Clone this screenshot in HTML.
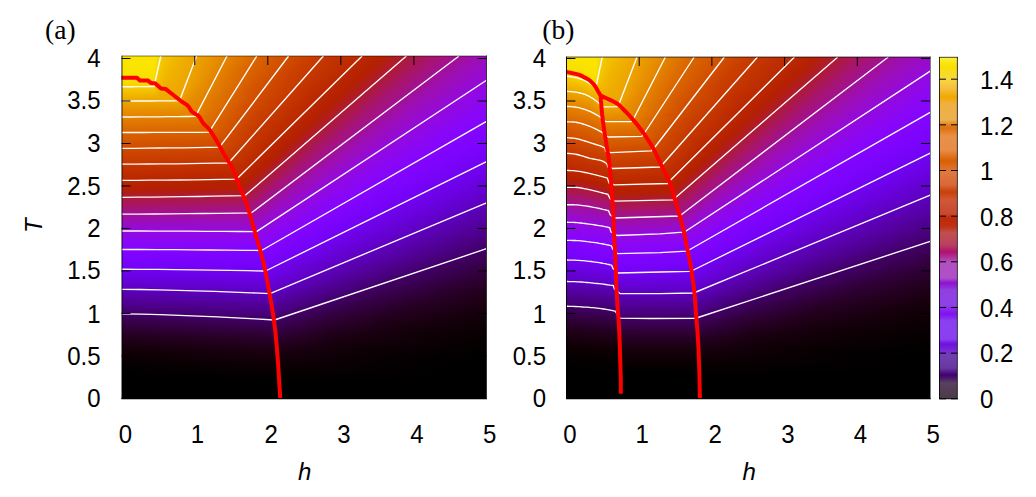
<!DOCTYPE html>
<html><head><meta charset="utf-8">
<style>
html,body{margin:0;padding:0;background:#fff;}
body{width:1036px;height:497px;position:relative;overflow:hidden;font-family:"Liberation Sans",sans-serif;}
.hm{position:absolute;overflow:hidden;}
.hm div{position:absolute;left:0;width:100%;}
#ha{left:122px;top:56px;width:364px;height:343px;}
#hb{left:566px;top:57px;width:364px;height:342px;}
#cb{position:absolute;left:939px;top:57px;width:18px;height:342px;background:linear-gradient(180deg,#fff040 0.0px,#fbe818 5.0px,#f8e000 9.0px,#f8dc20 16.0px,#f8d840 22.0px,#f4c040 31.0px,#f0a800 40.0px,#f0b040 47.0px,#ecb050 63.0px,#e08020 68.0px,#e07010 71.0px,#e89048 79.0px,#e88c48 93.0px,#d86000 104.0px,#dc6a20 109.0px,#e07840 115.0px,#d86838 128.0px,#c84008 135.0px,#d05838 143.0px,#c84830 157.0px,#c02808 161.0px,#c03010 169.0px,#c05050 176.0px,#b84060 188.0px,#b01070 195.0px,#b050c0 205.0px,#b050c8 221.0px,#9010d0 226.0px,#9040e0 233.0px,#9040e8 248.0px,#8010f0 257.0px,#8a40f0 264.0px,#8a40f0 282.0px,#7010e0 287.0px,#7830d0 295.0px,#7040b0 299.0px,#6838a0 311.0px,#400070 318.0px,#5a4060 326.0px,#4a3a48 342.0px);}
svg{position:absolute;left:0;top:0;}
</style></head><body>
<div class="hm" id="ha">
<div style="top:0px;height:1px;background:linear-gradient(90deg,#fbe600 0.5px,#fae400 33.5px,#f3c100 43.5px,#ec9f00 78.5px,#da6300 136.5px,#c73900 196.5px,#b42003 261.5px,#a7146c 310.5px,#9d0eb2 356.5px,#9b0dba 363.5px)"></div>
<div style="top:1px;height:1px;background:linear-gradient(90deg,#fbe600 0.5px,#fae300 33.5px,#f4c300 42.5px,#f0af00 61.5px,#ec9f00 78.5px,#d85e00 140.5px,#c43500 204.5px,#b42003 260.5px,#a7146c 309.5px,#9c0eb2 355.5px,#9b0dbc 363.5px)"></div>
<div style="top:2px;height:1px;background:linear-gradient(90deg,#fbe600 0.5px,#fae300 33.5px,#f4c200 42.5px,#efad00 64.5px,#eb9e00 78.5px,#d85d00 140.5px,#c43400 204.5px,#b42001 258.5px,#a7146b 307.5px,#9d0eb0 352.5px,#9a0dbe 363.5px)"></div>
<div style="top:3px;height:1px;background:linear-gradient(90deg,#fbe600 0.5px,#fae300 33.5px,#f4c300 41.5px,#f1b400 54.5px,#ec9f00 77.5px,#d96000 137.5px,#c53600 199.5px,#b42001 257.5px,#a7146b 306.5px,#9d0eb1 351.5px,#9a0cbf 363.5px)"></div>
<div style="top:4px;height:1px;background:linear-gradient(90deg,#fbe600 0.5px,#fae300 33.5px,#f4c300 41.5px,#f0b300 55.5px,#eca000 76.5px,#db6700 129.5px,#c93c00 186.5px,#b42001 256.5px,#a7146c 305.5px,#9d0eb1 350.5px,#9a0cc1 363.5px)"></div>
<div style="top:5px;height:1px;background:linear-gradient(90deg,#fbe600 0.5px,#fae500 32.5px,#f4c200 41.5px,#f0b300 55.5px,#ec9f00 76.5px,#db6500 130.5px,#c83c00 186.5px,#b42001 255.5px,#a8146a 303.5px,#9d0eb1 348.5px,#990cc2 363.5px)"></div>
<div style="top:6px;height:1px;background:linear-gradient(90deg,#fbe600 0.5px,#fae500 32.5px,#f3c100 41.5px,#f0b200 56.5px,#ec9f00 76.5px,#d85f00 136.5px,#c53600 198.5px,#b42002 254.5px,#a7146b 302.5px,#9d0eb1 347.5px,#990cc4 363.5px)"></div>
<div style="top:7px;height:1px;background:linear-gradient(90deg,#fbe500 0.5px,#fae400 32.5px,#f4c300 40.5px,#f0b300 53.5px,#eca000 75.5px,#db6600 128.5px,#c83c00 184.5px,#b42002 253.5px,#a7146b 301.5px,#9d0eb2 346.5px,#990cc5 363.5px)"></div>
<div style="top:8px;height:1px;background:linear-gradient(90deg,#fbe500 0.5px,#fae400 32.5px,#f4c200 40.5px,#f0b300 53.5px,#eca100 74.5px,#dc6900 124.5px,#c93d00 181.5px,#b42002 252.5px,#a7146c 300.5px,#9d0eb2 345.5px,#980cc7 363.5px)"></div>
<div style="top:9px;height:1px;background:linear-gradient(90deg,#fae500 0.5px,#fae400 32.5px,#f3c100 40.5px,#f0b200 53.5px,#eca000 74.5px,#db6700 125.5px,#c93d00 181.5px,#b42002 251.5px,#a7146c 299.5px,#9c0eb3 344.5px,#980cc8 363.5px)"></div>
<div style="top:10px;height:1px;background:linear-gradient(90deg,#fae500 0.5px,#fae400 32.5px,#f4c300 39.5px,#f1b400 50.5px,#eca100 73.5px,#dc6a00 121.5px,#ca3f00 177.5px,#b42003 250.5px,#a7146d 298.5px,#9c0eb3 343.5px,#980bca 363.5px)"></div>
<div style="top:11px;height:1px;background:linear-gradient(90deg,#fae500 0.5px,#fae300 32.5px,#f4c200 39.5px,#f0b300 51.5px,#eca000 73.5px,#dc6800 123.5px,#c93d00 179.5px,#b42003 249.5px,#a7146b 296.5px,#9d0eb1 340.5px,#980bcb 363.5px)"></div>
<div style="top:12px;height:1px;background:linear-gradient(90deg,#fae400 0.5px,#fae300 32.5px,#f4c400 38.5px,#f1b400 48.5px,#eca100 72.5px,#dc6a00 120.5px,#ca3e00 176.5px,#b42003 248.5px,#a7146c 295.5px,#9d0eb2 339.5px,#970bcd 363.5px)"></div>
<div style="top:13px;height:1px;background:linear-gradient(90deg,#fae400 0.5px,#fae200 32.5px,#f4c300 38.5px,#f1b400 48.5px,#eca000 72.5px,#dc6800 122.5px,#c93d00 177.5px,#b42001 246.5px,#a8156a 293.5px,#9d0eb1 337.5px,#970bce 363.5px)"></div>
<div style="top:14px;height:1px;background:linear-gradient(90deg,#fae400 0.5px,#fae200 32.5px,#f4c200 38.5px,#f0b300 49.5px,#eca100 71.5px,#dc6a00 119.5px,#ca3f00 174.5px,#b42001 245.5px,#a7146b 292.5px,#9d0eb0 335.5px,#970bcf 363.5px)"></div>
<div style="top:15px;height:1px;background:linear-gradient(90deg,#fae300 0.5px,#fae100 32.5px,#f4c500 37.5px,#f1b500 46.5px,#eda200 70.5px,#dd6c00 116.5px,#ca3f00 172.5px,#b42001 244.5px,#a7146b 291.5px,#9d0eb0 334.5px,#960bd1 363.5px)"></div>
<div style="top:16px;height:1px;background:linear-gradient(90deg,#fae300 0.5px,#fae100 32.5px,#f4c300 37.5px,#f1b400 46.5px,#eca200 70.5px,#dc6a00 118.5px,#ca3e00 173.5px,#b42001 243.5px,#a7146b 290.5px,#9d0eb1 333.5px,#960bd2 363.5px)"></div>
<div style="top:17px;height:1px;background:linear-gradient(90deg,#fae300 0.5px,#fae000 32.5px,#f4c200 37.5px,#f1b400 46.5px,#eda300 69.5px,#dd6d00 114.5px,#cb4000 169.5px,#b42002 242.5px,#a7146c 289.5px,#9d0eb1 332.5px,#960ad4 363.5px)"></div>
<div style="top:18px;height:1px;background:linear-gradient(90deg,#fae200 0.5px,#f9df00 32.5px,#f4c500 36.5px,#f1b500 44.5px,#eda400 68.5px,#df7200 108.5px,#cc4300 163.5px,#b62200 235.5px,#b42002 241.5px,#a7146c 288.5px,#9d0eb2 331.5px,#950ad5 363.5px)"></div>
<div style="top:19px;height:1px;background:linear-gradient(90deg,#fae100 0.5px,#f9de00 32.5px,#f4c400 36.5px,#f1b400 44.5px,#eda300 68.5px,#de6e00 112.5px,#cb4000 167.5px,#b42002 240.5px,#a7146b 286.5px,#9d0eb1 329.5px,#950ad6 363.5px)"></div>
<div style="top:20px;height:1px;background:linear-gradient(90deg,#fae100 0.5px,#fae000 31.5px,#f8d500 33.5px,#f4c300 36.5px,#f1b400 44.5px,#eda400 67.5px,#e07400 105.5px,#cd4500 159.5px,#b72300 229.5px,#b42002 239.5px,#a7146b 285.5px,#9d0eb2 328.5px,#950ad7 363.5px)"></div>
<div style="top:21px;height:1px;background:linear-gradient(90deg,#fae000 0.5px,#f9e000 31.5px,#f7d400 33.5px,#f3c100 36.5px,#f0b200 45.5px,#eda300 67.5px,#de6e00 110.5px,#cb4100 164.5px,#b52000 236.5px,#a71472 287.5px,#9c0db6 330.5px,#940ad9 363.5px)"></div>
<div style="top:22px;height:1px;background:linear-gradient(90deg,#f9df00 0.5px,#f9df00 31.5px,#f3c000 36.5px,#f0b200 45.5px,#eda500 66.5px,#e48300 92.5px,#d35100 141.5px,#be2c00 204.5px,#b42003 237.5px,#a7146c 283.5px,#9c0eb3 326.5px,#940ada 363.5px)"></div>
<div style="top:23px;height:1px;background:linear-gradient(90deg,#f9de00 0.5px,#f9dd00 31.5px,#f3bf00 36.5px,#f0b100 45.5px,#eda400 66.5px,#de7000 107.5px,#cc4200 161.5px,#b52100 232.5px,#b42003 236.5px,#a7146d 282.5px,#9c0eb3 325.5px,#940adb 363.5px)"></div>
<div style="top:24px;height:1px;background:linear-gradient(90deg,#f9dc00 0.5px,#f9dc00 31.5px,#f4c100 35.5px,#f0b300 42.5px,#eda500 65.5px,#e58500 89.5px,#d25000 141.5px,#bd2b00 204.5px,#b42003 235.5px,#a7146b 280.5px,#9d0eb1 322.5px,#9309dc 363.5px)"></div>
<div style="top:25px;height:1px;background:linear-gradient(90deg,#f9db00 0.5px,#f9db00 31.5px,#f3c000 35.5px,#f0b100 43.5px,#eda400 65.5px,#df7300 103.5px,#cd4400 156.5px,#b72200 225.5px,#b41f03 234.5px,#a7146c 279.5px,#9d0eb1 321.5px,#9309dd 362.5px,#9309de 363.5px)"></div>
<div style="top:26px;height:1px;background:linear-gradient(90deg,#f8d900 0.5px,#f8d900 31.5px,#f3bf00 35.5px,#f0b100 43.5px,#eda600 64.5px,#e78b00 82.5px,#d25100 139.5px,#be2b00 201.5px,#b42001 232.5px,#a8146a 277.5px,#9d0eb1 319.5px,#9309dc 360.5px,#9309df 363.5px)"></div>
<div style="top:27px;height:1px;background:linear-gradient(90deg,#f8d700 0.5px,#f8d700 31.5px,#f3bd00 35.5px,#f0b000 44.5px,#eda500 64.5px,#e68900 84.5px,#d25000 139.5px,#bd2b00 201.5px,#b42001 231.5px,#a7146b 276.5px,#9d0eb0 317.5px,#940adb 357.5px,#9209e0 363.5px)"></div>
<div style="top:28px;height:1px;background:linear-gradient(90deg,#f8d500 0.5px,#f7d500 31.5px,#f2bc00 35.5px,#f0af00 44.5px,#eda600 63.5px,#e88f00 78.5px,#d35200 136.5px,#be2c00 197.5px,#b42001 230.5px,#a7146b 275.5px,#9d0eb0 316.5px,#940adc 356.5px,#9209e1 363.5px)"></div>
<div style="top:29px;height:1px;background:linear-gradient(90deg,#f7d300 0.5px,#f7d200 31.5px,#f2ba00 35.5px,#efae00 45.5px,#eda500 63.5px,#e89000 77.5px,#d35300 134.5px,#bf2d00 195.5px,#b42002 229.5px,#a7146c 274.5px,#9d0eb1 315.5px,#930adc 355.5px,#9209e3 363.5px)"></div>
<div style="top:30px;height:1px;background:linear-gradient(90deg,#f6d000 0.5px,#f6cf00 31.5px,#f2b900 35.5px,#efad00 46.5px,#eda400 63.5px,#e78e00 78.5px,#d35100 135.5px,#be2c00 196.5px,#b42002 228.5px,#a7146c 273.5px,#9d0eb1 314.5px,#9309dc 354.5px,#9109e4 363.5px)"></div>
<div style="top:31px;height:1px;background:linear-gradient(90deg,#f6cd00 0.5px,#f6cc00 31.5px,#f1b800 35.5px,#efac00 47.5px,#eda600 62.5px,#e99500 72.5px,#d45400 131.5px,#bf2d00 191.5px,#b42002 227.5px,#a7146d 272.5px,#9d0eb2 313.5px,#9309dd 353.5px,#9109e5 363.5px)"></div>
<div style="top:32px;height:1px;background:linear-gradient(90deg,#f5ca00 0.5px,#f5c900 31.5px,#f1b600 35.5px,#efab00 48.5px,#eda500 62.5px,#e99400 72.5px,#d45300 131.5px,#bf2d00 191.5px,#b42002 226.5px,#a7146b 270.5px,#9d0eb1 311.5px,#9309dd 351.5px,#9008e6 363.5px)"></div>
<div style="top:33px;height:1px;background:linear-gradient(90deg,#f5c700 0.5px,#f5c600 31.5px,#f1b500 35.5px,#eeab00 49.5px,#eda600 61.5px,#e99400 71.5px,#d35300 131.5px,#bf2d00 191.5px,#b42003 225.5px,#a7146c 269.5px,#9d0eb2 310.5px,#9309dd 350.5px,#9008e7 363.5px)"></div>
<div style="top:34px;height:1px;background:linear-gradient(90deg,#f4c400 0.5px,#f4c300 31.5px,#f0b200 36.5px,#eda600 61.5px,#e99400 70.5px,#d35100 132.5px,#be2c00 192.5px,#b42003 224.5px,#a7146c 268.5px,#9d0eb2 309.5px,#9309dd 349.5px,#9008e8 363.5px)"></div>
<div style="top:35px;height:1px;background:linear-gradient(90deg,#f3c100 0.5px,#f3c000 31.5px,#f0b100 36.5px,#eda400 61.5px,#e99400 70.5px,#d35100 132.5px,#be2c00 191.5px,#b42003 223.5px,#a7146d 267.5px,#9c0eb3 308.5px,#9309de 348.5px,#8f08e9 363.5px)"></div>
<div style="top:36px;height:1px;background:linear-gradient(90deg,#f3be00 0.5px,#f3bd00 31.5px,#efae00 37.5px,#eda600 60.5px,#e99500 68.5px,#d25000 132.5px,#be2b00 191.5px,#b42001 221.5px,#a7146b 265.5px,#9d0eb0 305.5px,#940adc 344.5px,#8f08ea 363.5px)"></div>
<div style="top:37px;height:1px;background:linear-gradient(90deg,#f2bb00 0.5px,#f1b800 32.5px,#efad00 38.5px,#eda500 60.5px,#e99400 68.5px,#d24f00 133.5px,#bd2a00 192.5px,#b42001 220.5px,#a7146c 264.5px,#9d0eb1 304.5px,#930adc 343.5px,#8f08eb 363.5px)"></div>
<div style="top:38px;height:1px;background:linear-gradient(90deg,#f2b800 0.5px,#f1b500 32.5px,#eeab00 40.5px,#eda600 59.5px,#e99400 67.5px,#d24e00 133.5px,#bd2a00 192.5px,#b42001 219.5px,#a7146c 263.5px,#9d0eb1 303.5px,#9309dd 342.5px,#8e08ec 363.5px)"></div>
<div style="top:39px;height:1px;background:linear-gradient(90deg,#f1b500 0.5px,#f0b300 32.5px,#eea900 42.5px,#eda600 59.5px,#e99500 66.5px,#d14e00 133.5px,#bc2a00 192.5px,#b42001 218.5px,#a7146d 262.5px,#9d0eb2 302.5px,#9309dd 341.5px,#8e08ed 363.5px)"></div>
<div style="top:40px;height:1px;background:linear-gradient(90deg,#f0b300 0.5px,#f0b000 32.5px,#eea800 45.5px,#eda400 59.5px,#e99400 66.5px,#d14d00 133.5px,#bc2a00 191.5px,#b42001 217.5px,#a7146b 260.5px,#9d0eb0 299.5px,#940adc 338.5px,#8d07ee 363.5px)"></div>
<div style="top:41px;height:1px;background:linear-gradient(90deg,#f0b000 0.5px,#efac00 33.5px,#eda600 58.5px,#e99400 65.5px,#d14d00 133.5px,#bc2900 191.5px,#b42002 216.5px,#a7146c 259.5px,#9d0eb0 298.5px,#930adc 337.5px,#8d07ef 363.5px)"></div>
<div style="top:42px;height:1px;background:linear-gradient(90deg,#efad00 0.5px,#eeaa00 34.5px,#eda500 58.5px,#e99500 64.5px,#d14d00 132.5px,#bc2900 190.5px,#b42002 215.5px,#a7146c 258.5px,#9d0eb1 297.5px,#9309dd 336.5px,#8d07f0 363.5px)"></div>
<div style="top:43px;height:1px;background:linear-gradient(90deg,#eeaa00 0.5px,#eda600 57.5px,#e99400 64.5px,#d14c00 132.5px,#bc2900 190.5px,#b42002 214.5px,#a7146d 257.5px,#9d0eb1 296.5px,#9309dd 335.5px,#8c07f1 363.5px)"></div>
<div style="top:44px;height:1px;background:linear-gradient(90deg,#eea800 0.5px,#eda600 57.5px,#e99600 62.5px,#d14d00 131.5px,#bc2900 188.5px,#b42002 213.5px,#a7146d 256.5px,#9d0eb2 295.5px,#9309de 334.5px,#8c07f2 363.5px)"></div>
<div style="top:45px;height:1px;background:linear-gradient(90deg,#eda500 0.5px,#eda400 57.5px,#e99400 62.5px,#e07600 90.5px,#cd4500 139.5px,#b82400 201.5px,#b42003 212.5px,#a7146b 254.5px,#9d0eb1 293.5px,#930adc 331.5px,#8c07f3 363.5px)"></div>
<div style="top:46px;height:1px;background:linear-gradient(90deg,#eda300 0.5px,#eca200 57.5px,#e89200 63.5px,#e37e00 83.5px,#d04b00 131.5px,#bc2800 188.5px,#b42003 211.5px,#a7146c 253.5px,#9d0eb2 292.5px,#9309dd 330.5px,#8b07f3 363.5px)"></div>
<div style="top:47px;height:1px;background:linear-gradient(90deg,#eca000 0.5px,#ec9f00 57.5px,#e89100 63.5px,#e38000 81.5px,#d14c00 129.5px,#bc2900 185.5px,#b42003 210.5px,#a7146c 252.5px,#9d0eb2 291.5px,#9309dd 329.5px,#8b07f4 363.5px)"></div>
<div style="top:48px;height:1px;background:linear-gradient(90deg,#eb9e00 0.5px,#eb9d00 57.5px,#e78e00 64.5px,#e48100 80.5px,#d14d00 127.5px,#bd2a00 183.5px,#b42001 208.5px,#a7146b 250.5px,#9d0eb0 288.5px,#930adc 326.5px,#8a07f5 363.5px)"></div>
<div style="top:49px;height:1px;background:linear-gradient(90deg,#eb9c00 0.5px,#eb9b00 57.5px,#e78d00 64.5px,#e48200 79.5px,#d24f00 124.5px,#bd2b00 180.5px,#b42001 207.5px,#a7146b 249.5px,#9d0eb0 287.5px,#9309dc 325.5px,#8a06f6 363.5px)"></div>
<div style="top:50px;height:1px;background:linear-gradient(90deg,#ea9900 0.5px,#ea9800 57.5px,#e78c00 65.5px,#e48100 79.5px,#d14d00 126.5px,#bc2900 182.5px,#b42001 206.5px,#a7146c 248.5px,#9d0eb1 286.5px,#930adc 323.5px,#8a06f6 363.5px)"></div>
<div style="top:51px;height:1px;background:linear-gradient(90deg,#ea9700 0.5px,#e99300 58.5px,#e68800 71.5px,#d14c00 126.5px,#bc2900 181.5px,#b42001 205.5px,#a7146c 247.5px,#9d0eb1 285.5px,#9309dd 323.5px,#8906f7 363.5px)"></div>
<div style="top:52px;height:1px;background:linear-gradient(90deg,#e99500 0.5px,#e89100 58.5px,#e38000 78.5px,#d14d00 125.5px,#bc2900 180.5px,#b42002 204.5px,#a7146d 246.5px,#9d0eb2 284.5px,#9309de 322.5px,#8906f8 363.5px)"></div>
<div style="top:53px;height:1px;background:linear-gradient(90deg,#e99300 0.5px,#e88f00 58.5px,#e48100 77.5px,#d45500 115.5px,#c02e00 168.5px,#b42002 203.5px,#a7146b 244.5px,#9d0eb0 281.5px,#940adc 318.5px,#8906f7 360.5px,#8906f8 363.5px)"></div>
<div style="top:54px;height:1px;background:linear-gradient(90deg,#e89000 0.5px,#e78e00 58.5px,#e38000 77.5px,#d04c00 124.5px,#bc2900 178.5px,#b42002 202.5px,#a7146c 243.5px,#9d0eb0 280.5px,#930adc 317.5px,#8906f7 359.5px,#8806f9 363.5px)"></div>
<div style="top:55px;height:1px;background:linear-gradient(90deg,#e78e00 0.5px,#e68b00 59.5px,#e48100 76.5px,#dc6900 95.5px,#ca3e00 140.5px,#b42002 201.5px,#a7146c 242.5px,#9d0eb1 279.5px,#9309dc 316.5px,#8906f7 357.5px,#8806f9 363.5px)"></div>
<div style="top:56px;height:1px;background:linear-gradient(90deg,#e78c00 0.5px,#e68800 60.5px,#e48300 75.5px,#df7300 85.5px,#cb4200 135.5px,#b52100 196.5px,#b42003 200.5px,#a7146d 241.5px,#9d0eb1 278.5px,#9309dd 315.5px,#8906f7 356.5px,#8706fa 363.5px)"></div>
<div style="top:57px;height:1px;background:linear-gradient(90deg,#e68a00 0.5px,#e58600 63.5px,#e48100 75.5px,#df7200 86.5px,#cb4200 134.5px,#b52100 195.5px,#b42003 199.5px,#a7146d 240.5px,#9d0eb2 277.5px,#9309dd 314.5px,#8906f8 355.5px,#8706fa 363.5px)"></div>
<div style="top:58px;height:1px;background:linear-gradient(90deg,#e68800 0.5px,#e48400 73.5px,#df7200 84.5px,#ca4000 136.5px,#b42003 198.5px,#a7146c 238.5px,#9d0eb1 275.5px,#930adc 311.5px,#8906f7 352.5px,#8706fb 363.5px)"></div>
<div style="top:59px;height:1px;background:linear-gradient(90deg,#e58600 0.5px,#e48100 74.5px,#df7200 84.5px,#ca3f00 136.5px,#b42000 196.5px,#a7146c 237.5px,#9d0eb2 274.5px,#9309dd 310.5px,#8906f7 351.5px,#8605fb 363.5px)"></div>
<div style="top:60px;height:1px;background:linear-gradient(90deg,#e48400 0.5px,#e48200 73.5px,#df7300 81.5px,#c93d00 138.5px,#b42001 195.5px,#a7146d 236.5px,#9d0eb2 273.5px,#9309de 310.5px,#8906f8 351.5px,#8605fc 363.5px)"></div>
<div style="top:61px;height:1px;background:linear-gradient(90deg,#e48200 0.5px,#e38000 73.5px,#df7100 82.5px,#c93c00 138.5px,#b42001 194.5px,#a7146b 234.5px,#9d0eb0 270.5px,#940adc 306.5px,#8906f7 347.5px,#8505fc 363.5px)"></div>
<div style="top:62px;height:1px;background:linear-gradient(90deg,#e37f00 0.5px,#e27b00 74.5px,#d04c00 118.5px,#bc2900 170.5px,#b42001 193.5px,#a7146c 233.5px,#9d0eb0 269.5px,#930adc 305.5px,#8906f7 345.5px,#8505fd 363.5px)"></div>
<div style="top:63px;height:1px;background:linear-gradient(90deg,#e37d00 0.5px,#e17a00 74.5px,#cb4000 131.5px,#b52000 191.5px,#a71471 234.5px,#9c0db5 271.5px,#9209e0 308.5px,#8806f9 349.5px,#8505fd 363.5px)"></div>
<div style="top:64px;height:1px;background:linear-gradient(90deg,#e27b00 0.5px,#e17800 74.5px,#c93d00 134.5px,#b42002 191.5px,#a7146d 231.5px,#9d0eb1 267.5px,#9309dd 303.5px,#8906f8 343.5px,#8405fd 363.5px)"></div>
<div style="top:65px;height:1px;background:linear-gradient(90deg,#e17900 0.5px,#e07600 74.5px,#c83b00 137.5px,#b42002 190.5px,#a7146d 230.5px,#9d0eb2 266.5px,#9309de 302.5px,#8906f8 342.5px,#8405fd 363.5px)"></div>
<div style="top:66px;height:1px;background:linear-gradient(90deg,#e17700 0.5px,#e07400 74.5px,#d65a00 101.5px,#c33300 148.5px,#b42002 189.5px,#a7146c 228.5px,#9d0eaf 263.5px,#940adb 298.5px,#8906f7 338.5px,#8305fe 363.5px)"></div>
<div style="top:67px;height:1px;background:linear-gradient(90deg,#e07500 0.5px,#df7300 74.5px,#d85e00 97.5px,#c53600 142.5px,#b42002 188.5px,#a7146c 227.5px,#9d0eb0 262.5px,#940adc 297.5px,#8906f7 337.5px,#8305fe 363.5px)"></div>
<div style="top:68px;height:1px;background:linear-gradient(90deg,#df7300 0.5px,#de7000 75.5px,#d96200 93.5px,#c63800 138.5px,#b42003 187.5px,#a7146d 226.5px,#9d0eb1 261.5px,#930adc 296.5px,#8906f7 336.5px,#8305fe 363.5px)"></div>
<div style="top:69px;height:1px;background:linear-gradient(90deg,#df7100 0.5px,#de6e00 75.5px,#da6200 92.5px,#c73900 136.5px,#b42003 186.5px,#a7146d 225.5px,#9d0eb1 260.5px,#9309dd 295.5px,#8906f7 334.5px,#8205fe 363.5px)"></div>
<div style="top:70px;height:1px;background:linear-gradient(90deg,#de7000 0.5px,#dd6c00 76.5px,#da6300 91.5px,#c73a00 134.5px,#b42000 184.5px,#a7146b 223.5px,#9d0eb0 258.5px,#930adc 293.5px,#8906f7 332.5px,#8204ff 363.5px)"></div>
<div style="top:71px;height:1px;background:linear-gradient(90deg,#de6e00 0.5px,#dc6a00 77.5px,#da6300 90.5px,#c83b00 131.5px,#b42000 183.5px,#a7146c 222.5px,#9d0eb1 257.5px,#9309dd 292.5px,#8906f7 331.5px,#8104ff 363.5px)"></div>
<div style="top:72px;height:1px;background:linear-gradient(90deg,#dd6c00 0.5px,#dc6800 81.5px,#d96200 90.5px,#c63900 134.5px,#b42001 182.5px,#a7146d 221.5px,#9d0eb2 256.5px,#9309dd 291.5px,#8906f8 330.5px,#8104ff 363.5px)"></div>
<div style="top:73px;height:1px;background:linear-gradient(90deg,#dc6a00 0.5px,#db6600 87.5px,#cb4100 122.5px,#b52100 178.5px,#b41f04 182.5px,#a7146d 220.5px,#9d0eb2 255.5px,#9309de 290.5px,#8906f8 329.5px,#8104ff 363.5px)"></div>
<div style="top:74px;height:1px;background:linear-gradient(90deg,#dc6800 0.5px,#db6500 87.5px,#ce4700 114.5px,#b92600 166.5px,#b42001 180.5px,#a7146b 218.5px,#9d0eb0 252.5px,#940adb 286.5px,#8906f7 325.5px,#8004ff 363.5px)"></div>
<div style="top:75px;height:1px;background:linear-gradient(90deg,#db6600 0.5px,#da6400 87.5px,#d14e00 106.5px,#bd2b00 154.5px,#b42001 179.5px,#a7146c 217.5px,#9d0eb0 251.5px,#940adc 285.5px,#8906f7 324.5px,#8004ff 363.5px)"></div>
<div style="top:76px;height:1px;background:linear-gradient(90deg,#da6500 0.5px,#da6300 87.5px,#cb4100 119.5px,#b62100 174.5px,#b41f05 179.5px,#a7146d 216.5px,#9d0eb1 250.5px,#9309dc 284.5px,#8906f7 322.5px,#7f04ff 363.5px)"></div>
<div style="top:77px;height:1px;background:linear-gradient(90deg,#da6300 0.5px,#d96100 87.5px,#c63700 132.5px,#b42002 177.5px,#a7146d 215.5px,#9d0eb1 249.5px,#9309dd 283.5px,#8906f7 321.5px,#7f04ff 363.5px)"></div>
<div style="top:78px;height:1px;background:linear-gradient(90deg,#d96100 0.5px,#d85d00 88.5px,#c23200 139.5px,#b42002 176.5px,#a7146e 214.5px,#9d0eb2 248.5px,#9309dd 282.5px,#8906f8 320.5px,#7e04ff 363.5px)"></div>
<div style="top:79px;height:1px;background:linear-gradient(90deg,#d85f00 0.5px,#d75c00 88.5px,#c13000 141.5px,#b42003 175.5px,#a7146c 212.5px,#9d0eaf 245.5px,#940adb 278.5px,#8906f7 316.5px,#7e04ff 363.5px)"></div>
<div style="top:80px;height:1px;background:linear-gradient(90deg,#d85e00 0.5px,#d75a00 88.5px,#bf2e00 144.5px,#b42003 174.5px,#a7146c 211.5px,#9d0eb0 244.5px,#940adb 277.5px,#8906f7 315.5px,#7e04ff 363.5px)"></div>
<div style="top:81px;height:1px;background:linear-gradient(90deg,#d75c00 0.5px,#d65900 88.5px,#be2c00 146.5px,#b42003 173.5px,#a7146d 210.5px,#9d0eb1 243.5px,#930adc 276.5px,#8906f7 314.5px,#7d04ff 362.5px,#7d04ff 363.5px)"></div>
<div style="top:82px;height:1px;background:linear-gradient(90deg,#d75b00 0.5px,#d55700 89.5px,#bd2a00 149.5px,#b42000 171.5px,#a7146b 208.5px,#9d0eb0 241.5px,#940adb 274.5px,#8906f7 312.5px,#7e04ff 359.5px,#7d03fe 363.5px)"></div>
<div style="top:83px;height:1px;background:linear-gradient(90deg,#d65900 0.5px,#d45500 89.5px,#bc2800 151.5px,#b42000 170.5px,#a7146c 207.5px,#9d0eb0 240.5px,#930adc 273.5px,#8906f7 310.5px,#7e04ff 357.5px,#7c03fe 363.5px)"></div>
<div style="top:84px;height:1px;background:linear-gradient(90deg,#d55700 0.5px,#d45300 90.5px,#ba2700 153.5px,#b42001 169.5px,#a7146c 206.5px,#9d0eb1 239.5px,#9309dc 272.5px,#8906f7 309.5px,#7d04ff 356.5px,#7c03fe 363.5px)"></div>
<div style="top:85px;height:1px;background:linear-gradient(90deg,#d55600 0.5px,#d35200 91.5px,#ba2600 153.5px,#b42001 168.5px,#a7146d 205.5px,#9d0eb2 238.5px,#9309dd 271.5px,#8906f8 308.5px,#7d04ff 355.5px,#7b03fe 363.5px)"></div>
<div style="top:86px;height:1px;background:linear-gradient(90deg,#d45400 0.5px,#d25000 93.5px,#ba2700 151.5px,#b42001 167.5px,#a7146e 204.5px,#9d0eb2 237.5px,#9309de 270.5px,#8906f8 307.5px,#7d04ff 354.5px,#7b03fd 363.5px)"></div>
<div style="top:87px;height:1px;background:linear-gradient(90deg,#d35300 0.5px,#d14e00 97.5px,#bd2b00 142.5px,#b42001 166.5px,#a7146c 202.5px,#9d0eaf 234.5px,#940adb 266.5px,#8906f7 303.5px,#7e04ff 349.5px,#7b03fd 363.5px)"></div>
<div style="top:88px;height:1px;background:linear-gradient(90deg,#d35100 0.5px,#d14d00 98.5px,#bd2a00 143.5px,#b42002 165.5px,#a7146c 201.5px,#9d0eb0 233.5px,#940adc 265.5px,#8906f7 302.5px,#7e04ff 348.5px,#7a03fd 363.5px)"></div>
<div style="top:89px;height:1px;background:linear-gradient(90deg,#d25000 0.5px,#d04c00 98.5px,#bc2900 143.5px,#b42002 164.5px,#a7146d 200.5px,#9d0eb1 232.5px,#930adc 264.5px,#8906f7 301.5px,#7d04ff 347.5px,#7a03fc 363.5px)"></div>
<div style="top:90px;height:1px;background:linear-gradient(90deg,#d14e00 0.5px,#d04b00 98.5px,#bb2800 145.5px,#b42002 163.5px,#a7146e 199.5px,#9d0eb1 231.5px,#9309dd 263.5px,#8906f7 299.5px,#7d04ff 345.5px,#7903fc 363.5px)"></div>
<div style="top:91px;height:1px;background:linear-gradient(90deg,#d14d00 0.5px,#cf4900 98.5px,#ba2600 147.5px,#b42003 162.5px,#a7146e 198.5px,#9d0eb2 230.5px,#9309dd 262.5px,#8906f8 298.5px,#7d04ff 344.5px,#7903fc 363.5px)"></div>
<div style="top:92px;height:1px;background:linear-gradient(90deg,#d04b00 0.5px,#ce4700 99.5px,#b82400 151.5px,#b42003 161.5px,#a7146c 196.5px,#9d0eaf 227.5px,#940adc 259.5px,#8906f7 295.5px,#7e04ff 340.5px,#7803fb 363.5px)"></div>
<div style="top:93px;height:1px;background:linear-gradient(90deg,#cf4a00 0.5px,#cd4600 99.5px,#b72200 153.5px,#b41f03 160.5px,#a7146d 195.5px,#9d0eb0 226.5px,#940adb 257.5px,#8906f7 293.5px,#7e04ff 338.5px,#7803fb 363.5px)"></div>
<div style="top:94px;height:1px;background:linear-gradient(90deg,#cf4800 0.5px,#cd4500 99.5px,#b52100 155.5px,#b41f04 159.5px,#a7146d 194.5px,#9d0eb1 225.5px,#940adc 256.5px,#8906f7 292.5px,#7e04ff 337.5px,#7703fa 363.5px)"></div>
<div style="top:95px;height:1px;background:linear-gradient(90deg,#ce4700 0.5px,#cc4300 100.5px,#b42000 157.5px,#a7146c 192.5px,#9d0eaf 223.5px,#940adb 254.5px,#8906f7 290.5px,#7e04ff 335.5px,#7703fa 363.5px)"></div>
<div style="top:96px;height:1px;background:linear-gradient(90deg,#cd4600 0.5px,#cb4100 100.5px,#b42001 156.5px,#a7146c 191.5px,#9d0eb0 222.5px,#940adc 253.5px,#8906f7 289.5px,#7d04ff 334.5px,#7703f9 363.5px)"></div>
<div style="top:97px;height:1px;background:linear-gradient(90deg,#cd4400 0.5px,#ca4000 101.5px,#b42001 155.5px,#a7146d 190.5px,#9d0eb1 221.5px,#930adc 252.5px,#8906f7 287.5px,#7e04ff 332.5px,#7603f9 363.5px)"></div>
<div style="top:98px;height:1px;background:linear-gradient(90deg,#cc4300 0.5px,#ca3f00 101.5px,#b42001 154.5px,#a7146d 189.5px,#9d0eb2 220.5px,#9309dd 251.5px,#8906f7 286.5px,#7d04ff 331.5px,#7602f8 363.5px)"></div>
<div style="top:99px;height:1px;background:linear-gradient(90deg,#cb4200 0.5px,#c93d00 103.5px,#b42002 153.5px,#a7146e 188.5px,#9d0eb2 219.5px,#9309dd 250.5px,#8906f8 285.5px,#7d04ff 330.5px,#7502f7 363.5px)"></div>
<div style="top:100px;height:1px;background:linear-gradient(90deg,#cb4000 0.5px,#c83c00 105.5px,#b42002 152.5px,#a7146c 186.5px,#9d0eaf 216.5px,#940adb 246.5px,#8a06f7 281.5px,#7e04ff 325.5px,#7502f7 363.5px)"></div>
<div style="top:101px;height:1px;background:linear-gradient(90deg,#ca3f00 0.5px,#c83b00 106.5px,#b42002 151.5px,#a7146d 185.5px,#9d0eb0 215.5px,#940adb 245.5px,#8906f7 280.5px,#7e04ff 324.5px,#7402f6 363.5px)"></div>
<div style="top:102px;height:1px;background:linear-gradient(90deg,#c93e00 0.5px,#c73900 107.5px,#b42002 150.5px,#a7146d 184.5px,#9d0eb1 214.5px,#940adc 244.5px,#8906f7 279.5px,#7d04ff 323.5px,#7402f5 363.5px)"></div>
<div style="top:103px;height:1px;background:linear-gradient(90deg,#c93d00 0.5px,#c63900 107.5px,#b42003 149.5px,#a7146e 183.5px,#9d0eb1 213.5px,#930adc 243.5px,#8906f8 278.5px,#7d04ff 322.5px,#7302f5 363.5px)"></div>
<div style="top:104px;height:1px;background:linear-gradient(90deg,#c83b00 0.5px,#c63700 108.5px,#b42000 147.5px,#a7146f 182.5px,#9d0eb2 212.5px,#9309dd 242.5px,#8906f7 276.5px,#7d04ff 320.5px,#7302f4 363.5px)"></div>
<div style="top:105px;height:1px;background:linear-gradient(90deg,#c73a00 0.5px,#c53600 108.5px,#b42000 146.5px,#a7146d 180.5px,#9d0eaf 209.5px,#940adb 239.5px,#8906f7 273.5px,#7e04ff 316.5px,#7202f3 363.5px)"></div>
<div style="top:106px;height:1px;background:linear-gradient(90deg,#c73900 0.5px,#c43400 109.5px,#b42000 145.5px,#a7146d 179.5px,#9d0eb0 208.5px,#940adc 238.5px,#8906f7 272.5px,#7e04ff 315.5px,#7202f2 363.5px)"></div>
<div style="top:107px;height:1px;background:linear-gradient(90deg,#c63800 0.5px,#c33400 109.5px,#b42000 144.5px,#a7146e 178.5px,#9d0eb0 207.5px,#9309dc 237.5px,#8906f7 271.5px,#7d04ff 314.5px,#7102f1 363.5px)"></div>
<div style="top:108px;height:1px;background:linear-gradient(90deg,#c53700 0.5px,#c33300 109.5px,#b42001 143.5px,#a7146c 176.5px,#9d0eaf 205.5px,#940adb 234.5px,#8906f7 268.5px,#7e04ff 310.5px,#7102f1 363.5px)"></div>
<div style="top:109px;height:1px;background:linear-gradient(90deg,#c53600 0.5px,#c23200 109.5px,#b42001 142.5px,#a7146d 175.5px,#9d0eb0 204.5px,#940adb 233.5px,#8906f7 267.5px,#7e04ff 309.5px,#7002f0 363.5px)"></div>
<div style="top:110px;height:1px;background:linear-gradient(90deg,#c43500 0.5px,#c13000 110.5px,#b42001 141.5px,#a7146d 174.5px,#9d0eb1 203.5px,#930adc 232.5px,#8906f7 266.5px,#7e04ff 308.5px,#7002ef 363.5px)"></div>
<div style="top:111px;height:1px;background:linear-gradient(90deg,#c33300 0.5px,#c02f00 111.5px,#b42002 140.5px,#a7146e 173.5px,#9d0eb1 202.5px,#9309dc 231.5px,#8906f7 264.5px,#7e04ff 306.5px,#7002ee 363.5px)"></div>
<div style="top:112px;height:1px;background:linear-gradient(90deg,#c33200 0.5px,#c02e00 111.5px,#b42002 139.5px,#a7146f 172.5px,#9d0eb2 201.5px,#9309dd 230.5px,#8906f7 263.5px,#7d04ff 305.5px,#6f02ed 363.5px)"></div>
<div style="top:113px;height:1px;background:linear-gradient(90deg,#c23100 0.5px,#bf2d00 113.5px,#b42002 138.5px,#a7146c 170.5px,#9d0eaf 198.5px,#940adb 227.5px,#8906f7 260.5px,#7e04ff 302.5px,#6f02ec 362.5px,#6f02ec 363.5px)"></div>
<div style="top:114px;height:1px;background:linear-gradient(90deg,#c13000 0.5px,#be2c00 114.5px,#b42003 137.5px,#a7146d 169.5px,#9d0eb0 197.5px,#930adc 226.5px,#8906f7 259.5px,#7d04ff 301.5px,#6f02ec 361.5px,#6e02eb 363.5px)"></div>
<div style="top:115px;height:1px;background:linear-gradient(90deg,#c12f00 0.5px,#be2b00 114.5px,#b42003 136.5px,#a7146e 168.5px,#9d0eb1 196.5px,#9309dc 225.5px,#8906f7 258.5px,#7d04ff 300.5px,#6e02eb 360.5px,#6e02ea 363.5px)"></div>
<div style="top:116px;height:1px;background:linear-gradient(90deg,#c02e00 0.5px,#bd2a00 115.5px,#b42000 134.5px,#a7146f 167.5px,#9d0eb1 195.5px,#9309dd 224.5px,#8906f8 257.5px,#7d04ff 299.5px,#6e02ea 360.5px,#6d02e9 363.5px)"></div>
<div style="top:117px;height:1px;background:linear-gradient(90deg,#bf2d00 0.5px,#bc2900 116.5px,#b42000 133.5px,#a7146c 165.5px,#9d0eae 192.5px,#940ada 220.5px,#8a06f7 253.5px,#7e04ff 294.5px,#6f02ed 352.5px,#6d02e8 363.5px)"></div>
<div style="top:118px;height:1px;background:linear-gradient(90deg,#be2c00 0.5px,#bb2800 116.5px,#b42000 132.5px,#a7146d 164.5px,#9d0eaf 191.5px,#940adb 219.5px,#8a06f6 251.5px,#7e04ff 291.5px,#7002ee 348.5px,#6c01e7 363.5px)"></div>
<div style="top:119px;height:1px;background:linear-gradient(90deg,#be2b00 0.5px,#bb2700 117.5px,#b42000 131.5px,#a7146e 163.5px,#9d0eb0 190.5px,#940adb 218.5px,#8906f7 250.5px,#7e04ff 290.5px,#6f02ed 348.5px,#6c01e6 363.5px)"></div>
<div style="top:120px;height:1px;background:linear-gradient(90deg,#bd2a00 0.5px,#ba2600 118.5px,#b42001 130.5px,#a7146f 162.5px,#9d0eb0 189.5px,#930adc 217.5px,#8906f7 249.5px,#7d04ff 290.5px,#6e02ec 349.5px,#6b01e4 363.5px)"></div>
<div style="top:121px;height:1px;background:linear-gradient(90deg,#bc2900 0.5px,#b92500 118.5px,#b42001 129.5px,#a7146c 160.5px,#9d0eaf 187.5px,#940adb 215.5px,#8906f7 247.5px,#7e04ff 287.5px,#6f02ed 345.5px,#6b01e3 363.5px)"></div>
<div style="top:122px;height:1px;background:linear-gradient(90deg,#bc2800 0.5px,#b82400 118.5px,#b42001 128.5px,#a7146d 159.5px,#9d0eb0 186.5px,#930adc 214.5px,#8906f7 246.5px,#7e04ff 286.5px,#6f02ec 344.5px,#6a01e2 363.5px)"></div>
<div style="top:123px;height:1px;background:linear-gradient(90deg,#bb2700 0.5px,#b72300 119.5px,#b42002 127.5px,#a7146e 158.5px,#9d0eb1 185.5px,#940adb 212.5px,#8906f7 244.5px,#7e04ff 284.5px,#6f02ec 342.5px,#6a01e1 363.5px)"></div>
<div style="top:124px;height:1px;background:linear-gradient(90deg,#ba2700 0.5px,#b72300 119.5px,#b42002 126.5px,#a7146e 157.5px,#9d0eb1 184.5px,#930adc 211.5px,#8906f7 242.5px,#7e04ff 282.5px,#6f02ed 339.5px,#6901e0 363.5px)"></div>
<div style="top:125px;height:1px;background:linear-gradient(90deg,#b92600 0.5px,#b62200 120.5px,#b42002 125.5px,#a7146f 156.5px,#9d0eb0 182.5px,#940adc 209.5px,#8906f7 240.5px,#7e04ff 279.5px,#6f02ed 335.5px,#6901de 363.5px)"></div>
<div style="top:126px;height:1px;background:linear-gradient(90deg,#b92500 0.5px,#b52100 121.5px,#b42003 124.5px,#a7146d 154.5px,#9d0eaf 180.5px,#940adb 207.5px,#8a06f7 238.5px,#7e04ff 277.5px,#6f02ed 333.5px,#6801dd 363.5px)"></div>
<div style="top:127px;height:1px;background:linear-gradient(90deg,#b82400 0.5px,#b42000 122.5px,#a71471 154.5px,#9d0eb2 180.5px,#9309dd 207.5px,#8906f7 238.5px,#7e04ff 277.5px,#6f02ec 334.5px,#6801dc 363.5px)"></div>
<div style="top:128px;height:1px;background:linear-gradient(90deg,#b72300 0.5px,#b42002 121.5px,#a61474 154.5px,#9c0db5 180.5px,#9209e0 208.5px,#8806f9 239.5px,#7c03fe 279.5px,#6d02e8 339.5px,#6701da 363.5px)"></div>
<div style="top:129px;height:1px;background:linear-gradient(90deg,#b72200 0.5px,#b42003 119.5px,#b21d17 126.5px,#a61375 153.5px,#9c0db5 179.5px,#9209e0 207.5px,#8806f9 238.5px,#7c03fe 278.5px,#6d02e8 338.5px,#6701d9 363.5px)"></div>
<div style="top:130px;height:1px;background:linear-gradient(90deg,#b62200 0.5px,#b42003 117.5px,#b21d18 125.5px,#a61376 152.5px,#9c0db6 178.5px,#9209e1 206.5px,#8806f9 237.5px,#7c03fe 277.5px,#6c01e7 337.5px,#6601d8 363.5px)"></div>
<div style="top:131px;height:1px;background:linear-gradient(90deg,#b52100 0.5px,#b42000 114.5px,#b11d1c 125.5px,#a61377 151.5px,#9c0db7 177.5px,#9209e2 205.5px,#8806fa 236.5px,#7c03fe 276.5px,#6c01e6 337.5px,#6601d6 363.5px)"></div>
<div style="top:132px;height:1px;background:linear-gradient(90deg,#b52000 0.5px,#b41f07 114.5px,#b11d1c 124.5px,#a61377 150.5px,#9c0db8 176.5px,#9209e2 204.5px,#8706fa 235.5px,#7b03fe 275.5px,#6c01e5 336.5px,#6501d5 363.5px)"></div>
<div style="top:133px;height:1px;background:linear-gradient(90deg,#b41f04 0.5px,#b31e0f 115.5px,#b11c21 124.5px,#a61378 149.5px,#9c0db7 174.5px,#9209e1 201.5px,#8806f9 232.5px,#7c03fe 272.5px,#6c01e6 332.5px,#6501d3 363.5px)"></div>
<div style="top:134px;height:1px;background:linear-gradient(90deg,#b31f0a 0.5px,#b21d15 115.5px,#b01c25 124.5px,#a61379 148.5px,#9c0db7 173.5px,#9209e1 200.5px,#8806fa 231.5px,#7c03fe 271.5px,#6b01e5 332.5px,#6401d2 363.5px)"></div>
<div style="top:135px;height:1px;background:linear-gradient(90deg,#b21e11 0.5px,#b11d1b 115.5px,#b01b29 124.5px,#a5137a 147.5px,#9b0db8 172.5px,#9209e2 199.5px,#8706fa 230.5px,#7b03fe 270.5px,#6b01e4 331.5px,#6401d1 363.5px)"></div>
<div style="top:136px;height:1px;background:linear-gradient(90deg,#b21d17 0.5px,#b01c23 116.5px,#b01b2a 123.5px,#a5137b 146.5px,#9b0db9 171.5px,#9209e3 198.5px,#8706fa 229.5px,#7b03fe 269.5px,#6b01e3 331.5px,#6301cf 363.5px)"></div>
<div style="top:137px;height:1px;background:linear-gradient(90deg,#b11c1d 0.5px,#b01b2a 118.5px,#af1b2e 123.5px,#a5137b 145.5px,#9b0dba 170.5px,#9109e3 197.5px,#8706fb 228.5px,#7b03fd 268.5px,#6a01e3 330.5px,#6201cd 363.5px)"></div>
<div style="top:138px;height:1px;background:linear-gradient(90deg,#b01c24 0.5px,#af1a30 122.5px,#a41285 147.5px,#9a0cbe 171.5px,#9008e7 199.5px,#8605fc 230.5px,#7903fc 271.5px,#6801dd 337.5px,#6201cc 363.5px)"></div>
<div style="top:139px;height:1px;background:linear-gradient(90deg,#b01b2a 0.5px,#ae1a37 123.5px,#a51280 144.5px,#9b0dbb 168.5px,#9109e4 195.5px,#8605fb 226.5px,#7a03fd 266.5px,#6a01e1 329.5px,#6101ca 363.5px)"></div>
<div style="top:140px;height:1px;background:linear-gradient(90deg,#af1a30 0.5px,#ad193d 123.5px,#a3118a 146.5px,#9a0cc2 170.5px,#8f08e9 198.5px,#8505fd 230.5px,#7803fb 272.5px,#6601d7 342.5px,#6101c9 363.5px)"></div>
<div style="top:141px;height:1px;background:linear-gradient(90deg,#ae1a36 0.5px,#ad1843 123.5px,#a21193 148.5px,#990cc6 171.5px,#8e08ed 200.5px,#8305fe 232.5px,#7703f9 275.5px,#6401d1 349.5px,#6001c7 363.5px)"></div>
<div style="top:142px;height:1px;background:linear-gradient(90deg,#ad193c 0.5px,#ac1848 123.5px,#a0109b 150.5px,#970bcc 173.5px,#8d07f0 202.5px,#8204ff 235.5px,#7502f7 280.5px,#6001c8 360.5px,#6001c6 363.5px)"></div>
<div style="top:143px;height:1px;background:linear-gradient(90deg,#ad1843 0.5px,#ab174e 123.5px,#9f0fa4 152.5px,#960ad3 176.5px,#8b07f3 205.5px,#8004ff 240.5px,#7202f2 288.5px,#5f01c4 363.5px)"></div>
<div style="top:144px;height:1px;background:linear-gradient(90deg,#ac1849 0.5px,#aa1754 123.5px,#9e0eac 154.5px,#940ad8 178.5px,#8a06f6 207.5px,#7f04ff 242.5px,#7002ef 292.5px,#5f01c2 363.5px)"></div>
<div style="top:145px;height:1px;background:linear-gradient(90deg,#ab174f 0.5px,#aa165a 123.5px,#9d0eb2 155.5px,#9309dd 180.5px,#8906f7 208.5px,#7e04ff 244.5px,#6e02ec 297.5px,#5e01c0 363.5px)"></div>
<div style="top:146px;height:1px;background:linear-gradient(90deg,#aa1755 0.5px,#a9165f 123.5px,#a5137d 134.5px,#9b0db9 157.5px,#9109e3 183.5px,#8706fa 212.5px,#7b03fe 250.5px,#6b01e4 309.5px,#5e01bf 363.5px)"></div>
<div style="top:147px;height:1px;background:linear-gradient(90deg,#aa165b 0.5px,#a81565 123.5px,#a5137a 132.5px,#9c0db8 155.5px,#9209e1 180.5px,#8806fa 209.5px,#7c03fe 246.5px,#6c01e6 303.5px,#5d01bd 363.5px)"></div>
<div style="top:148px;height:1px;background:linear-gradient(90deg,#a91560 0.5px,#a8146a 123.5px,#a5137f 132.5px,#9b0dbb 155.5px,#9109e4 181.5px,#8706fb 210.5px,#7b03fd 248.5px,#6a01e2 308.5px,#5c01bb 363.5px)"></div>
<div style="top:149px;height:1px;background:linear-gradient(90deg,#a81566 0.5px,#a71472 124.5px,#a5127f 131.5px,#9b0dbc 154.5px,#9109e5 180.5px,#8605fb 209.5px,#7a03fd 247.5px,#6901e0 308.5px,#5c01ba 363.5px)"></div>
<div style="top:150px;height:1px;background:linear-gradient(90deg,#a7146c 0.5px,#a61377 124.5px,#a41283 131.5px,#9a0cbe 154.5px,#9008e7 180.5px,#8605fc 210.5px,#7903fc 249.5px,#6801db 313.5px,#5b01b8 363.5px)"></div>
<div style="top:151px;height:1px;background:linear-gradient(90deg,#a71472 0.5px,#a5137c 124.5px,#a31287 131.5px,#9a0cbf 153.5px,#9008e7 179.5px,#8505fc 209.5px,#7903fc 248.5px,#6701db 312.5px,#5b01b7 363.5px)"></div>
<div style="top:152px;height:1px;background:linear-gradient(90deg,#a61377 0.5px,#a41282 125.5px,#a3118b 131.5px,#990cc2 153.5px,#8f08e9 179.5px,#8505fd 209.5px,#7803fb 248.5px,#6601d8 314.5px,#5a01b5 363.5px)"></div>
<div style="top:153px;height:1px;background:linear-gradient(90deg,#a5137d 0.5px,#a31287 126.5px,#a2118f 131.5px,#990cc5 153.5px,#8e08ec 180.5px,#8405fe 210.5px,#7703fa 250.5px,#6401d3 319.5px,#5a00b3 363.5px)"></div>
<div style="top:154px;height:1px;background:linear-gradient(90deg,#a41282 0.5px,#a3118d 129.5px,#990cc4 151.5px,#8f08ea 177.5px,#8405fd 207.5px,#7703fa 247.5px,#6501d5 314.5px,#5900b2 363.5px)"></div>
<div style="top:155px;height:1px;background:linear-gradient(90deg,#a31288 0.5px,#a21191 129.5px,#990cc7 151.5px,#8e08ed 178.5px,#8305fe 208.5px,#7703f9 248.5px,#6301d0 318.5px,#5900b0 363.5px)"></div>
<div style="top:156px;height:1px;background:linear-gradient(90deg,#a3118d 0.5px,#a11095 129.5px,#980cc8 150.5px,#8e08ee 177.5px,#8305fe 207.5px,#7603f9 248.5px,#6301ce 319.5px,#5800ae 363.5px)"></div>
<div style="top:157px;height:1px;background:linear-gradient(90deg,#a21192 0.5px,#a11099 129.5px,#970bcc 151.5px,#8d07ef 177.5px,#8205fe 208.5px,#7502f7 250.5px,#6101c8 325.5px,#5800ad 363.5px)"></div>
<div style="top:158px;height:1px;background:linear-gradient(90deg,#a11097 0.5px,#a00fa1 130.5px,#960ad4 154.5px,#8b07f3 180.5px,#8004ff 212.5px,#7202f3 256.5px,#5700ab 363.5px)"></div>
<div style="top:159px;height:1px;background:linear-gradient(90deg,#a0109d 0.5px,#9f0fa5 130.5px,#950ad8 155.5px,#8a07f5 181.5px,#7f04ff 213.5px,#7102f1 259.5px,#5700a9 363.5px)"></div>
<div style="top:160px;height:1px;background:linear-gradient(90deg,#9f0fa1 0.5px,#9e0fa9 130.5px,#940adb 156.5px,#8906f7 182.5px,#7e04ff 215.5px,#6f02ed 263.5px,#5600a7 363.5px)"></div>
<div style="top:161px;height:1px;background:linear-gradient(90deg,#9f0fa6 0.5px,#9d0ead 130.5px,#9309df 157.5px,#8906f8 183.5px,#7d03fe 217.5px,#6d02e9 268.5px,#5600a6 363.5px)"></div>
<div style="top:162px;height:1px;background:linear-gradient(90deg,#9e0eab 0.5px,#9d0eb1 130.5px,#9209e3 158.5px,#8706fa 185.5px,#7b03fe 220.5px,#6b01e3 275.5px,#5500a4 363.5px)"></div>
<div style="top:163px;height:1px;background:linear-gradient(90deg,#9d0eb0 0.5px,#9c0db5 130.5px,#9108e6 159.5px,#8605fb 186.5px,#7a03fd 222.5px,#6901de 281.5px,#5400a2 363.5px)"></div>
<div style="top:164px;height:1px;background:linear-gradient(90deg,#9c0db4 0.5px,#9b0db9 130.5px,#8f08e9 160.5px,#8505fd 188.5px,#7803fb 225.5px,#6601d8 287.5px,#5400a0 363.5px)"></div>
<div style="top:165px;height:1px;background:linear-gradient(90deg,#9b0db9 0.5px,#9a0dbe 131.5px,#8e08ec 161.5px,#8405fd 189.5px,#7703fa 227.5px,#6401d3 292.5px,#53009e 363.5px)"></div>
<div style="top:166px;height:1px;background:linear-gradient(90deg,#9a0dbd 0.5px,#9a0cc1 131.5px,#8e08ee 161.5px,#8305fe 190.5px,#7602f8 229.5px,#6201cc 298.5px,#53009d 363.5px)"></div>
<div style="top:167px;height:1px;background:linear-gradient(90deg,#9a0cc1 0.5px,#990cc5 131.5px,#8d07ef 161.5px,#8205fe 190.5px,#7502f7 229.5px,#6101c9 300.5px,#52009b 363.5px)"></div>
<div style="top:168px;height:1px;background:linear-gradient(90deg,#990cc5 0.5px,#980bc9 132.5px,#8d07f1 161.5px,#8204ff 190.5px,#7402f6 230.5px,#5f01c4 304.5px,#520099 363.5px)"></div>
<div style="top:169px;height:1px;background:linear-gradient(90deg,#980bc9 0.5px,#970bcc 133.5px,#8c07f1 160.5px,#8104ff 189.5px,#7402f6 229.5px,#5f01c3 303.5px,#510097 363.5px)"></div>
<div style="top:170px;height:1px;background:linear-gradient(90deg,#970bcd 0.5px,#970bd0 134.5px,#8c07f1 158.5px,#8104ff 187.5px,#7402f6 227.5px,#5f01c3 301.5px,#500095 363.5px)"></div>
<div style="top:171px;height:1px;background:linear-gradient(90deg,#960bd1 0.5px,#960bd3 134.5px,#8c07f2 158.5px,#8104ff 187.5px,#7302f5 227.5px,#5e01bf 303.5px,#500093 363.5px)"></div>
<div style="top:172px;height:1px;background:linear-gradient(90deg,#950ad4 0.5px,#950ad5 134.5px,#8b07f4 158.5px,#8004ff 188.5px,#7202f2 230.5px,#4f0091 363.5px)"></div>
<div style="top:173px;height:1px;background:linear-gradient(90deg,#950ad8 0.5px,#940ad9 135.5px,#8a06f6 159.5px,#7f04ff 189.5px,#7002f0 232.5px,#4f008f 363.5px)"></div>
<div style="top:174px;height:1px;background:linear-gradient(90deg,#940adb 0.5px,#940adc 135.5px,#8906f7 159.5px,#7e04ff 190.5px,#6f02ed 235.5px,#4e008e 363.5px)"></div>
<div style="top:175px;height:1px;background:linear-gradient(90deg,#9309de 0.5px,#9309de 135.5px,#8806f9 160.5px,#7d04fe 191.5px,#6d02ea 238.5px,#4d008c 363.5px)"></div>
<div style="top:176px;height:1px;background:linear-gradient(90deg,#9209e1 0.5px,#9209e1 135.5px,#8806f9 160.5px,#7c03fe 192.5px,#6c01e5 242.5px,#4d008a 363.5px)"></div>
<div style="top:177px;height:1px;background:linear-gradient(90deg,#9109e4 0.5px,#9109e5 136.5px,#8605fb 162.5px,#7a03fd 195.5px,#6901de 250.5px,#4c0088 363.5px)"></div>
<div style="top:178px;height:1px;background:linear-gradient(90deg,#9008e6 0.5px,#9008e7 136.5px,#8505fc 163.5px,#7903fc 197.5px,#6701d9 255.5px,#4c0086 363.5px)"></div>
<div style="top:179px;height:1px;background:linear-gradient(90deg,#9008e9 0.5px,#8f08e9 136.5px,#8405fd 164.5px,#7703fa 199.5px,#6401d3 260.5px,#4b0084 363.5px)"></div>
<div style="top:180px;height:1px;background:linear-gradient(90deg,#8f08eb 0.5px,#8e08ec 137.5px,#8305fe 165.5px,#7603f9 201.5px,#6201cd 265.5px,#4a0082 363.5px)"></div>
<div style="top:181px;height:1px;background:linear-gradient(90deg,#8e08ed 0.5px,#8e07ee 137.5px,#8205fe 165.5px,#7502f8 201.5px,#6101ca 267.5px,#4a0080 363.5px)"></div>
<div style="top:182px;height:1px;background:linear-gradient(90deg,#8d07ef 0.5px,#8d07f1 138.5px,#8104ff 166.5px,#7402f6 203.5px,#5f01c3 273.5px,#49007e 363.5px)"></div>
<div style="top:183px;height:1px;background:linear-gradient(90deg,#8c07f1 0.5px,#8c07f3 139.5px,#8104ff 166.5px,#7302f4 204.5px,#5c01b9 282.5px,#48007c 363.5px)"></div>
<div style="top:184px;height:1px;background:linear-gradient(90deg,#8b07f3 0.5px,#8b07f4 139.5px,#8004ff 167.5px,#7202f2 206.5px,#48007a 363.5px)"></div>
<div style="top:185px;height:1px;background:linear-gradient(90deg,#8b07f5 0.5px,#8a06f6 140.5px,#7e04ff 168.5px,#7002ef 209.5px,#470078 363.5px)"></div>
<div style="top:186px;height:1px;background:linear-gradient(90deg,#8a06f6 0.5px,#8906f7 140.5px,#7d04ff 169.5px,#6e02ec 212.5px,#460075 363.5px)"></div>
<div style="top:187px;height:1px;background:linear-gradient(90deg,#8906f8 0.5px,#8806f9 141.5px,#7c03fe 171.5px,#6c01e6 218.5px,#460073 363.5px)"></div>
<div style="top:188px;height:1px;background:linear-gradient(90deg,#8806f9 0.5px,#8706fb 142.5px,#7b03fd 172.5px,#6a01e1 222.5px,#450071 363.5px)"></div>
<div style="top:189px;height:1px;background:linear-gradient(90deg,#8706fa 0.5px,#8605fc 143.5px,#7903fc 174.5px,#6801dc 227.5px,#44006f 363.5px)"></div>
<div style="top:190px;height:1px;background:linear-gradient(90deg,#8605fb 0.5px,#8405fd 145.5px,#7703fa 178.5px,#6401d2 236.5px,#44006d 363.5px)"></div>
<div style="top:191px;height:1px;background:linear-gradient(90deg,#8505fc 0.5px,#8305fe 145.5px,#7703f9 178.5px,#6301d0 237.5px,#43006b 363.5px)"></div>
<div style="top:192px;height:1px;background:linear-gradient(90deg,#8505fd 0.5px,#8205fe 146.5px,#7502f7 180.5px,#6101c8 243.5px,#420069 363.5px)"></div>
<div style="top:193px;height:1px;background:linear-gradient(90deg,#8405fe 0.5px,#8204ff 146.5px,#7402f6 181.5px,#5f01c3 247.5px,#420067 363.5px)"></div>
<div style="top:194px;height:1px;background:linear-gradient(90deg,#8305fe 0.5px,#8104ff 146.5px,#7302f5 181.5px,#5d01bf 249.5px,#410065 363.5px)"></div>
<div style="top:195px;height:1px;background:linear-gradient(90deg,#8204ff 0.5px,#8004ff 146.5px,#7202f3 182.5px,#400062 363.5px)"></div>
<div style="top:196px;height:1px;background:linear-gradient(90deg,#8104ff 0.5px,#7f04ff 146.5px,#7102f1 183.5px,#3f0060 363.5px)"></div>
<div style="top:197px;height:1px;background:linear-gradient(90deg,#8004ff 0.5px,#7e04ff 147.5px,#6f02ee 186.5px,#3f0060 361.5px,#3f005e 363.5px)"></div>
<div style="top:198px;height:1px;background:linear-gradient(90deg,#7f04ff 0.5px,#7d04ff 147.5px,#6e02ec 187.5px,#3f0060 357.5px,#3e005c 363.5px)"></div>
<div style="top:199px;height:1px;background:linear-gradient(90deg,#7f04ff 0.5px,#7d03fe 147.5px,#6d02e9 189.5px,#400062 351.5px,#3d005a 363.5px)"></div>
<div style="top:200px;height:1px;background:linear-gradient(90deg,#7e04ff 0.5px,#7c03fe 147.5px,#6c01e5 191.5px,#410064 346.5px,#3c0058 363.5px)"></div>
<div style="top:201px;height:1px;background:linear-gradient(90deg,#7d04fe 0.5px,#7b03fe 147.5px,#6a01e2 193.5px,#410065 342.5px,#3c0056 363.5px)"></div>
<div style="top:202px;height:1px;background:linear-gradient(90deg,#7c03fe 0.5px,#7a03fd 148.5px,#6801dd 197.5px,#410065 339.5px,#3b0054 363.5px)"></div>
<div style="top:203px;height:1px;background:linear-gradient(90deg,#7b03fe 0.5px,#7903fc 148.5px,#6701da 198.5px,#410065 336.5px,#3a0052 363.5px)"></div>
<div style="top:204px;height:1px;background:linear-gradient(90deg,#7a03fd 0.5px,#7803fb 148.5px,#6601d7 199.5px,#410064 334.5px,#390050 363.5px)"></div>
<div style="top:205px;height:1px;background:linear-gradient(90deg,#7903fc 0.5px,#7803fb 148.5px,#6501d4 201.5px,#400062 333.5px,#39004e 363.5px)"></div>
<div style="top:206px;height:1px;background:linear-gradient(90deg,#7803fb 0.5px,#7703fa 148.5px,#6401d0 202.5px,#400062 331.5px,#38004c 363.5px)"></div>
<div style="top:207px;height:1px;background:linear-gradient(90deg,#7703fa 0.5px,#7603f9 148.5px,#6201cc 204.5px,#3f005f 331.5px,#37004a 363.5px)"></div>
<div style="top:208px;height:1px;background:linear-gradient(90deg,#7603f9 0.5px,#7602f8 147.5px,#6201cb 203.5px,#3f005f 329.5px,#360048 363.5px)"></div>
<div style="top:209px;height:1px;background:linear-gradient(90deg,#7602f8 0.5px,#7502f7 147.5px,#6001c7 205.5px,#3e005c 329.5px,#360046 363.5px)"></div>
<div style="top:210px;height:1px;background:linear-gradient(90deg,#7502f7 0.5px,#7402f6 147.5px,#5f01c3 207.5px,#3d005a 329.5px,#350044 363.5px)"></div>
<div style="top:211px;height:1px;background:linear-gradient(90deg,#7402f5 0.5px,#7302f5 147.5px,#5d01be 209.5px,#3c0057 330.5px,#340043 363.5px)"></div>
<div style="top:212px;height:1px;background:linear-gradient(90deg,#7302f4 0.5px,#7202f3 147.5px,#3e005d 319.5px,#340041 363.5px)"></div>
<div style="top:213px;height:1px;background:linear-gradient(90deg,#7202f2 0.5px,#7202f2 147.5px,#3e005c 317.5px,#33003f 363.5px)"></div>
<div style="top:214px;height:1px;background:linear-gradient(90deg,#7102f0 0.5px,#7102f0 147.5px,#3e005e 312.5px,#32003d 363.5px)"></div>
<div style="top:215px;height:1px;background:linear-gradient(90deg,#7002ee 0.5px,#7002ef 147.5px,#3f005e 308.5px,#31003b 363.5px)"></div>
<div style="top:216px;height:1px;background:linear-gradient(90deg,#6f02ed 0.5px,#6f02ed 147.5px,#3f0060 303.5px,#31003a 363.5px)"></div>
<div style="top:217px;height:1px;background:linear-gradient(90deg,#6e02eb 0.5px,#6f02ec 147.5px,#3f0061 299.5px,#300038 363.5px)"></div>
<div style="top:218px;height:1px;background:linear-gradient(90deg,#6d02e8 0.5px,#6e02ea 147.5px,#400061 295.5px,#2f0036 363.5px)"></div>
<div style="top:219px;height:1px;background:linear-gradient(90deg,#6c01e6 0.5px,#6d02e8 147.5px,#400062 291.5px,#2f0035 362.5px,#2e0035 363.5px)"></div>
<div style="top:220px;height:1px;background:linear-gradient(90deg,#6b01e4 0.5px,#6c01e7 147.5px,#400063 287.5px,#2f0035 358.5px,#2e0033 363.5px)"></div>
<div style="top:221px;height:1px;background:linear-gradient(90deg,#6a01e1 0.5px,#6b01e5 147.5px,#400063 284.5px,#2f0036 354.5px,#2d0031 363.5px)"></div>
<div style="top:222px;height:1px;background:linear-gradient(90deg,#6901df 0.5px,#6a01e3 147.5px,#410064 280.5px,#2f0036 350.5px,#2c0030 363.5px)"></div>
<div style="top:223px;height:1px;background:linear-gradient(90deg,#6801dc 0.5px,#6a01e1 147.5px,#410064 277.5px,#2f0036 346.5px,#2b002e 363.5px)"></div>
<div style="top:224px;height:1px;background:linear-gradient(90deg,#6701d9 0.5px,#6901df 147.5px,#410064 274.5px,#2f0036 343.5px,#2b002d 363.5px)"></div>
<div style="top:225px;height:1px;background:linear-gradient(90deg,#6601d7 0.5px,#6801dc 147.5px,#410064 271.5px,#2f0036 339.5px,#2a002b 363.5px)"></div>
<div style="top:226px;height:1px;background:linear-gradient(90deg,#6501d4 0.5px,#6701d9 148.5px,#410065 267.5px,#2f0036 335.5px,#29002a 363.5px)"></div>
<div style="top:227px;height:1px;background:linear-gradient(90deg,#6401d1 0.5px,#6601d7 148.5px,#410065 264.5px,#2f0037 331.5px,#280028 363.5px)"></div>
<div style="top:228px;height:1px;background:linear-gradient(90deg,#6301ce 0.5px,#6501d5 148.5px,#410064 262.5px,#2f0036 329.5px,#280027 363.5px)"></div>
<div style="top:229px;height:1px;background:linear-gradient(90deg,#6101ca 0.5px,#6401d2 148.5px,#400063 260.5px,#2f0035 327.5px,#270025 363.5px)"></div>
<div style="top:230px;height:1px;background:linear-gradient(90deg,#6001c7 0.5px,#6301d0 148.5px,#400061 259.5px,#2e0035 325.5px,#260024 363.5px)"></div>
<div style="top:231px;height:1px;background:linear-gradient(90deg,#5f01c4 0.5px,#6201cd 148.5px,#3f0060 257.5px,#2e0034 323.5px,#260023 363.5px)"></div>
<div style="top:232px;height:1px;background:linear-gradient(90deg,#5e01c0 0.5px,#6101ca 149.5px,#3e005e 257.5px,#2d0032 323.5px,#250021 363.5px)"></div>
<div style="top:233px;height:1px;background:linear-gradient(90deg,#5d01bd 0.5px,#6001c7 149.5px,#3e005d 255.5px,#2d0031 321.5px,#240020 363.5px)"></div>
<div style="top:234px;height:1px;background:linear-gradient(90deg,#5c01ba 0.5px,#5f01c4 149.5px,#3d005b 254.5px,#2c0030 320.5px,#23001f 363.5px)"></div>
<div style="top:235px;height:1px;background:linear-gradient(90deg,#5b01b7 0.5px,#5e01c2 149.5px,#3d0059 253.5px,#2c002f 319.5px,#23001e 363.5px)"></div>
<div style="top:236px;height:1px;background:linear-gradient(90deg,#5a00b4 0.5px,#5e01bf 149.5px,#3c0058 252.5px,#2b002e 318.5px,#22001c 363.5px)"></div>
<div style="top:237px;height:1px;background:linear-gradient(90deg,#5900b1 0.5px,#5c01bb 150.5px,#3c0057 250.5px,#2b002d 316.5px,#21001b 363.5px)"></div>
<div style="top:238px;height:1px;background:linear-gradient(90deg,#5800ae 0.5px,#5b01b8 150.5px,#3c0056 248.5px,#2a002c 314.5px,#21001a 363.5px)"></div>
<div style="top:239px;height:1px;background:linear-gradient(90deg,#5700aa 0.5px,#5b01b6 150.5px,#3b0055 246.5px,#2a002c 311.5px,#200019 363.5px)"></div>
<div style="top:240px;height:1px;background:linear-gradient(90deg,#5600a7 0.5px,#5a00b3 150.5px,#3b0054 244.5px,#2a002b 309.5px,#1f0018 363.5px)"></div>
<div style="top:241px;height:1px;background:linear-gradient(90deg,#5500a4 0.5px,#5900b0 150.5px,#3b0053 242.5px,#2a002a 307.5px,#1e0017 363.5px)"></div>
<div style="top:242px;height:1px;background:linear-gradient(90deg,#5400a1 0.5px,#5800ad 150.5px,#3a0052 240.5px,#29002a 305.5px,#1e0016 363.5px)"></div>
<div style="top:243px;height:1px;background:linear-gradient(90deg,#53009d 0.5px,#5700aa 150.5px,#3a0051 238.5px,#290029 303.5px,#1d0015 363.5px)"></div>
<div style="top:244px;height:1px;background:linear-gradient(90deg,#52009a 0.5px,#5600a7 150.5px,#3a0050 236.5px,#290029 300.5px,#1c0014 363.5px)"></div>
<div style="top:245px;height:1px;background:linear-gradient(90deg,#510096 0.5px,#5500a4 150.5px,#39004f 234.5px,#280028 298.5px,#1c0013 363.5px)"></div>
<div style="top:246px;height:1px;background:linear-gradient(90deg,#500093 0.5px,#5400a1 151.5px,#39004e 232.5px,#280027 296.5px,#1b0012 363.5px)"></div>
<div style="top:247px;height:1px;background:linear-gradient(90deg,#4f008f 0.5px,#53009e 151.5px,#38004d 230.5px,#280026 294.5px,#1a0011 363.5px)"></div>
<div style="top:248px;height:1px;background:linear-gradient(90deg,#4d008c 0.5px,#52009b 151.5px,#38004d 227.5px,#280027 290.5px,#1a0010 363.5px)"></div>
<div style="top:249px;height:1px;background:linear-gradient(90deg,#4c0088 0.5px,#510098 151.5px,#38004c 225.5px,#270026 288.5px,#19000f 363.5px)"></div>
<div style="top:250px;height:1px;background:linear-gradient(90deg,#4b0084 0.5px,#500094 152.5px,#38004c 222.5px,#270026 285.5px,#18000f 363.5px)"></div>
<div style="top:251px;height:1px;background:linear-gradient(90deg,#4a0080 0.5px,#4f0091 152.5px,#38004b 220.5px,#270025 283.5px,#18000e 363.5px)"></div>
<div style="top:252px;height:1px;background:linear-gradient(90deg,#49007d 0.5px,#4e008e 152.5px,#37004a 218.5px,#270024 280.5px,#17000d 363.5px)"></div>
<div style="top:253px;height:1px;background:linear-gradient(90deg,#470079 0.5px,#4d008b 152.5px,#370049 216.5px,#260024 278.5px,#16000c 363.5px)"></div>
<div style="top:254px;height:1px;background:linear-gradient(90deg,#460075 0.5px,#4c0087 152.5px,#360048 214.5px,#260023 276.5px,#16000c 363.5px)"></div>
<div style="top:255px;height:1px;background:linear-gradient(90deg,#450071 0.5px,#4b0084 152.5px,#360047 212.5px,#250022 274.5px,#15000b 363.5px)"></div>
<div style="top:256px;height:1px;background:linear-gradient(90deg,#44006d 0.5px,#4a0080 153.5px,#350045 211.5px,#250021 273.5px,#14000a 363.5px)"></div>
<div style="top:257px;height:1px;background:linear-gradient(90deg,#420069 0.5px,#49007c 153.5px,#350044 209.5px,#240020 271.5px,#14000a 361.5px,#14000a 363.5px)"></div>
<div style="top:258px;height:1px;background:linear-gradient(90deg,#410065 0.5px,#480079 153.5px,#340042 208.5px,#24001f 270.5px,#130009 361.5px,#130009 363.5px)"></div>
<div style="top:259px;height:1px;background:linear-gradient(90deg,#400061 0.5px,#470076 153.5px,#340041 206.5px,#23001f 268.5px,#130009 359.5px,#130009 363.5px)"></div>
<div style="top:260px;height:1px;background:linear-gradient(90deg,#3e005d 0.5px,#450072 153.5px,#330040 205.5px,#23001d 267.5px,#120008 360.5px,#120008 363.5px)"></div>
<div style="top:261px;height:1px;background:linear-gradient(90deg,#3d005a 0.5px,#44006f 143.5px,#44006d 155.5px,#32003c 206.5px,#21001b 269.5px,#110007 363.5px)"></div>
<div style="top:262px;height:1px;background:linear-gradient(90deg,#3c0056 0.5px,#43006b 141.5px,#43006b 154.5px,#31003b 205.5px,#20001a 269.5px,#110007 363.5px)"></div>
<div style="top:263px;height:1px;background:linear-gradient(90deg,#3a0052 0.5px,#420067 140.5px,#420067 154.5px,#300038 205.5px,#200019 269.5px,#100006 363.5px)"></div>
<div style="top:264px;height:1px;background:linear-gradient(90deg,#39004e 0.5px,#400063 139.5px,#400064 154.5px,#2f0036 205.5px,#1f0017 270.5px,#100006 363.5px)"></div>
<div style="top:265px;height:1px;background:linear-gradient(90deg,#37004b 0.5px,#3f005f 139.5px,#3f0060 154.5px,#2e0034 205.5px,#1e0015 271.5px,#0f0006 363.5px)"></div>
<div style="top:266px;height:1px;background:linear-gradient(90deg,#360047 0.5px,#3e005c 139.5px,#3e005d 154.5px,#2d0031 205.5px,#1c0014 272.5px,#0f0005 363.5px)"></div>
<div style="top:267px;height:1px;background:linear-gradient(90deg,#350044 0.5px,#3c0058 140.5px,#3d005a 154.5px,#2c002f 205.5px,#1b0013 273.5px,#0e0005 363.5px)"></div>
<div style="top:268px;height:1px;background:linear-gradient(90deg,#330040 0.5px,#3b0055 140.5px,#3c0056 154.5px,#2b002d 205.5px,#1a0011 274.5px,#0d0004 363.5px)"></div>
<div style="top:269px;height:1px;background:linear-gradient(90deg,#32003d 0.5px,#3a0051 140.5px,#3b0053 154.5px,#2a002a 206.5px,#190010 276.5px,#0d0004 363.5px)"></div>
<div style="top:270px;height:1px;background:linear-gradient(90deg,#31003a 0.5px,#39004e 141.5px,#390050 154.5px,#280028 206.5px,#18000f 277.5px,#0c0004 363.5px)"></div>
<div style="top:271px;height:1px;background:linear-gradient(90deg,#2f0037 0.5px,#37004b 142.5px,#38004d 154.5px,#270026 206.5px,#17000d 279.5px,#0c0003 363.5px)"></div>
<div style="top:272px;height:1px;background:linear-gradient(90deg,#2e0033 0.5px,#360047 142.5px,#370049 154.5px,#260024 207.5px,#16000c 282.5px,#0b0003 363.5px)"></div>
<div style="top:273px;height:1px;background:linear-gradient(90deg,#2c0030 0.5px,#350044 143.5px,#360046 154.5px,#250022 207.5px,#15000b 283.5px,#0b0003 363.5px)"></div>
<div style="top:274px;height:1px;background:linear-gradient(90deg,#2b002e 0.5px,#340041 144.5px,#350043 154.5px,#240020 208.5px,#14000a 286.5px,#0a0003 363.5px)"></div>
<div style="top:275px;height:1px;background:linear-gradient(90deg,#2a002b 0.5px,#33003e 146.5px,#330040 154.5px,#23001e 208.5px,#130009 288.5px,#0a0002 363.5px)"></div>
<div style="top:276px;height:1px;background:linear-gradient(90deg,#280028 0.5px,#31003b 146.5px,#32003e 154.5px,#22001c 209.5px,#110008 292.5px,#090002 363.5px)"></div>
<div style="top:277px;height:1px;background:linear-gradient(90deg,#270025 0.5px,#300038 147.5px,#31003b 154.5px,#21001a 209.5px,#100007 294.5px,#090002 363.5px)"></div>
<div style="top:278px;height:1px;background:linear-gradient(90deg,#260023 0.5px,#2f0035 147.5px,#300038 154.5px,#1f0018 210.5px,#0f0006 298.5px,#090002 363.5px)"></div>
<div style="top:279px;height:1px;background:linear-gradient(90deg,#240020 0.5px,#2d0033 147.5px,#2f0035 154.5px,#1e0017 211.5px,#0e0005 302.5px,#080002 363.5px)"></div>
<div style="top:280px;height:1px;background:linear-gradient(90deg,#23001e 0.5px,#2c0030 147.5px,#2d0033 154.5px,#1d0015 212.5px,#0d0004 307.5px,#080001 363.5px)"></div>
<div style="top:281px;height:1px;background:linear-gradient(90deg,#22001c 0.5px,#2b002d 147.5px,#2c0030 154.5px,#1c0013 213.5px,#0c0003 312.5px,#070001 363.5px)"></div>
<div style="top:282px;height:1px;background:linear-gradient(90deg,#20001a 0.5px,#2a002b 148.5px,#2b002d 155.5px,#1a0011 215.5px,#0b0003 319.5px,#070001 363.5px)"></div>
<div style="top:283px;height:1px;background:linear-gradient(90deg,#1f0018 0.5px,#290029 148.5px,#2a002a 155.5px,#190010 216.5px,#090002 326.5px,#060001 363.5px)"></div>
<div style="top:284px;height:1px;background:linear-gradient(90deg,#1e0016 0.5px,#270026 148.5px,#280028 155.5px,#18000e 217.5px,#080002 333.5px,#060001 363.5px)"></div>
<div style="top:285px;height:1px;background:linear-gradient(90deg,#1c0014 0.5px,#260024 148.5px,#270026 155.5px,#17000d 218.5px,#070001 340.5px,#060001 363.5px)"></div>
<div style="top:286px;height:1px;background:linear-gradient(90deg,#1b0012 0.5px,#250021 148.5px,#260024 155.5px,#16000c 220.5px,#060001 352.5px,#050001 363.5px)"></div>
<div style="top:287px;height:1px;background:linear-gradient(90deg,#1a0011 0.5px,#24001f 148.5px,#250022 155.5px,#15000b 221.5px,#050001 362.5px,#050001 363.5px)"></div>
<div style="top:288px;height:1px;background:linear-gradient(90deg,#19000f 0.5px,#22001d 148.5px,#24001f 155.5px,#140009 223.5px,#050001 363.5px)"></div>
<div style="top:289px;height:1px;background:linear-gradient(90deg,#17000e 0.5px,#21001b 148.5px,#23001d 155.5px,#120008 225.5px,#040000 363.5px)"></div>
<div style="top:290px;height:1px;background:linear-gradient(90deg,#16000c 0.5px,#21001a 149.5px,#21001a 158.5px,#100007 232.5px,#040000 363.5px)"></div>
<div style="top:291px;height:1px;background:linear-gradient(90deg,#15000b 0.5px,#1f0018 149.5px,#200018 158.5px,#0f0006 234.5px,#040000 363.5px)"></div>
<div style="top:292px;height:1px;background:linear-gradient(90deg,#14000a 0.5px,#1e0016 149.5px,#1e0016 159.5px,#0e0005 238.5px,#030000 363.5px)"></div>
<div style="top:293px;height:1px;background:linear-gradient(90deg,#130009 0.5px,#1d0015 149.5px,#1d0014 160.5px,#0d0004 243.5px,#030000 363.5px)"></div>
<div style="top:294px;height:1px;background:linear-gradient(90deg,#120008 0.5px,#1c0013 149.5px,#1b0012 161.5px,#0b0003 248.5px,#030000 363.5px)"></div>
<div style="top:295px;height:1px;background:linear-gradient(90deg,#100007 0.5px,#1b0011 149.5px,#1a0011 162.5px,#0a0003 254.5px,#030000 363.5px)"></div>
<div style="top:296px;height:1px;background:linear-gradient(90deg,#0f0006 0.5px,#1a0011 150.5px,#090002 260.5px,#020000 363.5px)"></div>
<div style="top:297px;height:1px;background:linear-gradient(90deg,#0e0005 0.5px,#19000f 150.5px,#080002 265.5px,#020000 363.5px)"></div>
<div style="top:298px;height:1px;background:linear-gradient(90deg,#0d0004 0.5px,#18000e 150.5px,#070001 270.5px,#020000 363.5px)"></div>
<div style="top:299px;height:1px;background:linear-gradient(90deg,#0c0004 0.5px,#17000d 150.5px,#060001 277.5px,#020000 363.5px)"></div>
<div style="top:300px;height:1px;background:linear-gradient(90deg,#0b0003 0.5px,#16000c 150.5px,#050001 284.5px,#020000 363.5px)"></div>
<div style="top:301px;height:1px;background:linear-gradient(90deg,#0a0003 0.5px,#15000b 151.5px,#050001 276.5px,#010000 363.5px)"></div>
<div style="top:302px;height:1px;background:linear-gradient(90deg,#0a0002 0.5px,#14000a 151.5px,#040000 284.5px,#010000 363.5px)"></div>
<div style="top:303px;height:1px;background:linear-gradient(90deg,#090002 0.5px,#130009 151.5px,#030000 295.5px,#010000 363.5px)"></div>
<div style="top:304px;height:1px;background:linear-gradient(90deg,#080002 0.5px,#120008 151.5px,#030000 307.5px,#010000 363.5px)"></div>
<div style="top:305px;height:1px;background:linear-gradient(90deg,#070001 0.5px,#110007 151.5px,#020000 311.5px,#010000 363.5px)"></div>
<div style="top:306px;height:1px;background:linear-gradient(90deg,#060001 0.5px,#100007 151.5px,#020000 314.5px,#010000 363.5px)"></div>
<div style="top:307px;height:1px;background:linear-gradient(90deg,#060001 0.5px,#0f0006 151.5px,#020000 318.5px,#010000 363.5px)"></div>
<div style="top:308px;height:1px;background:linear-gradient(90deg,#050001 0.5px,#0f0005 151.5px,#010000 322.5px,#010000 363.5px)"></div>
<div style="top:309px;height:1px;background:linear-gradient(90deg,#040000 0.5px,#0e0005 151.5px,#010000 326.5px,#010000 363.5px)"></div>
<div style="top:310px;height:1px;background:linear-gradient(90deg,#040000 0.5px,#0d0004 151.5px,#010000 331.5px,#000000 363.5px)"></div>
<div style="top:311px;height:1px;background:linear-gradient(90deg,#030000 0.5px,#0c0003 151.5px,#010000 336.5px,#000000 363.5px)"></div>
<div style="top:312px;height:1px;background:linear-gradient(90deg,#030000 0.5px,#0b0003 151.5px,#000000 343.5px,#000000 363.5px)"></div>
<div style="top:313px;height:1px;background:linear-gradient(90deg,#020000 0.5px,#0a0003 151.5px,#000000 350.5px,#000000 363.5px)"></div>
<div style="top:314px;height:1px;background:linear-gradient(90deg,#020000 0.5px,#090002 151.5px,#000000 359.5px,#000000 363.5px)"></div>
<div style="top:315px;height:1px;background:linear-gradient(90deg,#020000 0.5px,#070001 171.5px,#000000 363.5px)"></div>
<div style="top:316px;height:1px;background:linear-gradient(90deg,#010000 0.5px,#060001 172.5px,#000000 363.5px)"></div>
<div style="top:317px;height:1px;background:linear-gradient(90deg,#010000 0.5px,#060001 174.5px,#000000 363.5px)"></div>
<div style="top:318px;height:1px;background:linear-gradient(90deg,#010000 0.5px,#050001 176.5px,#000000 363.5px)"></div>
<div style="top:319px;height:1px;background:linear-gradient(90deg,#010000 0.5px,#040000 179.5px,#000000 363.5px)"></div>
<div style="top:320px;height:1px;background:linear-gradient(90deg,#010000 0.5px,#040000 182.5px,#000000 363.5px)"></div>
<div style="top:321px;height:1px;background:linear-gradient(90deg,#000000 0.5px,#030000 186.5px,#000000 363.5px)"></div>
<div style="top:322px;height:1px;background:linear-gradient(90deg,#000000 0.5px,#020000 191.5px,#000000 363.5px)"></div>
<div style="top:323px;height:1px;background:linear-gradient(90deg,#000000 0.5px,#020000 198.5px,#000000 363.5px)"></div>
<div style="top:324px;height:1px;background:linear-gradient(90deg,#000000 0.5px,#010000 209.5px,#000000 363.5px)"></div>
<div style="top:325px;height:1px;background:linear-gradient(90deg,#000000 0.5px,#010000 229.5px,#000000 363.5px)"></div>
<div style="top:326px;height:1px;background:#000000"></div>
<div style="top:327px;height:1px;background:#000000"></div>
<div style="top:328px;height:1px;background:#000000"></div>
<div style="top:329px;height:1px;background:#000000"></div>
<div style="top:330px;height:1px;background:#000000"></div>
<div style="top:331px;height:1px;background:#000000"></div>
<div style="top:332px;height:1px;background:#000000"></div>
<div style="top:333px;height:1px;background:#000000"></div>
<div style="top:334px;height:1px;background:#000000"></div>
<div style="top:335px;height:1px;background:#000000"></div>
<div style="top:336px;height:1px;background:#000000"></div>
<div style="top:337px;height:1px;background:#000000"></div>
<div style="top:338px;height:1px;background:#000000"></div>
<div style="top:339px;height:1px;background:#000000"></div>
<div style="top:340px;height:1px;background:#000000"></div>
<div style="top:341px;height:1px;background:#000000"></div>
<div style="top:342px;height:1px;background:#000000"></div>
</div>
<div class="hm" id="hb">
<div style="top:0px;height:1px;background:linear-gradient(90deg,#fae400 0.5px,#fae300 31.5px,#f4c400 39.5px,#efae00 59.5px,#eca000 74.5px,#db6700 124.5px,#c83c00 181.5px,#b42001 248.5px,#a7146f 298.5px,#9d0eb2 341.5px,#980bcb 363.5px)"></div>
<div style="top:1px;height:1px;background:linear-gradient(90deg,#fae400 0.5px,#fae300 31.5px,#f4c400 39.5px,#efad00 60.5px,#ec9f00 74.5px,#db6600 125.5px,#c83c00 181.5px,#b42001 247.5px,#a7146f 297.5px,#9c0eb3 340.5px,#970bcc 363.5px)"></div>
<div style="top:2px;height:1px;background:linear-gradient(90deg,#fae400 0.5px,#fae500 30.5px,#f4c300 39.5px,#efab00 62.5px,#eb9d00 75.5px,#db6500 125.5px,#c83c00 180.5px,#b42001 246.5px,#a7146e 295.5px,#9d0eb1 337.5px,#970bce 363.5px)"></div>
<div style="top:3px;height:1px;background:linear-gradient(90deg,#fae300 0.5px,#fae500 30.5px,#f4c200 39.5px,#eeaa00 63.5px,#eb9c00 75.5px,#da6500 125.5px,#c83c00 179.5px,#b42001 245.5px,#a7146e 294.5px,#9d0eb1 336.5px,#970bcf 363.5px)"></div>
<div style="top:4px;height:1px;background:linear-gradient(90deg,#fae300 0.5px,#fae500 30.5px,#f4c400 38.5px,#f1b300 52.5px,#ec9f00 73.5px,#db6600 123.5px,#c83c00 178.5px,#b42002 244.5px,#a7146f 293.5px,#9d0eb2 335.5px,#960bd0 363.5px)"></div>
<div style="top:5px;height:1px;background:linear-gradient(90deg,#fae200 0.5px,#fae400 30.5px,#f4c300 38.5px,#f0b200 53.5px,#eca000 72.5px,#db6700 121.5px,#c83c00 177.5px,#b42002 243.5px,#a7146f 292.5px,#9d0eb2 334.5px,#960bd2 363.5px)"></div>
<div style="top:6px;height:1px;background:linear-gradient(90deg,#fae200 0.5px,#fae400 30.5px,#f4c500 37.5px,#f1b500 49.5px,#eca100 71.5px,#dc6900 118.5px,#c93d00 175.5px,#b42002 242.5px,#a71470 291.5px,#9c0eb3 333.5px,#960ad3 363.5px)"></div>
<div style="top:7px;height:1px;background:linear-gradient(90deg,#fae100 0.5px,#fae400 30.5px,#f4c500 37.5px,#f1b500 49.5px,#eca000 71.5px,#db6800 119.5px,#c83c00 175.5px,#b42002 241.5px,#a7146e 289.5px,#9d0eb2 331.5px,#950ad4 363.5px)"></div>
<div style="top:8px;height:1px;background:linear-gradient(90deg,#fae100 0.5px,#fae400 30.5px,#f4c400 37.5px,#f1b400 49.5px,#eca100 70.5px,#dc6a00 116.5px,#c93d00 173.5px,#b42002 240.5px,#a7146f 288.5px,#9d0eb2 330.5px,#950ad5 363.5px)"></div>
<div style="top:9px;height:1px;background:linear-gradient(90deg,#f9e000 0.5px,#fae300 30.5px,#f4c600 36.5px,#f1b500 47.5px,#eca000 70.5px,#dc6800 117.5px,#c83c00 173.5px,#b42003 239.5px,#a7146f 287.5px,#9c0eb3 329.5px,#950ad7 363.5px)"></div>
<div style="top:10px;height:1px;background:linear-gradient(90deg,#f9df00 0.5px,#fae300 30.5px,#f4c500 36.5px,#f1b500 47.5px,#eca000 70.5px,#db6700 118.5px,#c93c00 172.5px,#b42003 238.5px,#a71470 286.5px,#9c0eb3 328.5px,#950ad8 363.5px)"></div>
<div style="top:11px;height:1px;background:linear-gradient(90deg,#f9de00 0.5px,#fae300 30.5px,#f4c400 36.5px,#f1b400 47.5px,#eca100 69.5px,#dc6900 115.5px,#c93d00 170.5px,#b42003 237.5px,#a7146e 284.5px,#9d0eb1 325.5px,#940ad9 363.5px)"></div>
<div style="top:12px;height:1px;background:linear-gradient(90deg,#f9dd00 0.5px,#fae200 30.5px,#f5c600 35.5px,#f1b600 44.5px,#eca000 69.5px,#db6800 116.5px,#c93c00 170.5px,#b42001 235.5px,#a7146f 283.5px,#9d0eb2 324.5px,#940ada 363.5px)"></div>
<div style="top:13px;height:1px;background:linear-gradient(90deg,#f9db00 0.5px,#fae300 29.5px,#f9dc00 31.5px,#f4c600 35.5px,#f1b500 45.5px,#eca100 68.5px,#dc6a00 113.5px,#c93d00 168.5px,#b42001 234.5px,#a7146d 281.5px,#9d0eb1 322.5px,#940adc 363.5px)"></div>
<div style="top:14px;height:1px;background:linear-gradient(90deg,#f8da00 0.5px,#fae300 29.5px,#f9db00 31.5px,#f4c500 35.5px,#f1b500 45.5px,#eca000 68.5px,#dc6800 114.5px,#c93d00 168.5px,#b42001 233.5px,#a7146e 280.5px,#9d0eb1 321.5px,#930adc 362.5px,#9309dd 363.5px)"></div>
<div style="top:15px;height:1px;background:linear-gradient(90deg,#f8d800 0.5px,#fae200 29.5px,#f8da00 31.5px,#f4c400 35.5px,#f1b400 45.5px,#eca100 67.5px,#dc6a00 111.5px,#c93d00 166.5px,#b42001 232.5px,#a7146e 279.5px,#9d0eb2 320.5px,#9309dc 361.5px,#9309de 363.5px)"></div>
<div style="top:16px;height:1px;background:linear-gradient(90deg,#f8d600 0.5px,#fae200 29.5px,#f8d900 31.5px,#f4c600 34.5px,#f1b500 43.5px,#eca100 67.5px,#dc6900 112.5px,#c93d00 166.5px,#b42002 231.5px,#a7146e 278.5px,#9d0eb2 319.5px,#9309dd 360.5px,#9309df 363.5px)"></div>
<div style="top:17px;height:1px;background:linear-gradient(90deg,#f7d400 0.5px,#fae100 29.5px,#f8d800 31.5px,#f4c500 34.5px,#f1b500 43.5px,#eca200 66.5px,#dd6b00 109.5px,#ca3e00 163.5px,#b42002 230.5px,#a7146f 277.5px,#9c0eb3 318.5px,#9309dd 359.5px,#9209e1 363.5px)"></div>
<div style="top:18px;height:1px;background:linear-gradient(90deg,#f7d100 0.5px,#fae000 29.5px,#f8d600 31.5px,#f4c400 34.5px,#f1b400 43.5px,#eca100 66.5px,#dc6a00 110.5px,#c93d00 164.5px,#b42002 229.5px,#a7146d 275.5px,#9d0eb1 315.5px,#940adb 355.5px,#9209e2 363.5px)"></div>
<div style="top:19px;height:1px;background:linear-gradient(90deg,#f6ce00 0.5px,#f9df00 29.5px,#f7d500 31.5px,#f4c300 34.5px,#f0b300 44.5px,#eca200 65.5px,#dd6c00 107.5px,#ca3e00 161.5px,#b42002 228.5px,#a7146e 274.5px,#9d0eb1 314.5px,#940adc 354.5px,#9109e3 363.5px)"></div>
<div style="top:20px;height:1px;background:linear-gradient(90deg,#f6cb00 0.5px,#f9de00 29.5px,#f7d300 31.5px,#f4c200 34.5px,#f0b300 44.5px,#eca100 65.5px,#dc6900 109.5px,#c93d00 162.5px,#b42002 227.5px,#a7146e 273.5px,#9d0eb2 313.5px,#930adc 353.5px,#9109e4 363.5px)"></div>
<div style="top:21px;height:1px;background:linear-gradient(90deg,#f5c800 0.5px,#f8d700 20.5px,#f9dd00 29.5px,#f7d200 31.5px,#f3c100 34.5px,#f0b200 45.5px,#eda200 64.5px,#dd6c00 106.5px,#ca3f00 159.5px,#b42003 226.5px,#a7146f 272.5px,#9d0eb2 312.5px,#9309dd 352.5px,#9109e5 363.5px)"></div>
<div style="top:22px;height:1px;background:linear-gradient(90deg,#f4c500 0.5px,#f7d400 19.5px,#f9dc00 29.5px,#f8d900 30.5px,#f4c300 33.5px,#f0b300 42.5px,#eca200 64.5px,#dc6a00 107.5px,#c93e00 159.5px,#b42003 225.5px,#a7146d 270.5px,#9d0eb1 310.5px,#930adc 350.5px,#9008e6 363.5px)"></div>
<div style="top:23px;height:1px;background:linear-gradient(90deg,#f4c300 0.5px,#f6cf00 18.5px,#f8da00 28.5px,#f8d700 30.5px,#f4c200 33.5px,#f0b200 43.5px,#eda300 63.5px,#dd6c00 104.5px,#ca3f00 157.5px,#b42003 224.5px,#a7146e 269.5px,#9d0eb2 309.5px,#9309dd 349.5px,#9008e8 363.5px)"></div>
<div style="top:24px;height:1px;background:linear-gradient(90deg,#f3c000 0.5px,#f6cc00 18.5px,#f8d900 28.5px,#f8d500 30.5px,#f3c100 33.5px,#f0b200 43.5px,#eca200 63.5px,#dc6a00 106.5px,#c93e00 158.5px,#b42001 222.5px,#a7146c 267.5px,#9d0eb1 307.5px,#930adc 347.5px,#9008e9 363.5px)"></div>
<div style="top:25px;height:1px;background:linear-gradient(90deg,#f3bd00 0.5px,#f5ca00 19.5px,#f8d700 28.5px,#f7d300 30.5px,#f3bf00 33.5px,#f0b100 44.5px,#eda300 62.5px,#dd6c00 103.5px,#ca3f00 155.5px,#b42001 221.5px,#a7146d 266.5px,#9d0eb2 306.5px,#9309dd 346.5px,#8f08ea 363.5px)"></div>
<div style="top:26px;height:1px;background:linear-gradient(90deg,#f2ba00 0.5px,#f5c700 19.5px,#f7d400 28.5px,#f7d100 30.5px,#f3be00 33.5px,#f0b000 45.5px,#eca200 62.5px,#dc6a00 105.5px,#c93e00 156.5px,#b42001 220.5px,#a7146d 265.5px,#9d0eb2 305.5px,#9309dd 345.5px,#8f08eb 363.5px)"></div>
<div style="top:27px;height:1px;background:linear-gradient(90deg,#f1b800 0.5px,#f4c400 19.5px,#f7d200 29.5px,#f3bd00 33.5px,#f0af00 45.5px,#eda300 61.5px,#dd6d00 101.5px,#ca4000 152.5px,#b42001 219.5px,#a7146e 264.5px,#9d0eb1 303.5px,#930adc 342.5px,#8f08ec 363.5px)"></div>
<div style="top:28px;height:1px;background:linear-gradient(90deg,#f1b500 0.5px,#f3c100 19.5px,#f6cf00 29.5px,#f2bc00 33.5px,#efae00 46.5px,#eda200 61.5px,#dc6900 104.5px,#c93e00 154.5px,#b42001 218.5px,#a7146e 263.5px,#9d0eb2 302.5px,#930adc 341.5px,#8e08ed 363.5px)"></div>
<div style="top:29px;height:1px;background:linear-gradient(90deg,#f0b200 0.5px,#f3be00 19.5px,#f6cc00 29.5px,#f2ba00 33.5px,#efad00 47.5px,#eca100 61.5px,#db6700 106.5px,#c93d00 155.5px,#b42002 217.5px,#a7146d 261.5px,#9d0eb1 300.5px,#930adc 339.5px,#8e08ee 363.5px)"></div>
<div style="top:30px;height:1px;background:linear-gradient(90deg,#f0b000 0.5px,#f2bb00 19.5px,#f5c900 29.5px,#f1b700 34.5px,#eda300 60.5px,#dc6a00 102.5px,#ca3e00 152.5px,#b42002 216.5px,#a7146d 260.5px,#9d0eb1 299.5px,#930adc 338.5px,#8d07ef 363.5px)"></div>
<div style="top:31px;height:1px;background:linear-gradient(90deg,#efad00 0.5px,#f2b900 20.5px,#f5c700 29.5px,#f1b600 34.5px,#eca200 60.5px,#db6600 105.5px,#c93d00 153.5px,#b42002 215.5px,#a7146e 259.5px,#9d0eb2 298.5px,#9309dd 337.5px,#8d07ef 363.5px)"></div>
<div style="top:32px;height:1px;background:linear-gradient(90deg,#eeaa00 0.5px,#f1b600 20.5px,#f4c400 29.5px,#f1b400 35.5px,#eda300 59.5px,#dd6b00 100.5px,#ca3e00 150.5px,#b42002 214.5px,#a7146e 258.5px,#9c0eb2 297.5px,#9309dd 336.5px,#8d07f0 363.5px)"></div>
<div style="top:33px;height:1px;background:linear-gradient(90deg,#eea800 0.5px,#f0b300 20.5px,#f3c100 29.5px,#f0b300 35.5px,#eda500 58.5px,#e58600 78.5px,#d55500 120.5px,#c02e00 177.5px,#b42002 213.5px,#a7146d 256.5px,#9d0eb2 295.5px,#930adc 333.5px,#8c07f1 363.5px)"></div>
<div style="top:34px;height:1px;background:linear-gradient(90deg,#eda500 0.5px,#f0b000 20.5px,#f3bd00 30.5px,#f0b100 36.5px,#eda400 58.5px,#de7000 94.5px,#cc4200 143.5px,#b52100 208.5px,#b42003 212.5px,#a7146d 255.5px,#9d0eb2 294.5px,#9309dc 332.5px,#8c07f2 363.5px)"></div>
<div style="top:35px;height:1px;background:linear-gradient(90deg,#eda300 0.5px,#efad00 20.5px,#f2ba00 30.5px,#f0af00 38.5px,#eda600 57.5px,#e78e00 71.5px,#d55700 117.5px,#c13000 172.5px,#b42003 211.5px,#a7146e 254.5px,#9c0eb3 293.5px,#9309dd 331.5px,#8c07f3 363.5px)"></div>
<div style="top:36px;height:1px;background:linear-gradient(90deg,#eca000 0.5px,#efac00 21.5px,#f1b800 30.5px,#efac00 42.5px,#eda400 57.5px,#e68b00 73.5px,#d55600 117.5px,#c12f00 172.5px,#b42003 210.5px,#a7146e 253.5px,#9d0eb2 291.5px,#9309dc 329.5px,#8b07f4 363.5px)"></div>
<div style="top:37px;height:1px;background:linear-gradient(90deg,#eb9e00 0.5px,#eea900 21.5px,#f1b500 30.5px,#eeaa00 49.5px,#eda300 57.5px,#e68800 75.5px,#d55600 117.5px,#c02f00 172.5px,#b42000 208.5px,#a7146c 251.5px,#9d0eb1 289.5px,#930adc 327.5px,#8b07f4 363.5px)"></div>
<div style="top:38px;height:1px;background:linear-gradient(90deg,#eb9b00 0.5px,#eda600 21.5px,#f0b300 30.5px,#eda500 56.5px,#e99400 65.5px,#d65a00 112.5px,#c23200 165.5px,#b42001 207.5px,#a7146d 250.5px,#9d0eb1 288.5px,#9309dc 326.5px,#8a07f5 363.5px)"></div>
<div style="top:39px;height:1px;background:linear-gradient(90deg,#ea9900 0.5px,#eda500 22.5px,#f0b100 30.5px,#eda600 55.5px,#e99400 64.5px,#d65800 113.5px,#c13100 167.5px,#b42001 206.5px,#a7146d 249.5px,#9d0eb2 287.5px,#9309dd 325.5px,#8a06f6 363.5px)"></div>
<div style="top:40px;height:1px;background:linear-gradient(90deg,#ea9700 0.5px,#eca200 22.5px,#efae00 31.5px,#eda600 55.5px,#e99500 63.5px,#d55700 113.5px,#c13000 167.5px,#b42001 205.5px,#a7146c 247.5px,#9d0eb1 285.5px,#940adc 322.5px,#8a06f6 363.5px)"></div>
<div style="top:41px;height:1px;background:linear-gradient(90deg,#e99400 0.5px,#eca000 22.5px,#efac00 32.5px,#eda400 55.5px,#e99400 63.5px,#d55700 113.5px,#c13000 167.5px,#b42001 204.5px,#a7146c 246.5px,#9d0eb2 284.5px,#930adc 321.5px,#8906f7 363.5px)"></div>
<div style="top:42px;height:1px;background:linear-gradient(90deg,#e89200 0.5px,#eb9d00 22.5px,#efab00 33.5px,#eda600 54.5px,#e99400 62.5px,#d45500 114.5px,#c02f00 168.5px,#b42002 203.5px,#a7146d 245.5px,#9d0eb2 283.5px,#9309dd 320.5px,#8906f7 362.5px,#8906f8 363.5px)"></div>
<div style="top:43px;height:1px;background:linear-gradient(90deg,#e89000 0.5px,#eb9b00 22.5px,#eeaa00 34.5px,#eda500 54.5px,#e99500 61.5px,#d45400 114.5px,#c02e00 168.5px,#b42002 202.5px,#a7146d 244.5px,#9c0eb3 282.5px,#9309dd 319.5px,#8906f8 361.5px,#8806f8 363.5px)"></div>
<div style="top:44px;height:1px;background:linear-gradient(90deg,#e78d00 0.5px,#ea9800 22.5px,#eeaa00 35.5px,#eda600 53.5px,#e99400 61.5px,#d45400 114.5px,#bf2e00 168.5px,#b42002 201.5px,#a7146c 242.5px,#9d0eb0 279.5px,#940adc 316.5px,#8906f7 358.5px,#8806f9 363.5px)"></div>
<div style="top:45px;height:1px;background:linear-gradient(90deg,#e78b00 0.5px,#e99600 22.5px,#eea900 35.5px,#eda600 53.5px,#e99500 59.5px,#d35300 114.5px,#bf2d00 168.5px,#b42002 200.5px,#a7146c 241.5px,#9d0eb1 278.5px,#940adb 314.5px,#8906f7 356.5px,#8806f9 363.5px)"></div>
<div style="top:46px;height:1px;background:linear-gradient(90deg,#e68900 0.5px,#e99300 22.5px,#eea800 36.5px,#eda400 53.5px,#e99400 59.5px,#d35100 115.5px,#be2c00 170.5px,#b42003 199.5px,#a7146d 240.5px,#9d0eb1 277.5px,#940adc 313.5px,#8906f7 355.5px,#8706fa 363.5px)"></div>
<div style="top:47px;height:1px;background:linear-gradient(90deg,#e58700 0.5px,#e89100 22.5px,#eea700 36.5px,#eda600 52.5px,#e99500 58.5px,#d35100 115.5px,#be2b00 170.5px,#b42003 198.5px,#a7146d 239.5px,#9d0eb2 276.5px,#930adc 312.5px,#8906f8 354.5px,#8706fa 363.5px)"></div>
<div style="top:48px;height:1px;background:linear-gradient(90deg,#e58500 0.5px,#e78f00 22.5px,#eda400 34.5px,#eda500 52.5px,#e99400 58.5px,#e07700 81.5px,#cf4900 123.5px,#ba2600 180.5px,#b42003 197.5px,#a7146e 238.5px,#9c0eb3 275.5px,#9309dd 311.5px,#8906f7 352.5px,#8705fb 363.5px)"></div>
<div style="top:49px;height:1px;background:linear-gradient(90deg,#e48200 0.5px,#e78c00 22.5px,#eca100 34.5px,#eda600 41.5px,#eda300 52.5px,#e99300 58.5px,#e17700 80.5px,#cf4900 122.5px,#ba2600 179.5px,#b41f03 196.5px,#a7146c 236.5px,#9d0eb2 273.5px,#930adc 309.5px,#8906f7 350.5px,#8605fb 363.5px)"></div>
<div style="top:50px;height:1px;background:linear-gradient(90deg,#e38000 0.5px,#e68a00 22.5px,#ec9e00 34.5px,#eda400 40.5px,#eca100 52.5px,#e89100 58.5px,#e27b00 77.5px,#d14d00 117.5px,#bc2900 172.5px,#b42000 194.5px,#a7146d 235.5px,#9d0eb2 272.5px,#9309dd 308.5px,#8906f8 349.5px,#8605fc 363.5px)"></div>
<div style="top:51px;height:1px;background:linear-gradient(90deg,#e37e00 0.5px,#e68900 23.5px,#eca100 39.5px,#ec9e00 52.5px,#e88f00 59.5px,#e27c00 76.5px,#d14d00 116.5px,#bc2900 171.5px,#b42001 193.5px,#a7146b 233.5px,#9d0eb0 269.5px,#940adb 304.5px,#8a06f7 345.5px,#8505fc 363.5px)"></div>
<div style="top:52px;height:1px;background:linear-gradient(90deg,#e27c00 0.5px,#e58600 23.5px,#ec9f00 39.5px,#eb9c00 52.5px,#e78d00 60.5px,#e27d00 75.5px,#d14e00 115.5px,#bc2900 169.5px,#b42001 192.5px,#a7146b 232.5px,#9d0eb0 268.5px,#940adb 303.5px,#8906f7 344.5px,#8505fd 363.5px)"></div>
<div style="top:53px;height:1px;background:linear-gradient(90deg,#e27a00 0.5px,#e58400 23.5px,#eb9c00 39.5px,#ea9a00 52.5px,#e78c00 60.5px,#e37f00 73.5px,#d35100 110.5px,#be2c00 163.5px,#b42001 191.5px,#a7146c 231.5px,#9d0eb1 267.5px,#940adb 302.5px,#8906f7 343.5px,#8505fd 363.5px)"></div>
<div style="top:54px;height:1px;background:linear-gradient(90deg,#e17800 0.5px,#e48200 23.5px,#ea9a00 40.5px,#ea9800 52.5px,#e68b00 61.5px,#e37e00 73.5px,#d24f00 112.5px,#bd2a00 165.5px,#b42001 190.5px,#a7146c 230.5px,#9d0eb1 266.5px,#930adc 301.5px,#8906f7 342.5px,#8405fd 363.5px)"></div>
<div style="top:55px;height:1px;background:linear-gradient(90deg,#e07600 0.5px,#e38000 23.5px,#ea9800 40.5px,#e99500 52.5px,#e68a00 62.5px,#e27b00 74.5px,#d14c00 114.5px,#bc2800 168.5px,#b42002 189.5px,#a7146b 228.5px,#9d0eb0 264.5px,#940adc 299.5px,#8906f7 339.5px,#8405fe 363.5px)"></div>
<div style="top:56px;height:1px;background:linear-gradient(90deg,#e07400 0.5px,#e37f00 24.5px,#e99500 40.5px,#e99300 52.5px,#e68800 64.5px,#d25000 109.5px,#bd2b00 162.5px,#b42002 188.5px,#a7146b 227.5px,#9d0eb1 263.5px,#930adc 298.5px,#8906f7 338.5px,#8305fe 363.5px)"></div>
<div style="top:57px;height:1px;background:linear-gradient(90deg,#df7200 0.5px,#e27c00 24.5px,#e99300 40.5px,#e88f00 53.5px,#e48100 70.5px,#d45400 104.5px,#c02e00 155.5px,#b42002 187.5px,#a7146c 226.5px,#9d0eb2 262.5px,#9309dc 297.5px,#8906f7 337.5px,#8305fe 363.5px)"></div>
<div style="top:58px;height:1px;background:linear-gradient(90deg,#de7000 0.5px,#e27a00 24.5px,#e89100 41.5px,#e78c00 54.5px,#e48200 69.5px,#d55800 100.5px,#c23100 149.5px,#b42002 186.5px,#a7146c 225.5px,#9d0eb2 261.5px,#9309dd 296.5px,#8906f8 336.5px,#8305fe 363.5px)"></div>
<div style="top:59px;height:1px;background:linear-gradient(90deg,#de6e00 0.5px,#e17800 24.5px,#e78e00 41.5px,#e68a00 55.5px,#e38000 69.5px,#d35300 104.5px,#bf2d00 155.5px,#b42003 185.5px,#a7146d 224.5px,#9c0eb3 260.5px,#9309dd 295.5px,#8906f8 335.5px,#8205fe 363.5px)"></div>
<div style="top:60px;height:1px;background:linear-gradient(90deg,#dd6c00 0.5px,#e07600 24.5px,#e78c00 41.5px,#e48300 67.5px,#dc6800 85.5px,#ca3f00 126.5px,#b42003 184.5px,#a7146b 222.5px,#9d0eb0 257.5px,#940adb 291.5px,#8906f7 331.5px,#8204ff 363.5px)"></div>
<div style="top:61px;height:1px;background:linear-gradient(90deg,#dc6a00 0.5px,#e07400 24.5px,#e68a00 41.5px,#e48300 67.5px,#dd6d00 80.5px,#cc4200 121.5px,#b52100 179.5px,#b42003 183.5px,#a7146c 221.5px,#9d0eb1 256.5px,#940adc 290.5px,#8906f7 330.5px,#8104ff 363.5px)"></div>
<div style="top:62px;height:1px;background:linear-gradient(90deg,#dc6900 0.5px,#df7300 25.5px,#e58700 42.5px,#e48200 67.5px,#dd6d00 80.5px,#cc4200 120.5px,#b52100 178.5px,#b41f03 182.5px,#a7146c 220.5px,#9d0eb2 255.5px,#930adc 289.5px,#8906f7 328.5px,#8104ff 363.5px)"></div>
<div style="top:63px;height:1px;background:linear-gradient(90deg,#db6700 0.5px,#df7100 25.5px,#e58500 42.5px,#e38000 67.5px,#db6700 84.5px,#ca3e00 124.5px,#b42000 180.5px,#a8146a 218.5px,#9d0eb0 253.5px,#940adc 287.5px,#8906f7 326.5px,#8004ff 363.5px)"></div>
<div style="top:64px;height:1px;background:linear-gradient(90deg,#da6500 0.5px,#de6f00 25.5px,#e48300 42.5px,#e38100 66.5px,#de7000 76.5px,#cd4400 116.5px,#b72300 172.5px,#b41f04 180.5px,#a7146b 217.5px,#9d0eb1 252.5px,#930adc 286.5px,#8906f7 325.5px,#8004ff 363.5px)"></div>
<div style="top:65px;height:1px;background:linear-gradient(90deg,#da6300 0.5px,#dd6d00 25.5px,#e48100 42.5px,#e37f00 66.5px,#dc6800 82.5px,#ca3f00 122.5px,#b42001 178.5px,#a7146b 216.5px,#9d0eb2 251.5px,#9309dd 285.5px,#8906f8 324.5px,#8004ff 363.5px)"></div>
<div style="top:66px;height:1px;background:linear-gradient(90deg,#d96100 0.5px,#dd6b00 25.5px,#e37f00 42.5px,#e27d00 66.5px,#d25100 101.5px,#be2b00 151.5px,#b42001 177.5px,#a8156a 214.5px,#9d0eaf 248.5px,#940ada 281.5px,#8a06f7 320.5px,#7f04ff 363.5px)"></div>
<div style="top:67px;height:1px;background:linear-gradient(90deg,#d96000 0.5px,#dc6a00 26.5px,#e27d00 42.5px,#e27b00 66.5px,#ce4700 110.5px,#b92500 164.5px,#b42001 176.5px,#a8156a 213.5px,#9d0eb0 247.5px,#940adb 280.5px,#8906f7 319.5px,#7f04ff 363.5px)"></div>
<div style="top:68px;height:1px;background:linear-gradient(90deg,#d85e00 0.5px,#dc6900 27.5px,#e27b00 42.5px,#e17700 67.5px,#cc4200 115.5px,#b62100 171.5px,#b41f05 176.5px,#a7146d 213.5px,#9c0eb4 248.5px,#9309de 282.5px,#8806f8 321.5px,#7e04ff 363.5px)"></div>
<div style="top:69px;height:1px;background:linear-gradient(90deg,#d75d00 0.5px,#db6700 27.5px,#e17900 43.5px,#e07500 67.5px,#ca3f00 118.5px,#b42002 174.5px,#a7146b 211.5px,#9d0eb1 245.5px,#940adc 278.5px,#8906f7 316.5px,#7e04ff 363.5px)"></div>
<div style="top:70px;height:1px;background:linear-gradient(90deg,#d75b00 0.5px,#db6600 28.5px,#e07700 43.5px,#df7300 67.5px,#c93d00 120.5px,#b42002 173.5px,#a7146c 210.5px,#9d0eb2 244.5px,#930adc 277.5px,#8906f7 315.5px,#7e04ff 363.5px)"></div>
<div style="top:71px;height:1px;background:linear-gradient(90deg,#d65900 0.5px,#da6400 28.5px,#e07500 43.5px,#df7200 67.5px,#c83b00 122.5px,#b42002 172.5px,#a8156a 208.5px,#9d0eb1 242.5px,#930adc 275.5px,#8906f7 313.5px,#7e04ff 361.5px,#7d04ff 363.5px)"></div>
<div style="top:72px;height:1px;background:linear-gradient(90deg,#d55800 0.5px,#da6400 29.5px,#df7300 43.5px,#de6f00 68.5px,#d75b00 87.5px,#c43500 130.5px,#b42003 171.5px,#a7146b 207.5px,#9d0eb1 241.5px,#9309dc 274.5px,#8906f7 312.5px,#7d04ff 360.5px,#7d03fe 363.5px)"></div>
<div style="top:73px;height:1px;background:linear-gradient(90deg,#d55600 0.5px,#d96200 29.5px,#df7100 44.5px,#dd6c00 69.5px,#d85f00 83.5px,#c63700 126.5px,#b42003 170.5px,#a7146b 206.5px,#9d0eb2 240.5px,#930adc 272.5px,#8906f7 310.5px,#7d04ff 358.5px,#7c03fe 363.5px)"></div>
<div style="top:74px;height:1px;background:linear-gradient(90deg,#d45500 0.5px,#d96100 30.5px,#de6f00 44.5px,#dc6a00 71.5px,#d75c00 85.5px,#c43500 128.5px,#b42000 168.5px,#a81569 204.5px,#9d0eaf 237.5px,#940ada 269.5px,#8a06f7 307.5px,#7e04ff 354.5px,#7c03fe 363.5px)"></div>
<div style="top:75px;height:1px;background:linear-gradient(90deg,#d45300 0.5px,#d96000 31.5px,#dd6d00 44.5px,#db6700 76.5px,#ca3e00 114.5px,#b42000 167.5px,#a8156a 203.5px,#9d0eb0 236.5px,#940adb 268.5px,#8a06f7 305.5px,#7e04ff 352.5px,#7b03fe 363.5px)"></div>
<div style="top:76px;height:1px;background:linear-gradient(90deg,#d35200 0.5px,#d85e00 31.5px,#dd6b00 44.5px,#db6500 77.5px,#ca3f00 113.5px,#b42000 166.5px,#a7146a 202.5px,#9d0eb0 235.5px,#940adb 267.5px,#8906f7 304.5px,#7e04ff 351.5px,#7b03fd 363.5px)"></div>
<div style="top:77px;height:1px;background:linear-gradient(90deg,#d25000 0.5px,#d85d00 32.5px,#dc6900 44.5px,#da6500 77.5px,#ca3f00 111.5px,#b42001 165.5px,#a81568 200.5px,#9d0eaf 233.5px,#940adb 265.5px,#8a06f7 302.5px,#7e04ff 349.5px,#7b03fd 363.5px)"></div>
<div style="top:78px;height:1px;background:linear-gradient(90deg,#d24f00 0.5px,#d75c00 33.5px,#db6700 45.5px,#da6300 77.5px,#c73a00 117.5px,#b42001 164.5px,#a81569 199.5px,#9d0eb0 232.5px,#940ada 263.5px,#8a06f7 300.5px,#7e04ff 346.5px,#7a03fd 363.5px)"></div>
<div style="top:79px;height:1px;background:linear-gradient(90deg,#d14d00 0.5px,#d75b00 33.5px,#db6500 45.5px,#d96100 77.5px,#c63800 119.5px,#b42001 163.5px,#a8156a 198.5px,#9d0eb1 231.5px,#940adb 262.5px,#8906f7 299.5px,#7e04ff 345.5px,#7a03fd 363.5px)"></div>
<div style="top:80px;height:1px;background:linear-gradient(90deg,#d04c00 0.5px,#d65a00 34.5px,#da6400 44.5px,#d96000 77.5px,#c53600 121.5px,#b42001 162.5px,#a8146a 197.5px,#9d0eb1 230.5px,#940adc 261.5px,#8906f7 298.5px,#7e04ff 344.5px,#7903fc 363.5px)"></div>
<div style="top:81px;height:1px;background:linear-gradient(90deg,#d04a00 0.5px,#d65900 35.5px,#d96200 44.5px,#d85e00 77.5px,#c33300 124.5px,#b42002 161.5px,#a81568 195.5px,#9d0eae 227.5px,#940ada 258.5px,#8a06f7 295.5px,#7e04ff 341.5px,#7903fc 363.5px)"></div>
<div style="top:82px;height:1px;background:linear-gradient(90deg,#cf4900 0.5px,#d65800 36.5px,#d96000 44.5px,#d75d00 77.5px,#c23100 127.5px,#b42002 160.5px,#a81569 194.5px,#9d0eaf 226.5px,#940adb 257.5px,#8a06f6 293.5px,#7e04ff 338.5px,#7803fb 363.5px)"></div>
<div style="top:83px;height:1px;background:linear-gradient(90deg,#ce4700 0.5px,#d55600 36.5px,#d85e00 44.5px,#d75b00 77.5px,#c02f00 129.5px,#b42002 159.5px,#a81569 193.5px,#9d0eb0 225.5px,#940adb 256.5px,#8a06f7 292.5px,#7e04ff 338.5px,#7803fb 363.5px)"></div>
<div style="top:84px;height:1px;background:linear-gradient(90deg,#ce4600 0.5px,#d45400 36.5px,#d75d00 44.5px,#d65800 78.5px,#be2c00 133.5px,#b42003 158.5px,#a8156a 192.5px,#9d0eb0 224.5px,#940adc 255.5px,#8906f7 291.5px,#7e04ff 337.5px,#7803fa 363.5px)"></div>
<div style="top:85px;height:1px;background:linear-gradient(90deg,#cd4500 0.5px,#d35300 36.5px,#d75b00 44.5px,#d55700 78.5px,#bd2a00 135.5px,#b42003 157.5px,#a7146b 191.5px,#9d0eb1 223.5px,#930adc 254.5px,#8906f7 290.5px,#7d04ff 336.5px,#7703fa 363.5px)"></div>
<div style="top:86px;height:1px;background:linear-gradient(90deg,#cc4300 0.5px,#d35200 37.5px,#d65a00 45.5px,#d45500 79.5px,#bb2800 138.5px,#b42003 156.5px,#a81569 189.5px,#9d0eb0 221.5px,#940adb 251.5px,#8a06f7 287.5px,#7e04ff 332.5px,#7703f9 363.5px)"></div>
<div style="top:87px;height:1px;background:linear-gradient(90deg,#cc4200 0.5px,#d25100 37.5px,#d65800 44.5px,#d35300 80.5px,#bb2700 139.5px,#b42000 154.5px,#a81569 188.5px,#9d0eb1 220.5px,#940adb 250.5px,#8906f7 286.5px,#7e04ff 331.5px,#7603f9 363.5px)"></div>
<div style="top:88px;height:1px;background:linear-gradient(90deg,#cb4100 0.5px,#d25000 38.5px,#d55600 44.5px,#d35100 82.5px,#bb2700 138.5px,#b42000 153.5px,#a81567 186.5px,#9d0eaf 218.5px,#940adb 248.5px,#8906f7 284.5px,#7e04ff 329.5px,#7602f8 363.5px)"></div>
<div style="top:89px;height:1px;background:linear-gradient(90deg,#ca3f00 0.5px,#d14e00 38.5px,#d45400 42.5px,#d24f00 85.5px,#bd2a00 132.5px,#b42000 152.5px,#a81568 185.5px,#9d0eb0 217.5px,#940adb 247.5px,#8a06f7 282.5px,#7e04ff 326.5px,#7502f8 363.5px)"></div>
<div style="top:90px;height:1px;background:linear-gradient(90deg,#ca3e00 0.5px,#d14c00 38.5px,#d35200 42.5px,#d14d00 86.5px,#bc2900 132.5px,#b42001 151.5px,#a81568 184.5px,#9d0eaf 215.5px,#940adb 245.5px,#8a06f6 280.5px,#7e04ff 324.5px,#7502f7 363.5px)"></div>
<div style="top:91px;height:1px;background:linear-gradient(90deg,#c93d00 0.5px,#d04b00 38.5px,#d25000 41.5px,#d04c00 87.5px,#bc2900 132.5px,#b42001 150.5px,#a81569 183.5px,#9d0eb0 214.5px,#940adb 244.5px,#8906f7 279.5px,#7e04ff 323.5px,#7402f6 363.5px)"></div>
<div style="top:92px;height:1px;background:linear-gradient(90deg,#c83c00 0.5px,#cf4900 38.5px,#d24f00 41.5px,#d04b00 87.5px,#bb2700 134.5px,#b42001 149.5px,#a81567 181.5px,#9d0eae 212.5px,#940ada 241.5px,#8a06f6 276.5px,#7e04ff 320.5px,#7402f6 363.5px)"></div>
<div style="top:93px;height:1px;background:linear-gradient(90deg,#c73a00 0.5px,#ce4800 38.5px,#d14d00 41.5px,#cf4a00 87.5px,#b92500 136.5px,#b42002 148.5px,#a81568 180.5px,#9d0eaf 211.5px,#940ada 240.5px,#8a06f6 275.5px,#7e04ff 319.5px,#7302f5 363.5px)"></div>
<div style="top:94px;height:1px;background:linear-gradient(90deg,#c73900 0.5px,#ce4600 38.5px,#d04c00 41.5px,#cf4800 87.5px,#b82400 137.5px,#b42002 147.5px,#a81568 179.5px,#9d0eb0 210.5px,#940adb 239.5px,#8906f7 274.5px,#7e04ff 318.5px,#7302f4 363.5px)"></div>
<div style="top:95px;height:1px;background:linear-gradient(90deg,#c63800 0.5px,#cd4400 38.5px,#d04b00 43.5px,#ce4600 88.5px,#b62200 141.5px,#b42002 146.5px,#a81569 178.5px,#9d0eb1 209.5px,#940adb 238.5px,#8a06f7 272.5px,#7e04ff 315.5px,#7302f3 363.5px)"></div>
<div style="top:96px;height:1px;background:linear-gradient(90deg,#c53700 0.5px,#cc4300 38.5px,#d04a00 46.5px,#cd4500 88.5px,#b52100 142.5px,#b42002 145.5px,#a8156a 177.5px,#9d0eb1 208.5px,#930adc 237.5px,#8906f7 271.5px,#7e04ff 314.5px,#7202f3 363.5px)"></div>
<div style="top:97px;height:1px;background:linear-gradient(90deg,#c53600 0.5px,#cb4200 38.5px,#cf4900 46.5px,#cc4400 88.5px,#b42003 144.5px,#a81567 175.5px,#9d0eb0 206.5px,#940adb 235.5px,#8906f7 269.5px,#7e04ff 312.5px,#7202f2 363.5px)"></div>
<div style="top:98px;height:1px;background:linear-gradient(90deg,#c43500 0.5px,#cb4000 38.5px,#ce4800 46.5px,#cc4200 89.5px,#b42003 143.5px,#a81568 174.5px,#9d0eb1 205.5px,#930adc 234.5px,#8906f7 268.5px,#7e04ff 311.5px,#7102f1 363.5px)"></div>
<div style="top:99px;height:1px;background:linear-gradient(90deg,#c33400 0.5px,#ca3f00 38.5px,#ce4600 47.5px,#cb4000 90.5px,#b42000 141.5px,#a81569 173.5px,#9d0eb2 204.5px,#9309dd 233.5px,#8906f7 267.5px,#7d04ff 310.5px,#7102f0 363.5px)"></div>
<div style="top:100px;height:1px;background:linear-gradient(90deg,#c33300 0.5px,#c93d00 38.5px,#cd4500 47.5px,#ca3f00 91.5px,#b42000 140.5px,#a81566 171.5px,#9d0eae 201.5px,#940ada 229.5px,#8a06f6 263.5px,#7e04ff 305.5px,#7002ef 363.5px)"></div>
<div style="top:101px;height:1px;background:linear-gradient(90deg,#c23200 0.5px,#c93e00 39.5px,#cc4300 51.5px,#c93d00 93.5px,#b42000 139.5px,#a81567 170.5px,#9d0eaf 200.5px,#940ada 228.5px,#8a06f7 262.5px,#7e04ff 304.5px,#7002ee 363.5px)"></div>
<div style="top:102px;height:1px;background:linear-gradient(90deg,#c13100 0.5px,#c93c00 39.5px,#cc4200 50.5px,#c83c00 94.5px,#b42000 138.5px,#a81568 169.5px,#9d0eb0 199.5px,#940adb 227.5px,#8a06f6 260.5px,#7e04ff 302.5px,#7002ee 362.5px,#6f02ed 363.5px)"></div>
<div style="top:103px;height:1px;background:linear-gradient(90deg,#c13000 0.5px,#c83c00 40.5px,#cb4100 51.5px,#c83b00 95.5px,#b42001 137.5px,#a81566 167.5px,#9d0eaf 197.5px,#940ada 225.5px,#8a06f6 258.5px,#7e04ff 300.5px,#7002ee 360.5px,#6f02ec 363.5px)"></div>
<div style="top:104px;height:1px;background:linear-gradient(90deg,#c02f00 0.5px,#c73a00 40.5px,#ca3f00 49.5px,#c73a00 95.5px,#b42001 136.5px,#a81566 166.5px,#9d0eaf 196.5px,#940adb 224.5px,#8a06f7 257.5px,#7e04ff 299.5px,#6f02ed 359.5px,#6e02eb 363.5px)"></div>
<div style="top:105px;height:1px;background:linear-gradient(90deg,#bf2e00 0.5px,#c63900 40.5px,#ca3e00 48.5px,#c63800 96.5px,#b42001 135.5px,#a81567 165.5px,#9d0eb0 195.5px,#940adc 223.5px,#8906f7 256.5px,#7e04ff 298.5px,#6f02ec 359.5px,#6e02ea 363.5px)"></div>
<div style="top:106px;height:1px;background:linear-gradient(90deg,#bf2d00 0.5px,#c63700 40.5px,#c93d00 47.5px,#c53700 97.5px,#b42002 134.5px,#a81568 164.5px,#9d0eb1 194.5px,#940adb 221.5px,#8906f7 254.5px,#7e04ff 295.5px,#6f02ed 355.5px,#6d02e9 363.5px)"></div>
<div style="top:107px;height:1px;background:linear-gradient(90deg,#be2c00 0.5px,#c53600 40.5px,#c83c00 47.5px,#c53600 97.5px,#b42002 133.5px,#a81568 163.5px,#9d0eb2 193.5px,#940adc 220.5px,#8906f7 253.5px,#7e04ff 294.5px,#6f02ed 354.5px,#6d02e8 363.5px)"></div>
<div style="top:108px;height:1px;background:linear-gradient(90deg,#bd2b00 0.5px,#c43500 40.5px,#c83b00 47.5px,#c43500 97.5px,#b42002 132.5px,#a81566 161.5px,#9d0eae 190.5px,#940ada 217.5px,#8a06f6 249.5px,#7e04ff 290.5px,#7002ef 348.5px,#6c02e7 363.5px)"></div>
<div style="top:109px;height:1px;background:linear-gradient(90deg,#bd2a00 0.5px,#c33300 40.5px,#c73900 47.5px,#c43400 97.5px,#b42002 131.5px,#a81567 160.5px,#9d0eaf 189.5px,#940ada 216.5px,#8a06f6 248.5px,#7e04ff 289.5px,#7002ee 347.5px,#6c01e6 363.5px)"></div>
<div style="top:110px;height:1px;background:linear-gradient(90deg,#bc2900 0.5px,#c23200 40.5px,#c63800 47.5px,#c33300 97.5px,#b42003 130.5px,#a81567 159.5px,#9d0eb0 188.5px,#940adb 215.5px,#8a06f7 247.5px,#7e04ff 288.5px,#6f02ed 347.5px,#6c01e5 363.5px)"></div>
<div style="top:111px;height:1px;background:linear-gradient(90deg,#bb2800 0.5px,#c23100 40.5px,#c53700 48.5px,#c33300 97.5px,#b42000 128.5px,#a81568 158.5px,#9d0eb1 187.5px,#940adc 214.5px,#8906f7 246.5px,#7e04ff 287.5px,#6f02ed 346.5px,#6b01e4 363.5px)"></div>
<div style="top:112px;height:1px;background:linear-gradient(90deg,#bb2700 0.5px,#c13000 40.5px,#c53600 48.5px,#c23100 98.5px,#b42000 127.5px,#a81566 156.5px,#9d0eaf 185.5px,#940ada 211.5px,#8a06f6 243.5px,#7e04ff 283.5px,#7002ee 340.5px,#6b01e3 363.5px)"></div>
<div style="top:113px;height:1px;background:linear-gradient(90deg,#ba2700 0.5px,#c23100 41.5px,#c43400 59.5px,#c13000 99.5px,#b42000 126.5px,#a81566 155.5px,#9d0eb0 184.5px,#940adb 210.5px,#8a06f7 242.5px,#7e04ff 282.5px,#6f02ed 340.5px,#6a01e2 363.5px)"></div>
<div style="top:114px;height:1px;background:linear-gradient(90deg,#b92600 0.5px,#c12f00 41.5px,#c33300 57.5px,#c02f00 100.5px,#b42000 125.5px,#a81564 153.5px,#9e0ead 181.5px,#940ad9 207.5px,#8a06f6 239.5px,#7f04ff 278.5px,#7002ef 334.5px,#6a01e1 363.5px)"></div>
<div style="top:115px;height:1px;background:linear-gradient(90deg,#b92500 0.5px,#c02e00 41.5px,#c33200 56.5px,#bf2e00 101.5px,#b42000 124.5px,#a81565 152.5px,#9d0ead 180.5px,#940ad9 206.5px,#8a06f6 237.5px,#7f04ff 276.5px,#7002ef 332.5px,#6901df 363.5px)"></div>
<div style="top:116px;height:1px;background:linear-gradient(90deg,#b82400 0.5px,#bf2d00 41.5px,#c23100 55.5px,#bf2d00 101.5px,#b42001 123.5px,#a81565 151.5px,#9d0eae 179.5px,#940ada 205.5px,#8a06f6 236.5px,#7e04ff 275.5px,#7002ef 331.5px,#6901de 363.5px)"></div>
<div style="top:117px;height:1px;background:linear-gradient(90deg,#b72300 0.5px,#be2c00 41.5px,#c13000 54.5px,#be2c00 102.5px,#b42001 122.5px,#a81566 150.5px,#9d0eaf 178.5px,#940adb 204.5px,#8a06f6 235.5px,#7e04ff 274.5px,#7002ee 330.5px,#6801dd 363.5px)"></div>
<div style="top:118px;height:1px;background:linear-gradient(90deg,#b72200 0.5px,#bd2a00 41.5px,#c12f00 52.5px,#be2b00 102.5px,#b42001 121.5px,#a81564 148.5px,#9d0eae 176.5px,#940ad9 201.5px,#8a06f6 232.5px,#7f04ff 271.5px,#7002ef 326.5px,#6801dc 363.5px)"></div>
<div style="top:119px;height:1px;background:linear-gradient(90deg,#b62200 0.5px,#bc2900 41.5px,#c02e00 51.5px,#bc2900 103.5px,#b42002 120.5px,#a81564 147.5px,#9d0eae 175.5px,#940ad9 200.5px,#8a06f6 231.5px,#7e04ff 270.5px,#7002ee 326.5px,#6701da 363.5px)"></div>
<div style="top:120px;height:1px;background:linear-gradient(90deg,#b52100 0.5px,#bb2800 41.5px,#bf2d00 50.5px,#bc2900 103.5px,#b42002 119.5px,#a81565 146.5px,#9d0eaf 174.5px,#940ada 199.5px,#8a06f6 230.5px,#7e04ff 269.5px,#6f02ee 325.5px,#6701d9 363.5px)"></div>
<div style="top:121px;height:1px;background:linear-gradient(90deg,#b42000 0.5px,#ba2700 41.5px,#bf2d00 49.5px,#bb2800 104.5px,#b42002 118.5px,#a81566 145.5px,#9d0eb0 173.5px,#940adb 198.5px,#8906f7 229.5px,#7e04ff 268.5px,#6f02ed 324.5px,#6601d8 363.5px)"></div>
<div style="top:122px;height:1px;background:linear-gradient(90deg,#b41f05 0.5px,#b82400 34.5px,#be2b00 54.5px,#ba2600 105.5px,#b42003 117.5px,#a81566 144.5px,#9d0eb1 172.5px,#940adb 197.5px,#8a06f7 227.5px,#7e04ff 265.5px,#7002ee 320.5px,#6601d6 363.5px)"></div>
<div style="top:123px;height:1px;background:linear-gradient(90deg,#b31f0b 0.5px,#b42001 17.5px,#bb2800 42.5px,#bc2800 101.5px,#b42003 116.5px,#a81564 142.5px,#9d0ead 169.5px,#940ad9 194.5px,#8a06f6 224.5px,#7f04ff 262.5px,#7002ef 316.5px,#6501d5 363.5px)"></div>
<div style="top:124px;height:1px;background:linear-gradient(90deg,#b21e11 0.5px,#b31f08 17.5px,#b52000 26.5px,#ba2700 42.5px,#bb2800 100.5px,#b42000 114.5px,#a81568 142.5px,#9c0eb3 170.5px,#9309dd 195.5px,#8906f7 225.5px,#7d04ff 264.5px,#6e02ec 321.5px,#6501d3 363.5px)"></div>
<div style="top:125px;height:1px;background:linear-gradient(90deg,#b21d18 0.5px,#b31e10 16.5px,#b52000 29.5px,#b92600 42.5px,#bb2800 95.5px,#b42000 113.5px,#a81565 140.5px,#9d0eaf 167.5px,#940ada 191.5px,#8a06f6 221.5px,#7e04ff 259.5px,#7002ef 313.5px,#6401d2 363.5px)"></div>
<div style="top:126px;height:1px;background:linear-gradient(90deg,#b11c1e 0.5px,#b21d16 16.5px,#b52000 33.5px,#bb2800 56.5px,#b82400 105.5px,#b42000 112.5px,#a91563 138.5px,#9d0ead 165.5px,#940ad9 189.5px,#8a06f6 219.5px,#7f04ff 256.5px,#7002ef 309.5px,#6401d0 363.5px)"></div>
<div style="top:127px;height:1px;background:linear-gradient(90deg,#b01c24 0.5px,#b11d1d 16.5px,#b52000 37.5px,#ba2700 55.5px,#b72300 106.5px,#b42000 111.5px,#a81564 137.5px,#9d0eae 164.5px,#940ada 188.5px,#8a06f6 218.5px,#7e04ff 255.5px,#7002ef 308.5px,#6301cf 363.5px)"></div>
<div style="top:128px;height:1px;background:linear-gradient(90deg,#af1b2a 0.5px,#b01c23 16.5px,#b52000 40.5px,#ba2600 54.5px,#b62200 107.5px,#b42000 110.5px,#a91561 135.5px,#9e0eaa 161.5px,#950ad7 185.5px,#8b07f5 214.5px,#7f04ff 250.5px,#7102f1 301.5px,#6201cd 363.5px)"></div>
<div style="top:129px;height:1px;background:linear-gradient(90deg,#af1a31 0.5px,#b01b2a 16.5px,#b41f04 40.5px,#b92500 47.5px,#b52100 107.5px,#b41f05 110.5px,#a81565 135.5px,#9d0eb0 162.5px,#940adb 186.5px,#8a06f6 215.5px,#7e04ff 252.5px,#7002ee 305.5px,#6201cc 363.5px)"></div>
<div style="top:130px;height:1px;background:linear-gradient(90deg,#ae1a37 0.5px,#af1a30 16.5px,#b31f0a 40.5px,#b52100 42.5px,#b82400 75.5px,#b42000 108.5px,#aa1658 130.5px,#a00fa0 154.5px,#960bd0 177.5px,#8c07f1 205.5px,#8204ff 239.5px,#7402f6 286.5px,#6101ca 363.5px)"></div>
<div style="top:131px;height:1px;background:linear-gradient(90deg,#ad193d 0.5px,#ae1a35 17.5px,#b31e0e 41.5px,#b42000 42.5px,#b72300 73.5px,#b42000 107.5px,#aa1755 128.5px,#a0109b 151.5px,#970bcc 173.5px,#8d07ef 201.5px,#8305fe 234.5px,#7502f8 280.5px,#6101c9 362.5px,#6101c9 363.5px)"></div>
<div style="top:132px;height:1px;background:linear-gradient(90deg,#ad1843 0.5px,#ad193b 17.5px,#b21d15 41.5px,#b52100 43.5px,#b42002 106.5px,#a81564 131.5px,#9d0eae 157.5px,#940ad9 180.5px,#8a06f6 209.5px,#7f04ff 245.5px,#7002ef 297.5px,#6001c7 363.5px)"></div>
<div style="top:133px;height:1px;background:linear-gradient(90deg,#ac1849 0.5px,#ad1941 17.5px,#b11d1b 41.5px,#b42001 43.5px,#b42002 104.5px,#b31e0d 108.5px,#aa165a 127.5px,#9f0fa2 151.5px,#960bd1 173.5px,#8c07f1 201.5px,#8104ff 235.5px,#7402f5 282.5px,#6001c6 363.5px)"></div>
<div style="top:134px;height:1px;background:linear-gradient(90deg,#ab174e 0.5px,#ac1847 17.5px,#b01c22 41.5px,#b31f09 43.5px,#b42000 45.5px,#b42001 102.5px,#b21e12 108.5px,#a9165f 127.5px,#9e0fa8 152.5px,#950ad6 175.5px,#8b07f4 203.5px,#8004ff 238.5px,#7202f2 287.5px,#5f01c4 363.5px)"></div>
<div style="top:135px;height:1px;background:linear-gradient(90deg,#aa1754 0.5px,#ab174d 17.5px,#b01b29 41.5px,#b31f08 44.5px,#b52000 49.5px,#b41f07 102.5px,#b21d17 108.5px,#a9165f 126.5px,#9e0ea9 151.5px,#950ad7 174.5px,#8b07f4 202.5px,#7f04ff 237.5px,#7102f1 287.5px,#5f01c2 363.5px)"></div>
<div style="top:136px;height:1px;background:linear-gradient(90deg,#aa165a 0.5px,#ab1753 17.5px,#af1a30 41.5px,#b31e0f 44.5px,#b41f04 49.5px,#b31e0d 102.5px,#b11d1b 108.5px,#a81564 126.5px,#9d0eaf 152.5px,#940ada 175.5px,#8a06f6 203.5px,#7e04ff 239.5px,#7002ee 291.5px,#5e01c1 363.5px)"></div>
<div style="top:137px;height:1px;background:linear-gradient(90deg,#a91660 0.5px,#aa1658 18.5px,#ae1a36 41.5px,#b21d16 44.5px,#b31f0a 49.5px,#b21e13 102.5px,#b11c20 108.5px,#a81564 125.5px,#9d0eb0 151.5px,#940adb 174.5px,#8a06f7 202.5px,#7e04ff 238.5px,#6f02ee 290.5px,#5e01bf 363.5px)"></div>
<div style="top:138px;height:1px;background:linear-gradient(90deg,#a81565 0.5px,#a9165e 18.5px,#ad193d 41.5px,#b11d1d 44.5px,#b21e11 49.5px,#b11d19 102.5px,#b01c24 108.5px,#a91562 123.5px,#9e0eac 148.5px,#950ad8 170.5px,#8a07f5 198.5px,#7f04ff 233.5px,#7102f0 283.5px,#5d01bd 363.5px)"></div>
<div style="top:139px;height:1px;background:linear-gradient(90deg,#a7146b 0.5px,#a81564 18.5px,#ac1843 41.5px,#b01c24 44.5px,#b21d17 49.5px,#b01c22 103.5px,#b01b29 108.5px,#a9165f 121.5px,#9e0fa8 145.5px,#950ad5 167.5px,#8b07f3 194.5px,#8004ff 228.5px,#7202f2 276.5px,#5d01bc 363.5px)"></div>
<div style="top:140px;height:1px;background:linear-gradient(90deg,#a71470 0.5px,#a81569 18.5px,#ac184a 41.5px,#ae1a35 43.5px,#af1b2a 44.5px,#b11c1e 50.5px,#b01b29 105.5px,#af1b2e 108.5px,#ab1751 116.5px,#a11095 137.5px,#980cc8 158.5px,#8e08ec 184.5px,#8405fe 215.5px,#7703fa 257.5px,#6401d1 330.5px,#5c01ba 363.5px)"></div>
<div style="top:141px;height:1px;background:linear-gradient(90deg,#a61376 0.5px,#a7146e 19.5px,#ab1750 41.5px,#ac1849 42.5px,#af1a31 44.5px,#b01c24 50.5px,#af1b2f 107.5px,#ab1751 115.5px,#a11096 136.5px,#980bc9 157.5px,#8e08ec 182.5px,#8405fe 213.5px,#7703fa 255.5px,#6401d2 327.5px,#5c01b9 363.5px)"></div>
<div style="top:142px;height:1px;background:linear-gradient(90deg,#a5137b 0.5px,#a61474 19.5px,#aa1656 41.5px,#ab1750 42.5px,#ae1a38 44.5px,#af1b2b 50.5px,#ae1a33 107.5px,#ac184b 112.5px,#a21094 134.5px,#980cc8 155.5px,#8f08ec 180.5px,#8405fe 211.5px,#7703fa 253.5px,#6401d1 325.5px,#5b01b7 363.5px)"></div>
<div style="top:143px;height:1px;background:linear-gradient(90deg,#a41280 0.5px,#a51379 19.5px,#a9165c 41.5px,#aa1657 42.5px,#ad193e 44.5px,#af1a31 50.5px,#ae1a39 107.5px,#ab1750 112.5px,#a1109b 135.5px,#970bcd 156.5px,#8d07ef 182.5px,#8205fe 213.5px,#7502f8 256.5px,#6101ca 333.5px,#5b01b5 363.5px)"></div>
<div style="top:144px;height:1px;background:linear-gradient(90deg,#a41286 0.5px,#a5137e 20.5px,#a91562 41.5px,#a9165d 42.5px,#ac1845 44.5px,#ae1a38 50.5px,#ad193f 107.5px,#aa1755 112.5px,#9f0fa4 137.5px,#960ad3 158.5px,#8c07f2 184.5px,#8104ff 216.5px,#7302f5 261.5px,#5d01bc 350.5px,#5a00b4 363.5px)"></div>
<div style="top:145px;height:1px;background:linear-gradient(90deg,#a3118b 0.5px,#a41283 20.5px,#a81569 41.5px,#a81564 42.5px,#ac184b 44.5px,#ad193e 49.5px,#ac1845 107.5px,#aa165a 112.5px,#9e0eab 138.5px,#950ad7 159.5px,#8b07f4 185.5px,#8004ff 218.5px,#7202f2 265.5px,#5900b2 363.5px)"></div>
<div style="top:146px;height:1px;background:linear-gradient(90deg,#a21190 0.5px,#a31289 20.5px,#a7146f 41.5px,#a8156a 42.5px,#ab1751 44.5px,#ac1844 49.5px,#ab184c 107.5px,#a3118c 126.5px,#990cc3 147.5px,#9008e9 171.5px,#8505fd 200.5px,#7903fc 239.5px,#6701da 303.5px,#5900b0 363.5px)"></div>
<div style="top:147px;height:1px;background:linear-gradient(90deg,#a11095 0.5px,#a3118d 21.5px,#a61474 41.5px,#a71470 42.5px,#aa1658 44.5px,#ac184a 49.5px,#ab1752 107.5px,#9e0ead 136.5px,#940ad8 157.5px,#8a07f5 183.5px,#7f04ff 216.5px,#7102f1 263.5px,#5800af 363.5px)"></div>
<div style="top:148px;height:1px;background:linear-gradient(90deg,#a1109a 0.5px,#a21192 21.5px,#a5137a 41.5px,#a61377 42.5px,#a9165e 44.5px,#ab1750 49.5px,#a9165b 108.5px,#9c0db8 139.5px,#9209e0 161.5px,#8806f9 188.5px,#7c03fe 223.5px,#6d02e9 276.5px,#5800ad 363.5px)"></div>
<div style="top:149px;height:1px;background:linear-gradient(90deg,#a00f9f 0.5px,#a11096 22.5px,#a5137d 42.5px,#a81564 44.5px,#aa1756 49.5px,#a91561 108.5px,#9b0dbb 139.5px,#9209e3 161.5px,#8706fa 189.5px,#7b03fe 225.5px,#6b01e4 281.5px,#5700ab 363.5px)"></div>
<div style="top:150px;height:1px;background:linear-gradient(90deg,#9f0fa3 0.5px,#a1109b 23.5px,#a41283 42.5px,#a8156a 44.5px,#a9165c 49.5px,#a81567 108.5px,#a3118d 121.5px,#990cc5 142.5px,#8f08e9 165.5px,#8505fd 194.5px,#7803fb 233.5px,#6601d7 298.5px,#5700aa 363.5px)"></div>
<div style="top:151px;height:1px;background:linear-gradient(90deg,#9e0fa8 0.5px,#a00f9f 23.5px,#a31289 42.5px,#a71470 44.5px,#a91562 49.5px,#a7146d 108.5px,#a41284 117.5px,#9a0cc2 139.5px,#9008e6 161.5px,#8605fc 189.5px,#7a03fd 226.5px,#6901de 286.5px,#5600a8 363.5px)"></div>
<div style="top:152px;height:1px;background:linear-gradient(90deg,#9e0ead 0.5px,#9f0fa3 24.5px,#a2118f 42.5px,#a61376 44.5px,#a81568 49.5px,#a61472 108.5px,#a41285 116.5px,#990cc3 138.5px,#9008e7 160.5px,#8605fc 188.5px,#7903fc 226.5px,#6801dc 287.5px,#5600a6 363.5px)"></div>
<div style="top:153px;height:1px;background:linear-gradient(90deg,#9d0eb1 0.5px,#9e0fa8 24.5px,#a11095 42.5px,#a5137c 44.5px,#a7146d 49.5px,#a61378 108.5px,#a41286 115.5px,#9a0cc1 136.5px,#9008e7 158.5px,#8605fc 186.5px,#7903fc 223.5px,#6801dd 283.5px,#5500a4 363.5px)"></div>
<div style="top:154px;height:1px;background:linear-gradient(90deg,#9c0db5 0.5px,#9e0eac 25.5px,#a1109a 42.5px,#a41282 44.5px,#a61473 49.5px,#a5137d 108.5px,#a3118a 115.5px,#990cc4 136.5px,#9008e8 158.5px,#8505fc 186.5px,#7903fb 224.5px,#6701da 286.5px,#5500a3 363.5px)"></div>
<div style="top:155px;height:1px;background:linear-gradient(90deg,#9b0dba 0.5px,#9d0eb0 25.5px,#a00f9f 42.5px,#a31287 44.5px,#a61379 49.5px,#a41284 109.5px,#a3118a 114.5px,#9a0cc1 133.5px,#9008e7 155.5px,#8605fc 182.5px,#7a03fc 219.5px,#6801de 278.5px,#5400a1 363.5px)"></div>
<div style="top:156px;height:1px;background:linear-gradient(90deg,#9a0dbe 0.5px,#9c0eb4 26.5px,#9f0fa4 42.5px,#a3118d 44.5px,#a5137e 49.5px,#a3118b 112.5px,#980bcb 136.5px,#8e08ed 159.5px,#8305fe 188.5px,#7603f9 228.5px,#6301ce 298.5px,#53009f 363.5px)"></div>
<div style="top:157px;height:1px;background:linear-gradient(90deg,#9a0cc2 0.5px,#9c0db7 27.5px,#9e0fa9 42.5px,#a21192 44.5px,#a41284 49.5px,#a21190 113.5px,#990cc5 132.5px,#8f08e9 154.5px,#8505fd 182.5px,#7803fb 220.5px,#6601d7 283.5px,#53009d 363.5px)"></div>
<div style="top:158px;height:1px;background:linear-gradient(90deg,#990cc6 0.5px,#9b0dbb 28.5px,#9d0eae 42.5px,#a11098 44.5px,#a31289 49.5px,#a11096 114.5px,#990cc4 130.5px,#9008e8 151.5px,#8505fc 178.5px,#7903fc 215.5px,#6701db 275.5px,#52009b 363.5px)"></div>
<div style="top:159px;height:1px;background:linear-gradient(90deg,#980bc9 0.5px,#9a0dbe 29.5px,#9d0eb2 42.5px,#a0109d 44.5px,#a2118e 48.5px,#a0109b 114.5px,#980bcb 132.5px,#8e08ed 154.5px,#8305fe 182.5px,#7603f9 221.5px,#6301d0 288.5px,#52009a 363.5px)"></div>
<div style="top:160px;height:1px;background:linear-gradient(90deg,#970bcd 0.5px,#9a0cc2 30.5px,#9c0db7 42.5px,#9f0fa3 44.5px,#a21193 48.5px,#a00fa0 114.5px,#960bd0 133.5px,#8d07f0 156.5px,#8204ff 185.5px,#7402f6 226.5px,#5f01c3 302.5px,#510098 363.5px)"></div>
<div style="top:161px;height:1px;background:linear-gradient(90deg,#960bd1 0.5px,#990cc5 31.5px,#9b0dbb 42.5px,#9e0fa8 44.5px,#a11099 48.5px,#9f0fa5 114.5px,#950ad5 134.5px,#8c07f3 157.5px,#8004ff 187.5px,#7302f4 229.5px,#510096 363.5px)"></div>
<div style="top:162px;height:1px;background:linear-gradient(90deg,#950ad4 0.5px,#980cc8 32.5px,#9a0cbf 42.5px,#9e0fa8 45.5px,#a0109e 49.5px,#9e0eaa 114.5px,#940ad9 135.5px,#8a06f6 159.5px,#7f04ff 190.5px,#7002ef 235.5px,#500094 363.5px)"></div>
<div style="top:163px;height:1px;background:linear-gradient(90deg,#950ad7 0.5px,#980bca 34.5px,#990cc4 42.5px,#9a0dbe 43.5px,#9c0eb3 44.5px,#9f0fa3 49.5px,#9d0eae 114.5px,#9309de 136.5px,#8906f8 161.5px,#7d04ff 193.5px,#6e02eb 241.5px,#4f0092 363.5px)"></div>
<div style="top:164px;height:1px;background:linear-gradient(90deg,#940adb 0.5px,#970bce 35.5px,#980cc8 42.5px,#990cc3 43.5px,#9d0eb2 45.5px,#9e0fa8 49.5px,#9c0eb3 114.5px,#9209e1 137.5px,#8806fa 162.5px,#7c03fe 195.5px,#6c01e7 245.5px,#4f0090 363.5px)"></div>
<div style="top:165px;height:1px;background:linear-gradient(90deg,#9309de 0.5px,#960bd0 36.5px,#980cc8 43.5px,#9c0db6 45.5px,#9e0eac 49.5px,#9c0db7 114.5px,#9109e4 137.5px,#8706fa 162.5px,#7b03fd 196.5px,#6a01e3 249.5px,#4e008e 363.5px)"></div>
<div style="top:166px;height:1px;background:linear-gradient(90deg,#9209e1 0.5px,#960ad3 37.5px,#970bcc 43.5px,#9b0dbb 45.5px,#9d0eb0 50.5px,#9b0dbc 114.5px,#9008e7 138.5px,#8605fc 164.5px,#7903fc 199.5px,#6801dc 256.5px,#4e008c 363.5px)"></div>
<div style="top:167px;height:1px;background:linear-gradient(90deg,#9109e3 0.5px,#950ad6 38.5px,#960bd0 43.5px,#9a0cbf 45.5px,#9c0db5 50.5px,#9a0cc0 114.5px,#8f08ea 139.5px,#8505fd 165.5px,#7803fb 201.5px,#6601d7 261.5px,#4d008a 363.5px)"></div>
<div style="top:168px;height:1px;background:linear-gradient(90deg,#9108e6 0.5px,#940ad9 39.5px,#950ad5 43.5px,#990cc4 45.5px,#9b0db9 51.5px,#990cc6 115.5px,#8e08ed 140.5px,#8305fe 167.5px,#7603f9 204.5px,#6301cf 269.5px,#4c0089 363.5px)"></div>
<div style="top:169px;height:1px;background:linear-gradient(90deg,#9008e8 0.5px,#940adb 40.5px,#940ad8 43.5px,#980cc8 45.5px,#9b0dbd 51.5px,#980bc9 115.5px,#8d07f0 141.5px,#8204fe 168.5px,#7502f7 206.5px,#6101c8 275.5px,#4c0087 363.5px)"></div>
<div style="top:170px;height:1px;background:linear-gradient(90deg,#8f08eb 0.5px,#9309de 41.5px,#930adc 43.5px,#970bcc 45.5px,#9a0cc1 51.5px,#970bce 116.5px,#8c07f2 141.5px,#8104ff 169.5px,#7402f5 208.5px,#5e01bf 283.5px,#4b0085 363.5px)"></div>
<div style="top:171px;height:1px;background:linear-gradient(90deg,#8e08ed 0.5px,#9209e1 41.5px,#9309df 43.5px,#970bcf 45.5px,#990cc5 52.5px,#960bd2 117.5px,#8c07f2 140.5px,#8104ff 168.5px,#7302f5 207.5px,#5d01bc 285.5px,#4b0083 363.5px)"></div>
<div style="top:172px;height:1px;background:linear-gradient(90deg,#8d07ef 0.5px,#9109e3 42.5px,#9209e2 43.5px,#960ad3 45.5px,#980bc9 52.5px,#950ad5 117.5px,#8b07f4 141.5px,#8004ff 169.5px,#7202f2 210.5px,#4a0081 363.5px)"></div>
<div style="top:173px;height:1px;background:linear-gradient(90deg,#8c07f1 0.5px,#9109e5 43.5px,#950ad7 45.5px,#970bcc 52.5px,#940ad9 118.5px,#8a06f6 142.5px,#7e04ff 171.5px,#7002ee 214.5px,#49007f 363.5px)"></div>
<div style="top:174px;height:1px;background:linear-gradient(90deg,#8b07f3 0.5px,#9008e8 43.5px,#940ada 45.5px,#960bd0 52.5px,#930adc 118.5px,#8906f8 142.5px,#7d04ff 172.5px,#6f02ec 216.5px,#49007d 363.5px)"></div>
<div style="top:175px;height:1px;background:linear-gradient(90deg,#8b07f5 0.5px,#8f08ea 43.5px,#940adc 46.5px,#960ad3 52.5px,#9209e0 119.5px,#8806f9 143.5px,#7c03fe 174.5px,#6c02e7 221.5px,#48007b 363.5px)"></div>
<div style="top:176px;height:1px;background:linear-gradient(90deg,#8a06f6 0.5px,#8e08ec 43.5px,#9309df 46.5px,#950ad7 52.5px,#9209e3 119.5px,#8706fa 143.5px,#7b03fe 174.5px,#6b01e5 222.5px,#470079 363.5px)"></div>
<div style="top:177px;height:1px;background:linear-gradient(90deg,#8906f8 0.5px,#8d07ef 43.5px,#9309de 48.5px,#940ada 56.5px,#9008e6 120.5px,#8605fc 144.5px,#7a03fd 176.5px,#6901df 228.5px,#470077 363.5px)"></div>
<div style="top:178px;height:1px;background:linear-gradient(90deg,#8806f9 0.5px,#8d07f1 43.5px,#9309df 49.5px,#9008e6 118.5px,#8505fc 144.5px,#7903fc 177.5px,#6701db 231.5px,#460074 363.5px)"></div>
<div style="top:179px;height:1px;background:linear-gradient(90deg,#8706fa 0.5px,#8c07f3 43.5px,#9209e1 50.5px,#8f08ea 120.5px,#8405fd 145.5px,#7803fa 179.5px,#6501d5 236.5px,#450072 363.5px)"></div>
<div style="top:180px;height:1px;background:linear-gradient(90deg,#8605fb 0.5px,#8b07f4 43.5px,#9209e3 51.5px,#8e08ee 121.5px,#8305fe 146.5px,#7603f9 181.5px,#6301ce 242.5px,#450070 363.5px)"></div>
<div style="top:181px;height:1px;background:linear-gradient(90deg,#8505fc 0.5px,#8a06f6 43.5px,#9109e5 51.5px,#8d07ef 121.5px,#8205fe 146.5px,#7502f7 182.5px,#6101c9 246.5px,#44006e 363.5px)"></div>
<div style="top:182px;height:1px;background:linear-gradient(90deg,#8405fd 0.5px,#8a06f6 44.5px,#9008e8 52.5px,#8c07f2 122.5px,#8104ff 148.5px,#7302f5 185.5px,#5c01bb 259.5px,#43006c 363.5px)"></div>
<div style="top:183px;height:1px;background:linear-gradient(90deg,#8405fe 0.5px,#8906f7 44.5px,#8f08ea 52.5px,#8b07f4 122.5px,#8004ff 148.5px,#7202f3 186.5px,#43006a 363.5px)"></div>
<div style="top:184px;height:1px;background:linear-gradient(90deg,#8305fe 0.5px,#8906f8 45.5px,#8e08ec 52.5px,#8a06f6 123.5px,#7f04ff 150.5px,#7002ef 190.5px,#420068 363.5px)"></div>
<div style="top:185px;height:1px;background:linear-gradient(90deg,#8204ff 0.5px,#8806fa 45.5px,#8d07ef 52.5px,#8906f7 123.5px,#7e04ff 150.5px,#6f02ed 191.5px,#410066 363.5px)"></div>
<div style="top:186px;height:1px;background:linear-gradient(90deg,#8104ff 0.5px,#8605fb 45.5px,#8d07f1 53.5px,#8806f9 124.5px,#7c03fe 153.5px,#6d02e8 197.5px,#420069 356.5px,#400064 363.5px)"></div>
<div style="top:187px;height:1px;background:linear-gradient(90deg,#8004ff 0.5px,#8505fc 45.5px,#8c07f3 53.5px,#8706fb 125.5px,#7b03fd 155.5px,#6a01e2 202.5px,#43006b 350.5px,#400062 363.5px)"></div>
<div style="top:188px;height:1px;background:linear-gradient(90deg,#7f04ff 0.5px,#8706fb 46.5px,#8b07f4 55.5px,#8605fc 126.5px,#7903fc 157.5px,#6801dc 207.5px,#43006b 347.5px,#3f0060 363.5px)"></div>
<div style="top:189px;height:1px;background:linear-gradient(90deg,#7e04ff 0.5px,#8605fc 46.5px,#8a06f6 55.5px,#8405fd 128.5px,#7703fa 160.5px,#6501d4 214.5px,#420069 347.5px,#3e005d 363.5px)"></div>
<div style="top:190px;height:1px;background:linear-gradient(90deg,#7e04ff 0.5px,#8505fd 46.5px,#8906f8 56.5px,#8305fe 128.5px,#7603f9 161.5px,#6301cf 218.5px,#410065 349.5px,#3e005b 363.5px)"></div>
<div style="top:191px;height:1px;background:linear-gradient(90deg,#7d03fe 0.5px,#8405fe 46.5px,#8806f9 58.5px,#8204fe 129.5px,#7502f7 163.5px,#6001c6 225.5px,#3f0060 353.5px,#3d0059 363.5px)"></div>
<div style="top:192px;height:1px;background:linear-gradient(90deg,#7c03fe 0.5px,#8305fe 46.5px,#8706fa 59.5px,#8104ff 129.5px,#7402f6 163.5px,#5f01c2 227.5px,#3e005d 354.5px,#3c0057 363.5px)"></div>
<div style="top:193px;height:1px;background:linear-gradient(90deg,#7b03fd 0.5px,#8204ff 46.5px,#8605fb 59.5px,#8104ff 129.5px,#7302f4 164.5px,#5600a6 257.5px,#3b0055 363.5px)"></div>
<div style="top:194px;height:1px;background:linear-gradient(90deg,#7a03fd 0.5px,#8104ff 46.5px,#8505fc 60.5px,#8004ff 129.5px,#7202f2 165.5px,#400063 340.5px,#3b0053 363.5px)"></div>
<div style="top:195px;height:1px;background:linear-gradient(90deg,#7903fc 0.5px,#8004ff 46.5px,#8405fd 60.5px,#7f04ff 129.5px,#7102f1 165.5px,#400063 336.5px,#3a0051 363.5px)"></div>
<div style="top:196px;height:1px;background:linear-gradient(90deg,#7803fb 0.5px,#7f04ff 46.5px,#8405fe 60.5px,#7e04ff 130.5px,#6f02ed 168.5px,#410066 329.5px,#39004f 363.5px)"></div>
<div style="top:197px;height:1px;background:linear-gradient(90deg,#7703fa 0.5px,#7e04ff 46.5px,#8305fe 60.5px,#7d04ff 130.5px,#6e02eb 169.5px,#420068 324.5px,#38004d 363.5px)"></div>
<div style="top:198px;height:1px;background:linear-gradient(90deg,#7603f9 0.5px,#7d04ff 46.5px,#8204ff 59.5px,#7c03fe 130.5px,#6d02e9 170.5px,#420069 319.5px,#38004b 363.5px)"></div>
<div style="top:199px;height:1px;background:linear-gradient(90deg,#7502f8 0.5px,#7c03fe 46.5px,#8104ff 59.5px,#7c03fe 130.5px,#6c01e6 171.5px,#43006a 315.5px,#37004a 363.5px)"></div>
<div style="top:200px;height:1px;background:linear-gradient(90deg,#7402f6 0.5px,#7c03fe 46.5px,#8004ff 59.5px,#7b03fd 130.5px,#6b01e3 173.5px,#43006b 310.5px,#360048 363.5px)"></div>
<div style="top:201px;height:1px;background:linear-gradient(90deg,#7302f5 0.5px,#7b03fd 46.5px,#7f04ff 59.5px,#7a03fd 130.5px,#6901e0 174.5px,#43006b 307.5px,#360046 363.5px)"></div>
<div style="top:202px;height:1px;background:linear-gradient(90deg,#7302f3 0.5px,#7a03fd 46.5px,#7e04ff 59.5px,#7903fc 131.5px,#6801dc 177.5px,#43006b 304.5px,#350044 363.5px)"></div>
<div style="top:203px;height:1px;background:linear-gradient(90deg,#7202f2 0.5px,#7903fc 46.5px,#7e04ff 59.5px,#7803fb 131.5px,#6601d8 179.5px,#43006a 302.5px,#340042 363.5px)"></div>
<div style="top:204px;height:1px;background:linear-gradient(90deg,#7102f0 0.5px,#7602f8 45.5px,#7d03fe 55.5px,#7703fa 131.5px,#6501d5 180.5px,#420069 301.5px,#330040 363.5px)"></div>
<div style="top:205px;height:1px;background:linear-gradient(90deg,#7002ee 0.5px,#7502f7 45.5px,#7c03fe 54.5px,#7703f9 131.5px,#6301d0 182.5px,#410066 301.5px,#33003f 363.5px)"></div>
<div style="top:206px;height:1px;background:linear-gradient(90deg,#6f02ed 0.5px,#7402f5 45.5px,#7b03fd 53.5px,#7603f9 130.5px,#6301ce 182.5px,#410065 300.5px,#32003d 363.5px)"></div>
<div style="top:207px;height:1px;background:linear-gradient(90deg,#6e02eb 0.5px,#7302f4 45.5px,#7a03fd 52.5px,#7502f8 130.5px,#6101ca 184.5px,#400062 300.5px,#31003b 363.5px)"></div>
<div style="top:208px;height:1px;background:linear-gradient(90deg,#6d02e9 0.5px,#7202f2 45.5px,#7903fc 52.5px,#7502f7 129.5px,#6001c7 184.5px,#3f0061 299.5px,#300039 363.5px)"></div>
<div style="top:209px;height:1px;background:linear-gradient(90deg,#6c01e7 0.5px,#7102f0 45.5px,#7803fb 51.5px,#7402f6 129.5px,#5f01c3 186.5px,#3e005e 300.5px,#300038 363.5px)"></div>
<div style="top:210px;height:1px;background:linear-gradient(90deg,#6b01e4 0.5px,#7002ee 45.5px,#7703fa 51.5px,#7302f5 129.5px,#5b01b8 194.5px,#3d0058 304.5px,#2f0036 363.5px)"></div>
<div style="top:211px;height:1px;background:linear-gradient(90deg,#6a01e2 0.5px,#6f02ec 45.5px,#7603f9 51.5px,#7302f4 128.5px,#43006c 276.5px,#32003c 347.5px,#2e0034 363.5px)"></div>
<div style="top:212px;height:1px;background:linear-gradient(90deg,#6901e0 0.5px,#6e02ea 45.5px,#7502f7 51.5px,#7202f3 128.5px,#420067 279.5px,#300039 350.5px,#2e0033 363.5px)"></div>
<div style="top:213px;height:1px;background:linear-gradient(90deg,#6801dd 0.5px,#6d02e8 45.5px,#7402f6 51.5px,#7102f1 128.5px,#400064 280.5px,#2f0037 351.5px,#2d0031 363.5px)"></div>
<div style="top:214px;height:1px;background:linear-gradient(90deg,#6701db 0.5px,#6c01e6 45.5px,#7302f4 51.5px,#7002f0 128.5px,#410065 275.5px,#300038 345.5px,#2c0030 363.5px)"></div>
<div style="top:215px;height:1px;background:linear-gradient(90deg,#6601d8 0.5px,#6b01e4 45.5px,#7202f2 51.5px,#7002ee 128.5px,#410066 271.5px,#300038 341.5px,#2b002e 363.5px)"></div>
<div style="top:216px;height:1px;background:linear-gradient(90deg,#6501d6 0.5px,#6a01e1 45.5px,#7102f1 51.5px,#6f02ec 128.5px,#420068 266.5px,#300039 335.5px,#2b002c 363.5px)"></div>
<div style="top:217px;height:1px;background:linear-gradient(90deg,#6401d3 0.5px,#6901df 45.5px,#7002ef 51.5px,#6e02ea 128.5px,#420069 261.5px,#31003a 329.5px,#2a002b 363.5px)"></div>
<div style="top:218px;height:1px;background:linear-gradient(90deg,#6301d0 0.5px,#6801dc 45.5px,#6f02ed 51.5px,#6d02e9 128.5px,#43006a 257.5px,#31003b 324.5px,#29002a 363.5px)"></div>
<div style="top:219px;height:1px;background:linear-gradient(90deg,#6201cd 0.5px,#6701d9 45.5px,#6e02eb 51.5px,#6c01e7 128.5px,#43006b 253.5px,#31003c 320.5px,#280028 363.5px)"></div>
<div style="top:220px;height:1px;background:linear-gradient(90deg,#6101ca 0.5px,#6601d6 45.5px,#6d02e8 51.5px,#6b01e5 128.5px,#43006c 249.5px,#32003c 315.5px,#280027 363.5px)"></div>
<div style="top:221px;height:1px;background:linear-gradient(90deg,#6001c7 0.5px,#6501d4 45.5px,#6c01e6 51.5px,#6a01e3 128.5px,#43006c 246.5px,#32003c 312.5px,#270025 363.5px)"></div>
<div style="top:222px;height:1px;background:linear-gradient(90deg,#5f01c4 0.5px,#6401d1 45.5px,#6b01e3 51.5px,#6901e0 128.5px,#43006d 242.5px,#32003d 307.5px,#260024 363.5px)"></div>
<div style="top:223px;height:1px;background:linear-gradient(90deg,#5e01c1 0.5px,#6201cd 45.5px,#6a01e1 51.5px,#6901de 128.5px,#43006d 239.5px,#32003d 304.5px,#260023 363.5px)"></div>
<div style="top:224px;height:1px;background:linear-gradient(90deg,#5d01be 0.5px,#6101ca 45.5px,#6301cf 47.5px,#6701d9 49.5px,#6a01e1 55.5px,#6801dc 128.5px,#43006c 237.5px,#32003c 302.5px,#250021 363.5px)"></div>
<div style="top:225px;height:1px;background:linear-gradient(90deg,#5c01bb 0.5px,#6001c7 45.5px,#6201cc 47.5px,#6601d6 49.5px,#6901df 55.5px,#6701d9 128.5px,#43006c 234.5px,#32003c 298.5px,#240020 363.5px)"></div>
<div style="top:226px;height:1px;background:linear-gradient(90deg,#5b01b8 0.5px,#5f01c4 45.5px,#6101c8 47.5px,#6401d1 48.5px,#6801dc 54.5px,#6601d7 128.5px,#43006b 232.5px,#31003b 296.5px,#23001f 363.5px)"></div>
<div style="top:227px;height:1px;background:linear-gradient(90deg,#5a01b5 0.5px,#5e01c1 46.5px,#5f01c4 47.5px,#6201cd 48.5px,#6701da 54.5px,#6501d4 128.5px,#43006a 230.5px,#31003b 293.5px,#23001e 363.5px)"></div>
<div style="top:228px;height:1px;background:linear-gradient(90deg,#5900b2 0.5px,#5d01bd 46.5px,#5e01c0 47.5px,#6101ca 48.5px,#6601d7 54.5px,#6401d2 128.5px,#420068 229.5px,#31003a 292.5px,#22001c 363.5px)"></div>
<div style="top:229px;height:1px;background:linear-gradient(90deg,#5800ae 0.5px,#5c01ba 46.5px,#5d01bc 47.5px,#6001c7 48.5px,#6501d4 54.5px,#6301cf 128.5px,#410066 228.5px,#300038 291.5px,#21001b 363.5px)"></div>
<div style="top:230px;height:1px;background:linear-gradient(90deg,#5700ab 0.5px,#5b01b7 46.5px,#5c01b9 47.5px,#5f01c3 48.5px,#6401d1 54.5px,#6201cb 129.5px,#400063 228.5px,#2f0036 291.5px,#21001a 363.5px)"></div>
<div style="top:231px;height:1px;background:linear-gradient(90deg,#5600a8 0.5px,#5a00b4 46.5px,#5b01b6 47.5px,#5f01c2 49.5px,#6301ce 55.5px,#6101c8 129.5px,#400061 227.5px,#2e0035 290.5px,#200019 363.5px)"></div>
<div style="top:232px;height:1px;background:linear-gradient(90deg,#5500a5 0.5px,#5900b1 46.5px,#5a00b3 47.5px,#5e01bf 49.5px,#6201cb 54.5px,#6001c6 129.5px,#3f005f 226.5px,#2e0033 289.5px,#1f0018 363.5px)"></div>
<div style="top:233px;height:1px;background:linear-gradient(90deg,#5400a1 0.5px,#5800ae 46.5px,#5900b0 47.5px,#5c01bb 49.5px,#6101c8 54.5px,#5f01c3 129.5px,#3e005d 225.5px,#2d0032 288.5px,#1e0017 363.5px)"></div>
<div style="top:234px;height:1px;background:linear-gradient(90deg,#53009e 0.5px,#5700ab 46.5px,#5800ad 47.5px,#5b01b8 49.5px,#5f01c5 55.5px,#5e01c0 129.5px,#3e005c 224.5px,#2d0031 287.5px,#1e0016 363.5px)"></div>
<div style="top:235px;height:1px;background:linear-gradient(90deg,#52009b 0.5px,#5600a8 46.5px,#5700aa 47.5px,#5a01b5 49.5px,#5e01c1 55.5px,#5d01bd 129.5px,#3d005a 223.5px,#2c002f 286.5px,#1d0015 363.5px)"></div>
<div style="top:236px;height:1px;background:linear-gradient(90deg,#510097 0.5px,#5500a5 46.5px,#5d01bd 53.5px,#5c01ba 129.5px,#3d0059 220.5px,#2c0030 282.5px,#1c0014 363.5px)"></div>
<div style="top:237px;height:1px;background:linear-gradient(90deg,#500094 0.5px,#5400a2 46.5px,#5c01bb 54.5px,#5b01b7 129.5px,#3d0058 218.5px,#2c002f 280.5px,#1c0013 363.5px)"></div>
<div style="top:238px;height:1px;background:linear-gradient(90deg,#4f0090 0.5px,#53009e 46.5px,#5b01b8 54.5px,#5a00b4 129.5px,#3c0057 216.5px,#2b002e 278.5px,#1b0012 362.5px,#1b0012 363.5px)"></div>
<div style="top:239px;height:1px;background:linear-gradient(90deg,#4e008c 0.5px,#52009b 46.5px,#5a01b5 54.5px,#5900b0 130.5px,#3c0056 214.5px,#2b002d 276.5px,#1b0012 360.5px,#1a0011 363.5px)"></div>
<div style="top:240px;height:1px;background:linear-gradient(90deg,#4d0089 0.5px,#510098 46.5px,#5900b2 54.5px,#5800ad 130.5px,#3b0055 212.5px,#2b002d 273.5px,#1b0011 357.5px,#1a0010 363.5px)"></div>
<div style="top:241px;height:1px;background:linear-gradient(90deg,#4b0085 0.5px,#500094 45.5px,#510096 47.5px,#5800af 54.5px,#5700aa 130.5px,#3b0054 210.5px,#2a002c 271.5px,#1a0011 355.5px,#19000f 363.5px)"></div>
<div style="top:242px;height:1px;background:linear-gradient(90deg,#4a0081 0.5px,#4f0090 45.5px,#4f0092 47.5px,#5700ab 54.5px,#5600a7 130.5px,#3b0053 208.5px,#2a002b 269.5px,#1a0011 353.5px,#18000f 363.5px)"></div>
<div style="top:243px;height:1px;background:linear-gradient(90deg,#49007e 0.5px,#4e008c 44.5px,#4e008f 47.5px,#5600a8 54.5px,#5500a4 130.5px,#3a0052 206.5px,#2a002a 267.5px,#1a0010 351.5px,#18000e 363.5px)"></div>
<div style="top:244px;height:1px;background:linear-gradient(90deg,#48007a 0.5px,#4c0088 44.5px,#4d008b 47.5px,#5500a5 54.5px,#5400a1 130.5px,#3a0052 203.5px,#2a002a 263.5px,#190010 347.5px,#17000d 363.5px)"></div>
<div style="top:245px;height:1px;background:linear-gradient(90deg,#470076 0.5px,#4b0084 43.5px,#4e008c 48.5px,#5400a1 54.5px,#53009e 130.5px,#3a0051 201.5px,#29002a 261.5px,#19000f 345.5px,#16000c 363.5px)"></div>
<div style="top:246px;height:1px;background:linear-gradient(90deg,#450072 0.5px,#4a0080 43.5px,#4c0088 48.5px,#53009e 54.5px,#52009b 130.5px,#390050 199.5px,#290029 259.5px,#19000f 343.5px,#16000c 363.5px)"></div>
<div style="top:247px;height:1px;background:linear-gradient(90deg,#44006e 0.5px,#49007d 43.5px,#4b0084 48.5px,#52009b 54.5px,#510097 130.5px,#39004f 197.5px,#280028 257.5px,#18000f 341.5px,#15000b 363.5px)"></div>
<div style="top:248px;height:1px;background:linear-gradient(90deg,#43006a 0.5px,#470078 42.5px,#4a007f 48.5px,#510097 54.5px,#500094 130.5px,#39004e 195.5px,#280027 255.5px,#18000e 339.5px,#15000a 363.5px)"></div>
<div style="top:249px;height:1px;background:linear-gradient(90deg,#410067 0.5px,#460075 42.5px,#49007e 49.5px,#500094 54.5px,#4f0091 130.5px,#38004c 193.5px,#280027 252.5px,#18000e 336.5px,#14000a 363.5px)"></div>
<div style="top:250px;height:1px;background:linear-gradient(90deg,#400063 0.5px,#450071 42.5px,#48007a 49.5px,#4f0090 54.5px,#4e008d 130.5px,#38004b 191.5px,#270026 250.5px,#17000d 334.5px,#130009 363.5px)"></div>
<div style="top:251px;height:1px;background:linear-gradient(90deg,#3f005f 0.5px,#43006c 41.5px,#460075 49.5px,#4e008c 54.5px,#4d008a 130.5px,#37004a 189.5px,#270025 248.5px,#17000d 333.5px,#130009 363.5px)"></div>
<div style="top:252px;height:1px;background:linear-gradient(90deg,#3d005b 0.5px,#420068 41.5px,#450071 49.5px,#4d0089 54.5px,#4c0086 130.5px,#370049 187.5px,#260024 246.5px,#16000c 331.5px,#120008 363.5px)"></div>
<div style="top:253px;height:1px;background:linear-gradient(90deg,#3c0057 0.5px,#410064 41.5px,#43006d 49.5px,#4b0085 54.5px,#4b0083 130.5px,#360048 185.5px,#260023 244.5px,#16000c 329.5px,#120008 363.5px)"></div>
<div style="top:254px;height:1px;background:linear-gradient(90deg,#3b0053 0.5px,#3f0061 41.5px,#420068 49.5px,#4a0081 54.5px,#4a007f 130.5px,#360047 183.5px,#250022 242.5px,#15000b 328.5px,#110007 363.5px)"></div>
<div style="top:255px;height:1px;background:linear-gradient(90deg,#39004f 0.5px,#3e005d 41.5px,#400064 49.5px,#49007e 54.5px,#48007c 130.5px,#350045 182.5px,#250021 241.5px,#15000b 328.5px,#100007 363.5px)"></div>
<div style="top:256px;height:1px;background:linear-gradient(90deg,#38004c 0.5px,#3d0059 41.5px,#3f005f 49.5px,#48007a 54.5px,#470078 130.5px,#350044 180.5px,#240020 239.5px,#14000a 326.5px,#100006 363.5px)"></div>
<div style="top:257px;height:1px;background:linear-gradient(90deg,#370048 0.5px,#3b0055 41.5px,#3d005b 49.5px,#470076 54.5px,#460073 131.5px,#340041 180.5px,#23001f 239.5px,#130009 328.5px,#0f0006 363.5px)"></div>
<div style="top:258px;height:1px;background:linear-gradient(90deg,#350045 0.5px,#3a0051 41.5px,#3c0056 49.5px,#450072 54.5px,#450070 131.5px,#33003f 179.5px,#22001d 239.5px,#130008 330.5px,#0f0005 363.5px)"></div>
<div style="top:259px;height:1px;background:linear-gradient(90deg,#340041 0.5px,#39004e 41.5px,#3a0052 49.5px,#44006e 54.5px,#43006c 131.5px,#32003c 179.5px,#22001c 239.5px,#120008 332.5px,#0e0005 363.5px)"></div>
<div style="top:260px;height:1px;background:linear-gradient(90deg,#32003e 0.5px,#37004a 41.5px,#39004e 49.5px,#43006a 54.5px,#420068 131.5px,#31003a 178.5px,#21001a 239.5px,#110007 334.5px,#0e0005 363.5px)"></div>
<div style="top:261px;height:1px;background:linear-gradient(90deg,#31003b 0.5px,#360047 41.5px,#37004a 49.5px,#410066 54.5px,#410065 131.5px,#300038 178.5px,#200018 240.5px,#100006 339.5px,#0d0004 363.5px)"></div>
<div style="top:262px;height:1px;background:linear-gradient(90deg,#300038 0.5px,#350043 41.5px,#360047 47.5px,#360046 49.5px,#400062 54.5px,#400061 131.5px,#2f0035 178.5px,#1f0017 240.5px,#0f0005 341.5px,#0d0004 363.5px)"></div>
<div style="top:263px;height:1px;background:linear-gradient(90deg,#2e0034 0.5px,#330040 41.5px,#350043 47.5px,#340042 49.5px,#3f005e 54.5px,#3e005d 131.5px,#2d0032 179.5px,#1d0015 243.5px,#0d0004 350.5px,#0c0004 363.5px)"></div>
<div style="top:264px;height:1px;background:linear-gradient(90deg,#2d0031 0.5px,#32003d 42.5px,#330040 47.5px,#32003e 49.5px,#3d005a 54.5px,#3d005a 131.5px,#2c0030 179.5px,#1c0013 244.5px,#0c0004 356.5px,#0c0003 363.5px)"></div>
<div style="top:265px;height:1px;background:linear-gradient(90deg,#2c002f 0.5px,#31003a 42.5px,#32003d 47.5px,#31003a 49.5px,#3c0056 54.5px,#3c0056 131.5px,#2b002d 179.5px,#1b0012 245.5px,#0b0003 362.5px,#0b0003 363.5px)"></div>
<div style="top:266px;height:1px;background:linear-gradient(90deg,#2a002c 0.5px,#2f0037 42.5px,#300039 47.5px,#2f0035 48.5px,#32003e 50.5px,#3a0053 54.5px,#3a0053 131.5px,#2a002b 179.5px,#1a0011 246.5px,#0b0003 363.5px)"></div>
<div style="top:267px;height:1px;background:linear-gradient(90deg,#290029 0.5px,#2e0034 42.5px,#2f0036 47.5px,#2d0032 48.5px,#31003a 50.5px,#39004f 54.5px,#39004f 131.5px,#290028 180.5px,#18000f 249.5px,#0a0002 363.5px)"></div>
<div style="top:268px;height:1px;background:linear-gradient(90deg,#280026 0.5px,#2d0031 42.5px,#2e0033 47.5px,#2c002e 48.5px,#2f0037 50.5px,#38004b 54.5px,#38004c 131.5px,#270026 180.5px,#17000e 250.5px,#0a0002 363.5px)"></div>
<div style="top:269px;height:1px;background:linear-gradient(90deg,#260024 0.5px,#2c002f 43.5px,#2c0030 47.5px,#2a002b 48.5px,#2e0034 50.5px,#360048 54.5px,#370048 131.5px,#260024 181.5px,#16000c 253.5px,#090002 363.5px)"></div>
<div style="top:270px;height:1px;background:linear-gradient(90deg,#250021 0.5px,#2a002c 43.5px,#2b002d 47.5px,#280028 48.5px,#2c0030 50.5px,#350044 54.5px,#350045 131.5px,#250022 181.5px,#15000b 255.5px,#090002 363.5px)"></div>
<div style="top:271px;height:1px;background:linear-gradient(90deg,#23001f 0.5px,#290029 43.5px,#2a002b 47.5px,#270025 48.5px,#2b002d 50.5px,#340041 54.5px,#340042 131.5px,#24001f 182.5px,#14000a 258.5px,#080002 363.5px)"></div>
<div style="top:272px;height:1px;background:linear-gradient(90deg,#22001d 0.5px,#280027 43.5px,#280028 47.5px,#250022 48.5px,#29002a 50.5px,#32003d 54.5px,#33003f 131.5px,#23001d 182.5px,#130009 260.5px,#080002 363.5px)"></div>
<div style="top:273px;height:1px;background:linear-gradient(90deg,#21001b 0.5px,#270025 44.5px,#270025 47.5px,#240020 48.5px,#280027 50.5px,#31003a 54.5px,#31003c 131.5px,#21001b 183.5px,#110007 264.5px,#070001 363.5px)"></div>
<div style="top:274px;height:1px;background:linear-gradient(90deg,#200018 0.5px,#250022 44.5px,#260023 47.5px,#22001d 48.5px,#260024 50.5px,#2f0037 54.5px,#300038 132.5px,#1f0018 186.5px,#100006 272.5px,#070001 363.5px)"></div>
<div style="top:275px;height:1px;background:linear-gradient(90deg,#1e0017 0.5px,#240020 44.5px,#240020 47.5px,#21001b 48.5px,#250022 50.5px,#2e0034 54.5px,#2e0035 132.5px,#1e0017 186.5px,#0f0005 275.5px,#070001 363.5px)"></div>
<div style="top:276px;height:1px;background:linear-gradient(90deg,#1d0015 0.5px,#23001e 45.5px,#23001e 47.5px,#200018 48.5px,#24001f 50.5px,#2d0031 54.5px,#2d0032 132.5px,#1d0015 187.5px,#0d0004 280.5px,#060001 363.5px)"></div>
<div style="top:277px;height:1px;background:linear-gradient(90deg,#1c0013 0.5px,#22001c 45.5px,#22001c 47.5px,#1e0016 48.5px,#250022 51.5px,#2b002e 54.5px,#2c002f 132.5px,#1c0013 188.5px,#0c0004 285.5px,#060001 363.5px)"></div>
<div style="top:278px;height:1px;background:linear-gradient(90deg,#1a0011 0.5px,#20001a 47.5px,#1d0014 48.5px,#24001f 51.5px,#2a002b 55.5px,#2b002d 132.5px,#1b0012 189.5px,#0b0003 291.5px,#050001 363.5px)"></div>
<div style="top:279px;height:1px;background:linear-gradient(90deg,#190010 0.5px,#1f0018 47.5px,#1b0012 48.5px,#240021 52.5px,#290028 55.5px,#29002a 132.5px,#190010 191.5px,#090002 300.5px,#050001 363.5px)"></div>
<div style="top:280px;height:1px;background:linear-gradient(90deg,#18000e 0.5px,#1e0016 47.5px,#1a0011 49.5px,#270026 54.5px,#280027 132.5px,#18000e 192.5px,#080002 308.5px,#050001 363.5px)"></div>
<div style="top:281px;height:1px;background:linear-gradient(90deg,#17000d 0.5px,#1c0014 47.5px,#19000f 49.5px,#260023 54.5px,#260024 133.5px,#17000c 195.5px,#070001 322.5px,#040000 363.5px)"></div>
<div style="top:282px;height:1px;background:linear-gradient(90deg,#16000b 0.5px,#1b0012 47.5px,#17000e 49.5px,#240021 54.5px,#250022 133.5px,#15000b 197.5px,#060001 335.5px,#040000 363.5px)"></div>
<div style="top:283px;height:1px;background:linear-gradient(90deg,#14000a 0.5px,#1a0011 47.5px,#16000c 49.5px,#23001e 54.5px,#240020 133.5px,#14000a 198.5px,#050001 348.5px,#040000 363.5px)"></div>
<div style="top:284px;height:1px;background:linear-gradient(90deg,#130009 0.5px,#19000f 47.5px,#15000b 49.5px,#22001c 55.5px,#23001e 133.5px,#130009 200.5px,#040000 363.5px)"></div>
<div style="top:285px;height:1px;background:linear-gradient(90deg,#120008 0.5px,#17000e 47.5px,#130009 49.5px,#21001a 55.5px,#21001b 134.5px,#110007 204.5px,#030000 363.5px)"></div>
<div style="top:286px;height:1px;background:linear-gradient(90deg,#110007 0.5px,#16000c 47.5px,#120008 49.5px,#1f0018 55.5px,#200019 134.5px,#100006 206.5px,#030000 363.5px)"></div>
<div style="top:287px;height:1px;background:linear-gradient(90deg,#100006 0.5px,#15000b 47.5px,#110007 49.5px,#1e0016 55.5px,#1f0017 134.5px,#0f0005 209.5px,#030000 363.5px)"></div>
<div style="top:288px;height:1px;background:linear-gradient(90deg,#0f0005 0.5px,#14000a 47.5px,#100006 49.5px,#1d0014 55.5px,#1d0015 135.5px,#0d0004 214.5px,#030000 363.5px)"></div>
<div style="top:289px;height:1px;background:linear-gradient(90deg,#0e0005 0.5px,#130009 47.5px,#0e0005 49.5px,#1b0012 55.5px,#1c0013 135.5px,#0c0004 217.5px,#020000 363.5px)"></div>
<div style="top:290px;height:1px;background:linear-gradient(90deg,#0d0004 0.5px,#120008 47.5px,#0d0004 49.5px,#1a0011 55.5px,#1b0012 136.5px,#0b0003 223.5px,#020000 363.5px)"></div>
<div style="top:291px;height:1px;background:linear-gradient(90deg,#0c0003 0.5px,#110007 47.5px,#0c0004 49.5px,#19000f 55.5px,#1a0010 136.5px,#0a0002 227.5px,#020000 363.5px)"></div>
<div style="top:292px;height:1px;background:linear-gradient(90deg,#0b0003 0.5px,#0f0006 47.5px,#0b0003 49.5px,#18000e 55.5px,#18000e 137.5px,#080002 235.5px,#020000 363.5px)"></div>
<div style="top:293px;height:1px;background:linear-gradient(90deg,#0a0002 0.5px,#0e0005 47.5px,#0a0003 49.5px,#16000c 55.5px,#17000d 138.5px,#070001 244.5px,#020000 363.5px)"></div>
<div style="top:294px;height:1px;background:linear-gradient(90deg,#090002 0.5px,#0d0004 47.5px,#090002 49.5px,#15000b 55.5px,#15000b 139.5px,#060001 254.5px,#010000 363.5px)"></div>
<div style="top:295px;height:1px;background:linear-gradient(90deg,#080002 0.5px,#0c0004 47.5px,#080002 49.5px,#14000a 55.5px,#14000a 140.5px,#050001 266.5px,#010000 363.5px)"></div>
<div style="top:296px;height:1px;background:linear-gradient(90deg,#080001 0.5px,#0b0003 47.5px,#070001 49.5px,#130009 55.5px,#130009 141.5px,#030000 282.5px,#010000 363.5px)"></div>
<div style="top:297px;height:1px;background:linear-gradient(90deg,#070001 0.5px,#0b0003 47.5px,#060001 49.5px,#120008 55.5px,#120008 141.5px,#030000 289.5px,#010000 363.5px)"></div>
<div style="top:298px;height:1px;background:linear-gradient(90deg,#060001 0.5px,#0a0002 47.5px,#060001 49.5px,#110007 55.5px,#110007 142.5px,#020000 294.5px,#010000 363.5px)"></div>
<div style="top:299px;height:1px;background:linear-gradient(90deg,#050001 0.5px,#090002 47.5px,#050001 49.5px,#100006 56.5px,#100006 142.5px,#020000 298.5px,#010000 363.5px)"></div>
<div style="top:300px;height:1px;background:linear-gradient(90deg,#050001 0.5px,#080002 47.5px,#040000 49.5px,#0e0005 56.5px,#0f0005 143.5px,#020000 304.5px,#010000 363.5px)"></div>
<div style="top:301px;height:1px;background:linear-gradient(90deg,#040000 0.5px,#070001 47.5px,#040000 49.5px,#0d0004 56.5px,#0d0004 144.5px,#010000 312.5px,#010000 363.5px)"></div>
<div style="top:302px;height:1px;background:linear-gradient(90deg,#040000 0.5px,#060001 47.5px,#030000 49.5px,#0c0004 56.5px,#0d0004 144.5px,#010000 317.5px,#000000 363.5px)"></div>
<div style="top:303px;height:1px;background:linear-gradient(90deg,#030000 0.5px,#060001 47.5px,#040000 50.5px,#0c0003 57.5px,#0c0003 145.5px,#010000 326.5px,#000000 363.5px)"></div>
<div style="top:304px;height:1px;background:linear-gradient(90deg,#030000 0.5px,#050001 47.5px,#040000 50.5px,#0b0003 57.5px,#0b0003 146.5px,#010000 337.5px,#000000 363.5px)"></div>
<div style="top:305px;height:1px;background:linear-gradient(90deg,#020000 0.5px,#050001 47.5px,#030000 50.5px,#0a0002 57.5px,#0a0002 148.5px,#000000 353.5px,#000000 363.5px)"></div>
<div style="top:306px;height:1px;background:linear-gradient(90deg,#020000 0.5px,#040000 47.5px,#040000 51.5px,#090002 60.5px,#090002 149.5px,#000000 363.5px)"></div>
<div style="top:307px;height:1px;background:linear-gradient(90deg,#020000 0.5px,#040000 51.5px,#080002 61.5px,#080001 151.5px,#000000 363.5px)"></div>
<div style="top:308px;height:1px;background:linear-gradient(90deg,#010000 0.5px,#030000 51.5px,#070001 63.5px,#070001 153.5px,#000000 363.5px)"></div>
<div style="top:309px;height:1px;background:linear-gradient(90deg,#010000 0.5px,#030000 51.5px,#070001 66.5px,#060001 156.5px,#000000 363.5px)"></div>
<div style="top:310px;height:1px;background:linear-gradient(90deg,#010000 0.5px,#030000 52.5px,#060001 149.5px,#000000 363.5px)"></div>
<div style="top:311px;height:1px;background:linear-gradient(90deg,#010000 0.5px,#030000 52.5px,#050001 151.5px,#000000 363.5px)"></div>
<div style="top:312px;height:1px;background:linear-gradient(90deg,#000000 0.5px,#030000 53.5px,#040000 158.5px,#000000 363.5px)"></div>
<div style="top:313px;height:1px;background:linear-gradient(90deg,#000000 0.5px,#030000 53.5px,#030000 163.5px,#000000 363.5px)"></div>
<div style="top:314px;height:1px;background:linear-gradient(90deg,#000000 0.5px,#030000 159.5px,#000000 363.5px)"></div>
<div style="top:315px;height:1px;background:linear-gradient(90deg,#000000 0.5px,#020000 165.5px,#000000 363.5px)"></div>
<div style="top:316px;height:1px;background:linear-gradient(90deg,#000000 0.5px,#020000 172.5px,#000000 363.5px)"></div>
<div style="top:317px;height:1px;background:linear-gradient(90deg,#000000 0.5px,#010000 185.5px,#000000 363.5px)"></div>
<div style="top:318px;height:1px;background:linear-gradient(90deg,#000000 0.5px,#010000 210.5px,#000000 363.5px)"></div>
<div style="top:319px;height:1px;background:#000000"></div>
<div style="top:320px;height:1px;background:#000000"></div>
<div style="top:321px;height:1px;background:#000000"></div>
<div style="top:322px;height:1px;background:#000000"></div>
<div style="top:323px;height:1px;background:#000000"></div>
<div style="top:324px;height:1px;background:#000000"></div>
<div style="top:325px;height:1px;background:#000000"></div>
<div style="top:326px;height:1px;background:#000000"></div>
<div style="top:327px;height:1px;background:#000000"></div>
<div style="top:328px;height:1px;background:#000000"></div>
<div style="top:329px;height:1px;background:#000000"></div>
<div style="top:330px;height:1px;background:#000000"></div>
<div style="top:331px;height:1px;background:#000000"></div>
<div style="top:332px;height:1px;background:#000000"></div>
<div style="top:333px;height:1px;background:#000000"></div>
<div style="top:334px;height:1px;background:#000000"></div>
<div style="top:335px;height:1px;background:#000000"></div>
<div style="top:336px;height:1px;background:#000000"></div>
<div style="top:337px;height:1px;background:#000000"></div>
<div style="top:338px;height:1px;background:#000000"></div>
<div style="top:339px;height:1px;background:#000000"></div>
<div style="top:340px;height:1px;background:#000000"></div>
<div style="top:341px;height:1px;background:#000000"></div>
</div>
<div id="cb"></div>
<svg width="1036" height="497" viewBox="0 0 1036 497">
<g fill="none" stroke="#fff" stroke-width="1.35" stroke-linejoin="round">
<path d="M122.0 313.9 L141.1 314.2 L160.1 314.7 L179.2 315.3 L198.2 316.1 L217.3 316.9 L236.4 317.9 L255.4 318.9 L274.5 320.0 L486.5 248.7"/>
<path d="M122.0 289.3 L140.5 289.5 L159.0 289.8 L177.5 290.3 L196.0 290.8 L214.5 291.4 L233.0 292.1 L251.5 292.8 L270.0 293.6 L486.5 202.8"/>
<path d="M122.0 269.2 L139.9 269.3 L157.9 269.4 L175.8 269.6 L193.8 269.8 L211.7 270.1 L229.6 270.4 L247.6 270.7 L265.5 271.0 L486.5 161.7"/>
<path d="M122.0 249.5 L139.4 249.5 L156.9 249.6 L174.3 249.7 L191.8 249.9 L209.2 250.0 L226.6 250.1 L244.1 250.3 L261.5 250.5 L486.5 121.3"/>
<path d="M122.0 231.0 L138.8 231.0 L155.6 231.1 L172.4 231.1 L189.2 231.2 L206.1 231.3 L222.9 231.4 L239.7 231.5 L256.5 231.6 L486.5 80.2"/>
<path d="M122.0 214.2 L138.2 214.1 L154.4 214.0 L170.6 213.9 L186.8 213.7 L202.9 213.5 L219.1 213.3 L235.3 213.1 L251.5 212.8 L459.0 56.0"/>
<path d="M122.0 197.3 L137.4 197.2 L152.8 197.1 L168.1 196.9 L183.5 196.7 L198.9 196.5 L214.2 196.2 L229.6 195.9 L245.0 195.6 L406.4 56.0"/>
<path d="M122.0 180.4 L136.3 180.3 L150.6 180.2 L164.9 180.1 L179.2 180.0 L193.6 179.8 L207.9 179.6 L222.2 179.4 L236.5 179.2 L362.1 56.0"/>
<path d="M122.0 164.2 L135.3 164.1 L148.6 164.0 L161.9 163.9 L175.2 163.8 L188.6 163.6 L201.9 163.4 L215.2 163.2 L228.5 163.0 L323.4 56.0"/>
<path d="M122.0 148.3 L134.2 148.3 L146.4 148.2 L158.6 148.0 L170.8 147.9 L182.9 147.8 L195.1 147.6 L207.3 147.4 L219.5 147.2 L288.6 56.0"/>
<path d="M122.0 132.5 L132.9 132.5 L143.8 132.5 L154.6 132.4 L165.5 132.4 L176.4 132.4 L187.2 132.3 L198.1 132.3 L209.0 132.2 L256.8 56.0"/>
<path d="M122.0 117.0 L131.2 117.0 L140.4 116.9 L149.6 116.9 L158.8 116.8 L167.9 116.7 L177.1 116.6 L186.3 116.5 L195.5 116.4 L227.0 56.0"/>
<path d="M122.0 101.1 L129.2 101.1 L136.4 101.0 L143.6 101.0 L150.8 101.0 L157.9 100.9 L165.1 100.8 L172.3 100.8 L179.5 100.7 L196.6 56.0"/>
<path d="M122.0 86.7 L126.0 86.7 L130.0 86.7 L134.0 86.7 L138.0 86.6 L142.0 86.6 L146.0 86.6 L150.0 86.5 L154.0 86.5 L160.8 56.0"/>
<path d="M566.5 306.2 L567.6 306.2 L569.2 306.3 L571.0 306.4 L573.1 306.4 L575.1 306.5 L577.1 306.6 L579.0 306.7 L581.0 306.8 L583.1 307.0 L585.1 307.1 L587.2 307.2 L589.2 307.4 L591.2 307.6 L593.1 307.7 L595.1 307.9 L597.1 308.1 L599.1 308.3 L601.2 308.6 L603.6 309.0 L606.2 309.4 L609.0 309.9 L611.5 310.4 L613.7 310.8 L615.2 311.1 L617.0 314.0 L620.2 318.1 L650.0 318.5 L695.5 318.4 L698.0 317.5 L930.2 241.4"/>
<path d="M566.5 281.5 L567.6 281.5 L569.2 281.6 L571.0 281.6 L573.1 281.6 L575.1 281.7 L577.1 281.8 L579.0 281.9 L581.0 282.0 L583.1 282.2 L585.1 282.4 L587.2 282.5 L589.2 282.7 L591.2 282.9 L593.2 283.1 L595.2 283.3 L597.2 283.5 L599.2 283.7 L601.2 283.9 L603.4 284.2 L605.7 284.5 L608.0 284.8 L610.2 285.1 L612.0 285.3 L613.3 285.5 L614.5 289.0 L620.0 293.6 L660.0 293.6 L693.5 293.0 L696.0 292.0 L930.2 195.1"/>
<path d="M566.5 260.0 L567.6 260.0 L569.2 260.1 L571.0 260.1 L573.1 260.1 L575.1 260.2 L577.1 260.3 L579.0 260.4 L581.0 260.6 L583.1 260.7 L585.1 260.9 L587.2 261.1 L589.2 261.3 L591.2 261.5 L593.3 261.8 L595.3 262.1 L597.3 262.4 L599.3 262.7 L601.2 263.0 L603.1 263.4 L605.1 263.7 L607.1 264.2 L608.9 264.5 L610.4 264.9 L611.5 265.1 L613.0 268.5 L618.1 273.0 L660.0 272.0 L690.0 271.4 L692.5 270.5 L930.2 153.2"/>
<path d="M566.5 240.4 L567.6 240.4 L569.2 240.4 L571.0 240.4 L573.1 240.5 L575.1 240.5 L577.1 240.6 L579.0 240.7 L581.0 240.9 L583.1 241.1 L585.1 241.3 L587.2 241.6 L589.2 241.8 L591.2 242.1 L593.3 242.3 L595.3 242.6 L597.3 242.9 L599.3 243.3 L601.2 243.6 L603.1 244.0 L605.1 244.4 L607.1 244.8 L608.9 245.2 L610.4 245.6 L611.5 245.8 L612.7 249.0 L617.5 253.6 L660.0 252.7 L686.5 251.1 L689.0 250.0 L930.2 112.3"/>
<path d="M566.5 222.2 L567.6 222.2 L569.2 222.3 L571.0 222.3 L573.1 222.4 L575.1 222.5 L577.1 222.6 L579.0 222.8 L581.0 223.0 L583.1 223.3 L585.1 223.5 L587.2 223.8 L589.2 224.1 L591.2 224.4 L593.3 224.7 L595.4 225.0 L597.5 225.3 L599.4 225.6 L601.2 225.9 L602.9 226.2 L604.6 226.6 L606.2 226.9 L607.6 227.2 L608.8 227.5 L609.7 227.7 L611.0 232.0 L616.9 235.5 L660.0 233.9 L683.5 232.2 L686.0 231.0 L930.2 71.1"/>
<path d="M566.5 204.7 L567.6 204.7 L569.2 204.7 L571.0 204.7 L573.1 204.7 L575.1 204.8 L577.1 204.9 L579.0 205.1 L581.0 205.3 L583.1 205.6 L585.1 205.9 L587.2 206.2 L589.2 206.5 L591.3 206.9 L593.4 207.3 L595.5 207.7 L597.6 208.1 L599.5 208.5 L601.2 208.9 L602.8 209.3 L604.3 209.6 L605.6 209.9 L606.8 210.3 L607.8 210.5 L608.5 210.7 L610.3 215.0 L614.5 218.0 L680.0 216.0 L681.5 214.5 L888.3 57.0"/>
<path d="M566.5 187.2 L567.6 187.2 L569.2 187.2 L571.0 187.2 L573.1 187.3 L575.1 187.3 L577.1 187.5 L579.0 187.7 L581.0 188.0 L583.1 188.4 L585.1 188.8 L587.2 189.2 L589.2 189.6 L591.3 190.1 L593.4 190.6 L595.5 191.1 L597.6 191.7 L599.5 192.2 L601.2 192.6 L602.7 193.0 L604.1 193.4 L605.3 193.7 L606.4 194.0 L607.2 194.2 L607.9 194.4 L610.3 199.0 L615.1 201.1 L674.0 199.9 L675.6 197.5 L837.8 57.0"/>
<path d="M566.5 170.3 L567.6 170.4 L569.2 170.5 L571.0 170.6 L573.1 170.7 L575.1 170.9 L577.1 171.1 L579.0 171.4 L581.0 171.7 L583.1 172.1 L585.1 172.5 L587.2 172.9 L589.2 173.3 L591.3 173.8 L593.4 174.3 L595.6 174.8 L597.6 175.4 L599.5 175.9 L601.2 176.3 L602.6 176.7 L603.9 177.1 L605.0 177.4 L605.9 177.7 L606.7 177.9 L607.3 178.1 L609.1 183.0 L614.5 184.8 L668.0 183.5 L669.6 181.0 L794.5 57.0"/>
<path d="M566.5 153.3 L567.6 153.4 L569.2 153.5 L571.0 153.7 L573.1 153.9 L575.1 154.1 L577.1 154.5 L579.0 155.0 L581.0 155.6 L583.1 156.2 L585.1 156.9 L587.2 157.5 L589.2 158.1 L591.3 158.6 L593.4 159.0 L595.6 159.4 L597.7 159.8 L599.6 160.2 L601.2 160.6 L602.6 161.1 L603.7 161.7 L604.7 162.3 L605.5 162.8 L606.2 163.3 L606.7 163.6 L607.9 167.0 L612.7 168.5 L660.0 167.0 L662.0 165.0 L757.5 57.0"/>
<path d="M566.5 137.6 L567.6 137.7 L569.2 137.8 L571.0 138.0 L573.1 138.2 L575.1 138.4 L577.1 138.8 L579.0 139.2 L580.9 139.8 L582.9 140.4 L584.9 141.0 L587.0 141.7 L589.2 142.4 L591.6 143.2 L594.3 144.0 L597.0 144.8 L599.6 145.7 L601.9 146.5 L603.6 147.3 L604.7 148.0 L605.2 148.8 L605.4 149.5 L605.5 150.1 L605.4 150.6 L605.5 151.0 L610.9 152.7 L651.2 150.9 L653.0 149.5 L724.4 57.0"/>
<path d="M566.5 121.7 L567.6 121.8 L569.2 121.8 L571.0 121.9 L573.1 122.0 L575.1 122.2 L577.1 122.5 L579.0 122.9 L581.0 123.4 L583.0 124.0 L585.1 124.6 L587.1 125.3 L589.2 126.1 L591.4 127.0 L593.8 128.1 L596.1 129.2 L598.4 130.3 L600.3 131.4 L601.8 132.2 L602.7 132.8 L603.2 133.4 L603.4 133.8 L603.5 134.1 L603.4 134.4 L603.5 134.6 L608.5 137.0 L641.6 136.4 L643.2 135.0 L694.2 57.0"/>
<path d="M566.5 106.4 L567.6 106.5 L569.2 106.5 L571.0 106.6 L573.1 106.8 L575.1 107.0 L577.1 107.3 L579.1 107.7 L581.1 108.3 L583.2 108.9 L585.3 109.6 L587.3 110.3 L589.2 111.1 L591.1 111.9 L593.0 112.9 L594.9 113.9 L596.6 114.9 L598.2 115.7 L599.4 116.5 L600.3 117.1 L600.9 117.6 L601.3 118.1 L601.6 118.5 L601.8 118.8 L602.0 119.0 L606.0 121.7 L631.1 121.5 L632.8 120.3 L665.4 57.0"/>
<path d="M566.5 91.2 L567.7 91.3 L569.3 91.5 L571.3 91.7 L573.4 91.9 L575.4 92.1 L577.1 92.4 L578.6 92.7 L580.0 93.0 L581.3 93.3 L582.6 93.6 L583.8 94.0 L585.0 94.4 L586.2 94.8 L587.2 95.3 L588.3 95.8 L589.3 96.4 L590.3 97.0 L591.4 97.6 L592.6 98.3 L593.8 99.2 L595.0 100.1 L596.2 101.0 L597.2 101.7 L597.9 102.2 L601.0 105.5 L603.5 106.8 L617.2 106.6 L618.6 105.0 L637.0 57.0"/>
<path d="M566.5 76.1 L567.7 76.3 L569.3 76.5 L571.3 76.8 L573.3 77.1 L575.3 77.5 L577.1 77.9 L578.7 78.3 L580.2 78.8 L581.6 79.3 L583.0 79.9 L584.3 80.4 L585.5 81.0 L586.7 81.6 L587.8 82.2 L588.8 82.9 L589.7 83.5 L590.6 84.1 L591.5 84.5 L592.3 84.8 L593.1 85.1 L593.9 85.2 L594.5 85.3 L595.1 85.4 L595.5 85.5 L596.6 84.0 L602.2 57.0"/>
</g>
<g fill="none" stroke="#f00" stroke-width="4" stroke-linejoin="round" stroke-linecap="butt">
<path d="M121.5 77.7 L136.9 77.7 L139.9 80.4 L147.7 80.4 L150.8 82.9 L155.0 83.3 L161.0 88.5 L165.8 89.1 L174.3 95.8 L175.3 96.6 L176.8 97.8 L178.6 99.2 L180.3 100.5 L182.1 101.8 L184.1 103.1 L186.1 104.4 L187.8 105.8 L189.1 107.3 L190.1 109.0 L191.1 110.6 L192.3 112.0 L193.8 113.1 L195.6 114.1 L197.3 115.1 L198.8 116.3 L200.0 117.9 L201.1 119.7 L202.1 121.6 L203.3 123.3 L204.7 124.8 L206.1 126.1 L207.6 127.5 L209.0 129.0 L210.3 130.7 L211.5 132.4 L212.6 134.3 L213.8 136.2 L215.0 138.1 L216.2 140.1 L217.4 142.2 L218.6 144.3 L219.8 146.5 L221.0 148.7 L222.3 150.9 L223.5 153.1 L224.7 155.2 L226.0 157.3 L227.2 159.3 L228.3 161.2 L229.4 162.9 L230.4 164.3 L231.4 165.9 L232.3 167.6 L233.2 169.6 L234.0 171.7 L234.9 174.0 L235.8 176.5 L236.8 179.2 L237.9 182.2 L239.0 185.2 L240.2 188.2 L241.5 191.2 L242.8 194.2 L244.1 197.2 L245.3 200.2 L246.4 203.2 L247.4 206.1 L248.3 209.1 L249.3 212.3 L250.3 215.7 L251.3 219.2 L252.3 222.8 L253.3 226.4 L254.3 230.0 L255.3 233.6 L256.3 237.1 L257.3 240.5 L258.2 243.5 L259.1 246.3 L259.9 249.1 L260.8 252.3 L261.7 255.8 L262.7 259.4 L263.7 263.5 L264.7 268.1 L265.8 273.5 L267.0 279.5 L268.1 285.8 L269.3 292.3 L270.5 298.9 L271.7 305.7 L272.8 312.6 L273.8 319.5 L274.7 326.2 L275.5 332.9 L276.1 339.7 L276.8 346.7 L277.4 354.3 L278.0 362.2 L278.5 369.9 L278.9 376.9 L279.3 383.3 L279.7 389.3 L280.0 394.4 L280.2 398.0"/>
<path d="M566.5 71.9 L567.5 72.1 L568.9 72.4 L570.5 72.7 L572.2 73.1 L573.9 73.5 L575.8 73.9 L577.7 74.4 L579.5 74.9 L581.1 75.6 L582.7 76.4 L584.1 77.2 L585.5 77.9 L586.7 78.5 L587.7 79.1 L588.7 79.7 L589.8 80.5 L591.0 81.6 L592.3 82.9 L593.6 84.2 L594.7 85.6 L595.6 87.0 L596.4 88.3 L597.2 89.7 L597.9 91.0 L598.6 92.2 L599.2 93.3 L599.8 94.4 L600.7 95.3 L601.8 96.1 L603.2 96.7 L604.6 97.4 L606.0 98.0 L607.5 98.7 L609.0 99.4 L610.5 100.1 L612.0 100.8 L613.5 101.6 L615.0 102.3 L616.5 103.2 L618.0 104.2 L619.5 105.5 L621.0 106.9 L622.5 108.5 L624.0 110.0 L625.5 111.5 L627.0 113.0 L628.5 114.6 L630.0 116.2 L631.5 117.9 L633.0 119.6 L634.5 121.4 L636.0 123.2 L637.5 125.1 L639.0 127.0 L640.5 129.0 L642.0 131.0 L643.4 132.9 L644.8 134.9 L646.1 136.9 L647.5 139.0 L649.0 141.3 L650.5 143.7 L652.0 146.2 L653.4 148.6 L654.6 150.9 L655.7 153.1 L656.7 155.3 L657.8 157.6 L658.9 160.1 L660.1 162.6 L661.3 165.2 L662.5 167.7 L663.7 170.2 L665.0 172.6 L666.2 175.0 L667.4 177.4 L668.5 179.8 L669.5 182.1 L670.5 184.5 L671.4 187.0 L672.3 189.7 L673.0 192.5 L673.8 195.4 L674.6 198.3 L675.4 201.1 L676.2 204.0 L677.0 206.8 L677.8 209.6 L678.6 212.3 L679.4 214.9 L680.2 217.6 L681.0 220.2 L681.8 222.9 L682.5 225.7 L683.2 228.4 L683.8 231.0 L684.3 233.4 L684.7 235.6 L685.1 237.8 L685.5 240.0 L685.9 242.1 L686.4 244.2 L686.8 246.4 L687.4 249.2 L688.1 252.7 L689.0 256.8 L689.8 261.1 L690.6 265.3 L691.3 269.4 L691.9 273.6 L692.5 277.6 L693.0 281.4 L693.5 284.7 L693.9 287.7 L694.2 290.7 L694.6 294.2 L694.9 298.2 L695.2 302.6 L695.5 307.3 L695.9 312.2 L696.3 317.4 L696.8 323.0 L697.3 328.7 L697.7 334.3 L698.0 339.8 L698.3 345.4 L698.6 350.9 L698.8 356.5 L699.0 362.1 L699.2 367.8 L699.4 373.3 L699.5 378.7 L699.6 384.2 L699.7 389.9 L699.8 394.8 L699.9 398.3"/><path d="M600.7 95.3 L600.8 96.5 L600.8 98.2 L600.9 100.2 L601.1 102.6 L601.3 105.3 L601.6 108.4 L601.9 111.7 L602.2 115.0 L602.6 118.4 L603.0 121.9 L603.5 125.5 L604.0 129.2 L604.6 133.1 L605.2 137.0 L605.9 141.0 L606.5 144.9 L607.1 148.5 L607.7 151.9 L608.3 155.4 L608.8 159.3 L609.3 163.7 L609.8 168.5 L610.3 173.3 L610.7 178.1 L611.1 182.7 L611.4 187.2 L611.8 191.6 L612.1 196.2 L612.5 200.9 L612.8 205.6 L613.1 210.3 L613.4 215.0 L613.6 219.6 L613.7 224.1 L613.7 228.6 L613.9 233.1 L614.2 237.6 L614.5 242.1 L614.8 246.6 L615.1 251.2 L615.3 255.9 L615.5 260.6 L615.6 265.3 L615.8 270.0 L616.0 274.6 L616.1 279.1 L616.3 283.6 L616.5 288.1 L616.7 292.7 L617.0 297.4 L617.2 302.0 L617.5 306.2 L617.8 309.8 L618.0 313.0 L618.3 316.3 L618.6 320.1 L618.9 324.7 L619.1 329.8 L619.4 335.0 L619.6 340.2 L619.8 345.2 L619.9 350.3 L620.1 355.4 L620.2 360.4 L620.4 365.6 L620.5 370.9 L620.7 376.0 L620.8 380.5 L620.8 384.6 L620.8 388.4 L620.8 391.6 L620.8 393.8"/>
</g>
<path d="M121.50 398.40L130.50 398.40M477.50 398.40L486.50 398.40M121.50 355.91L130.50 355.91M477.50 355.91L486.50 355.91M121.50 313.43L130.50 313.43M477.50 313.43L486.50 313.43M121.50 270.94L130.50 270.94M477.50 270.94L486.50 270.94M121.50 228.46L130.50 228.46M477.50 228.46L486.50 228.46M121.50 185.97L130.50 185.97M477.50 185.97L486.50 185.97M121.50 143.49L130.50 143.49M477.50 143.49L486.50 143.49M121.50 101.00L130.50 101.00M477.50 101.00L486.50 101.00M121.50 58.52L130.50 58.52M477.50 58.52L486.50 58.52M194.75 56.00L194.75 65.00M194.75 390.00L194.75 399.00M267.80 56.00L267.80 65.00M267.80 390.00L267.80 399.00M340.85 56.00L340.85 65.00M340.85 390.00L340.85 399.00M413.90 56.00L413.90 65.00M413.90 390.00L413.90 399.00M566.40 398.40L575.40 398.40M921.00 398.40L930.00 398.40M566.40 355.91L575.40 355.91M921.00 355.91L930.00 355.91M566.40 313.43L575.40 313.43M921.00 313.43L930.00 313.43M566.40 270.94L575.40 270.94M921.00 270.94L930.00 270.94M566.40 228.46L575.40 228.46M921.00 228.46L930.00 228.46M566.40 185.97L575.40 185.97M921.00 185.97L930.00 185.97M566.40 143.49L575.40 143.49M921.00 143.49L930.00 143.49M566.40 101.00L575.40 101.00M921.00 101.00L930.00 101.00M566.40 58.52L575.40 58.52M921.00 58.52L930.00 58.52M639.20 57.00L639.20 66.00M639.20 390.00L639.20 399.00M711.90 57.00L711.90 66.00M711.90 390.00L711.90 399.00M784.60 57.00L784.60 66.00M784.60 390.00L784.60 399.00M857.30 57.00L857.30 66.00M857.30 390.00L857.30 399.00M939.50 398.80L946.00 398.80M951.00 398.80L957.50 398.80M939.50 353.14L946.00 353.14M951.00 353.14L957.50 353.14M939.50 307.48L946.00 307.48M951.00 307.48L957.50 307.48M939.50 261.82L946.00 261.82M951.00 261.82L957.50 261.82M939.50 216.16L946.00 216.16M951.00 216.16L957.50 216.16M939.50 170.50L946.00 170.50M951.00 170.50L957.50 170.50M939.50 124.84L946.00 124.84M951.00 124.84L957.50 124.84M939.50 79.18L946.00 79.18M951.00 79.18L957.50 79.18" stroke="#000" stroke-width="1" fill="none"/>
<g fill="none" stroke="#000">
<path d="M121.95 55.75V399" stroke-width="0.85"/>
<path d="M121.5 56H486.9" stroke-width="0.5"/>
<path d="M486.5 55.6V399" stroke-width="0.8"/>
<path d="M121.5 398.8H486.9" stroke-width="0.9"/>
<path d="M566.5 56.7V399" stroke-width="0.95"/>
<path d="M566 57.05H930.8" stroke-width="0.7"/>
<path d="M930.5 56.7V399" stroke-width="0.5"/>
<path d="M566 398.8H930.8" stroke-width="0.9"/>
<path d="M939.5 57V399" stroke-width="0.8"/>
<path d="M939.1 57.3H957.9" stroke-width="0.7"/>
<path d="M957.4 57V399" stroke-width="0.8"/>
<path d="M939.1 398.8H957.9" stroke-width="0.8"/>
</g>
<g font-family="'Liberation Sans', sans-serif" font-size="24" fill="#000" text-anchor="end">
<text transform="translate(100.6 406.7) scale(1 1.06)">0</text>
<text transform="translate(100.6 365.2) scale(1 1.06)">0.5</text>
<text transform="translate(100.6 322.6) scale(1 1.06)">1</text>
<text transform="translate(100.6 279.1) scale(1 1.06)">1.5</text>
<text transform="translate(100.6 237.2) scale(1 1.06)">2</text>
<text transform="translate(100.6 194.7) scale(1 1.06)">2.5</text>
<text transform="translate(100.6 152) scale(1 1.06)">3</text>
<text transform="translate(100.6 109.2) scale(1 1.06)">3.5</text>
<text transform="translate(100.6 66.6) scale(1 1.06)">4</text>
<text transform="translate(546 406.7) scale(1 1.06)">0</text>
<text transform="translate(546 365.2) scale(1 1.06)">0.5</text>
<text transform="translate(546 322.6) scale(1 1.06)">1</text>
<text transform="translate(546 279.1) scale(1 1.06)">1.5</text>
<text transform="translate(546 237.2) scale(1 1.06)">2</text>
<text transform="translate(546 194.7) scale(1 1.06)">2.5</text>
<text transform="translate(546 152) scale(1 1.06)">3</text>
<text transform="translate(546 109.2) scale(1 1.06)">3.5</text>
<text transform="translate(546 66.6) scale(1 1.06)">4</text>
</g>
<g font-family="'Liberation Sans', sans-serif" font-size="24" fill="#000" text-anchor="middle">
<text transform="translate(125.3 442.5) scale(1 1.06)">0</text>
<text transform="translate(197.5 442.5) scale(1 1.06)">1</text>
<text transform="translate(271.1 442.5) scale(1 1.06)">2</text>
<text transform="translate(343.9 442.5) scale(1 1.06)">3</text>
<text transform="translate(416.8 442.5) scale(1 1.06)">4</text>
<text transform="translate(489.7 442.5) scale(1 1.06)">5</text>
<text transform="translate(569.8 443) scale(1 1.06)">0</text>
<text transform="translate(642.2 443) scale(1 1.06)">1</text>
<text transform="translate(715.1 443) scale(1 1.06)">2</text>
<text transform="translate(787.8 443) scale(1 1.06)">3</text>
<text transform="translate(860.5 443) scale(1 1.06)">4</text>
<text transform="translate(933.2 443) scale(1 1.06)">5</text>
</g>
<g font-family="'Liberation Sans', sans-serif" font-size="24" fill="#000" text-anchor="start">
<text transform="translate(980 89.1) scale(1 1.06)">1.4</text>
<text transform="translate(980 134.6) scale(1 1.06)">1.2</text>
<text transform="translate(980 180.1) scale(1 1.06)">1</text>
<text transform="translate(980 225.6) scale(1 1.06)">0.8</text>
<text transform="translate(980 271.1) scale(1 1.06)">0.6</text>
<text transform="translate(980 316.6) scale(1 1.06)">0.4</text>
<text transform="translate(980 362.1) scale(1 1.06)">0.2</text>
<text transform="translate(980 407.6) scale(1 1.06)">0</text>
</g>
<g font-family="'Liberation Sans', sans-serif" font-size="24" font-style="italic" fill="#000">
<text x="298" y="479.8">h</text>
<text x="742.6" y="479.6">h</text>
<text transform="translate(42,232.9) rotate(-90)">T</text>
</g>
<g font-family="'Liberation Serif', serif" font-size="27.5" fill="#000">
<text x="45.1" y="39.2">(a)</text>
<text x="542.3" y="39.4">(b)</text>
</g>
</svg>
</body></html>
